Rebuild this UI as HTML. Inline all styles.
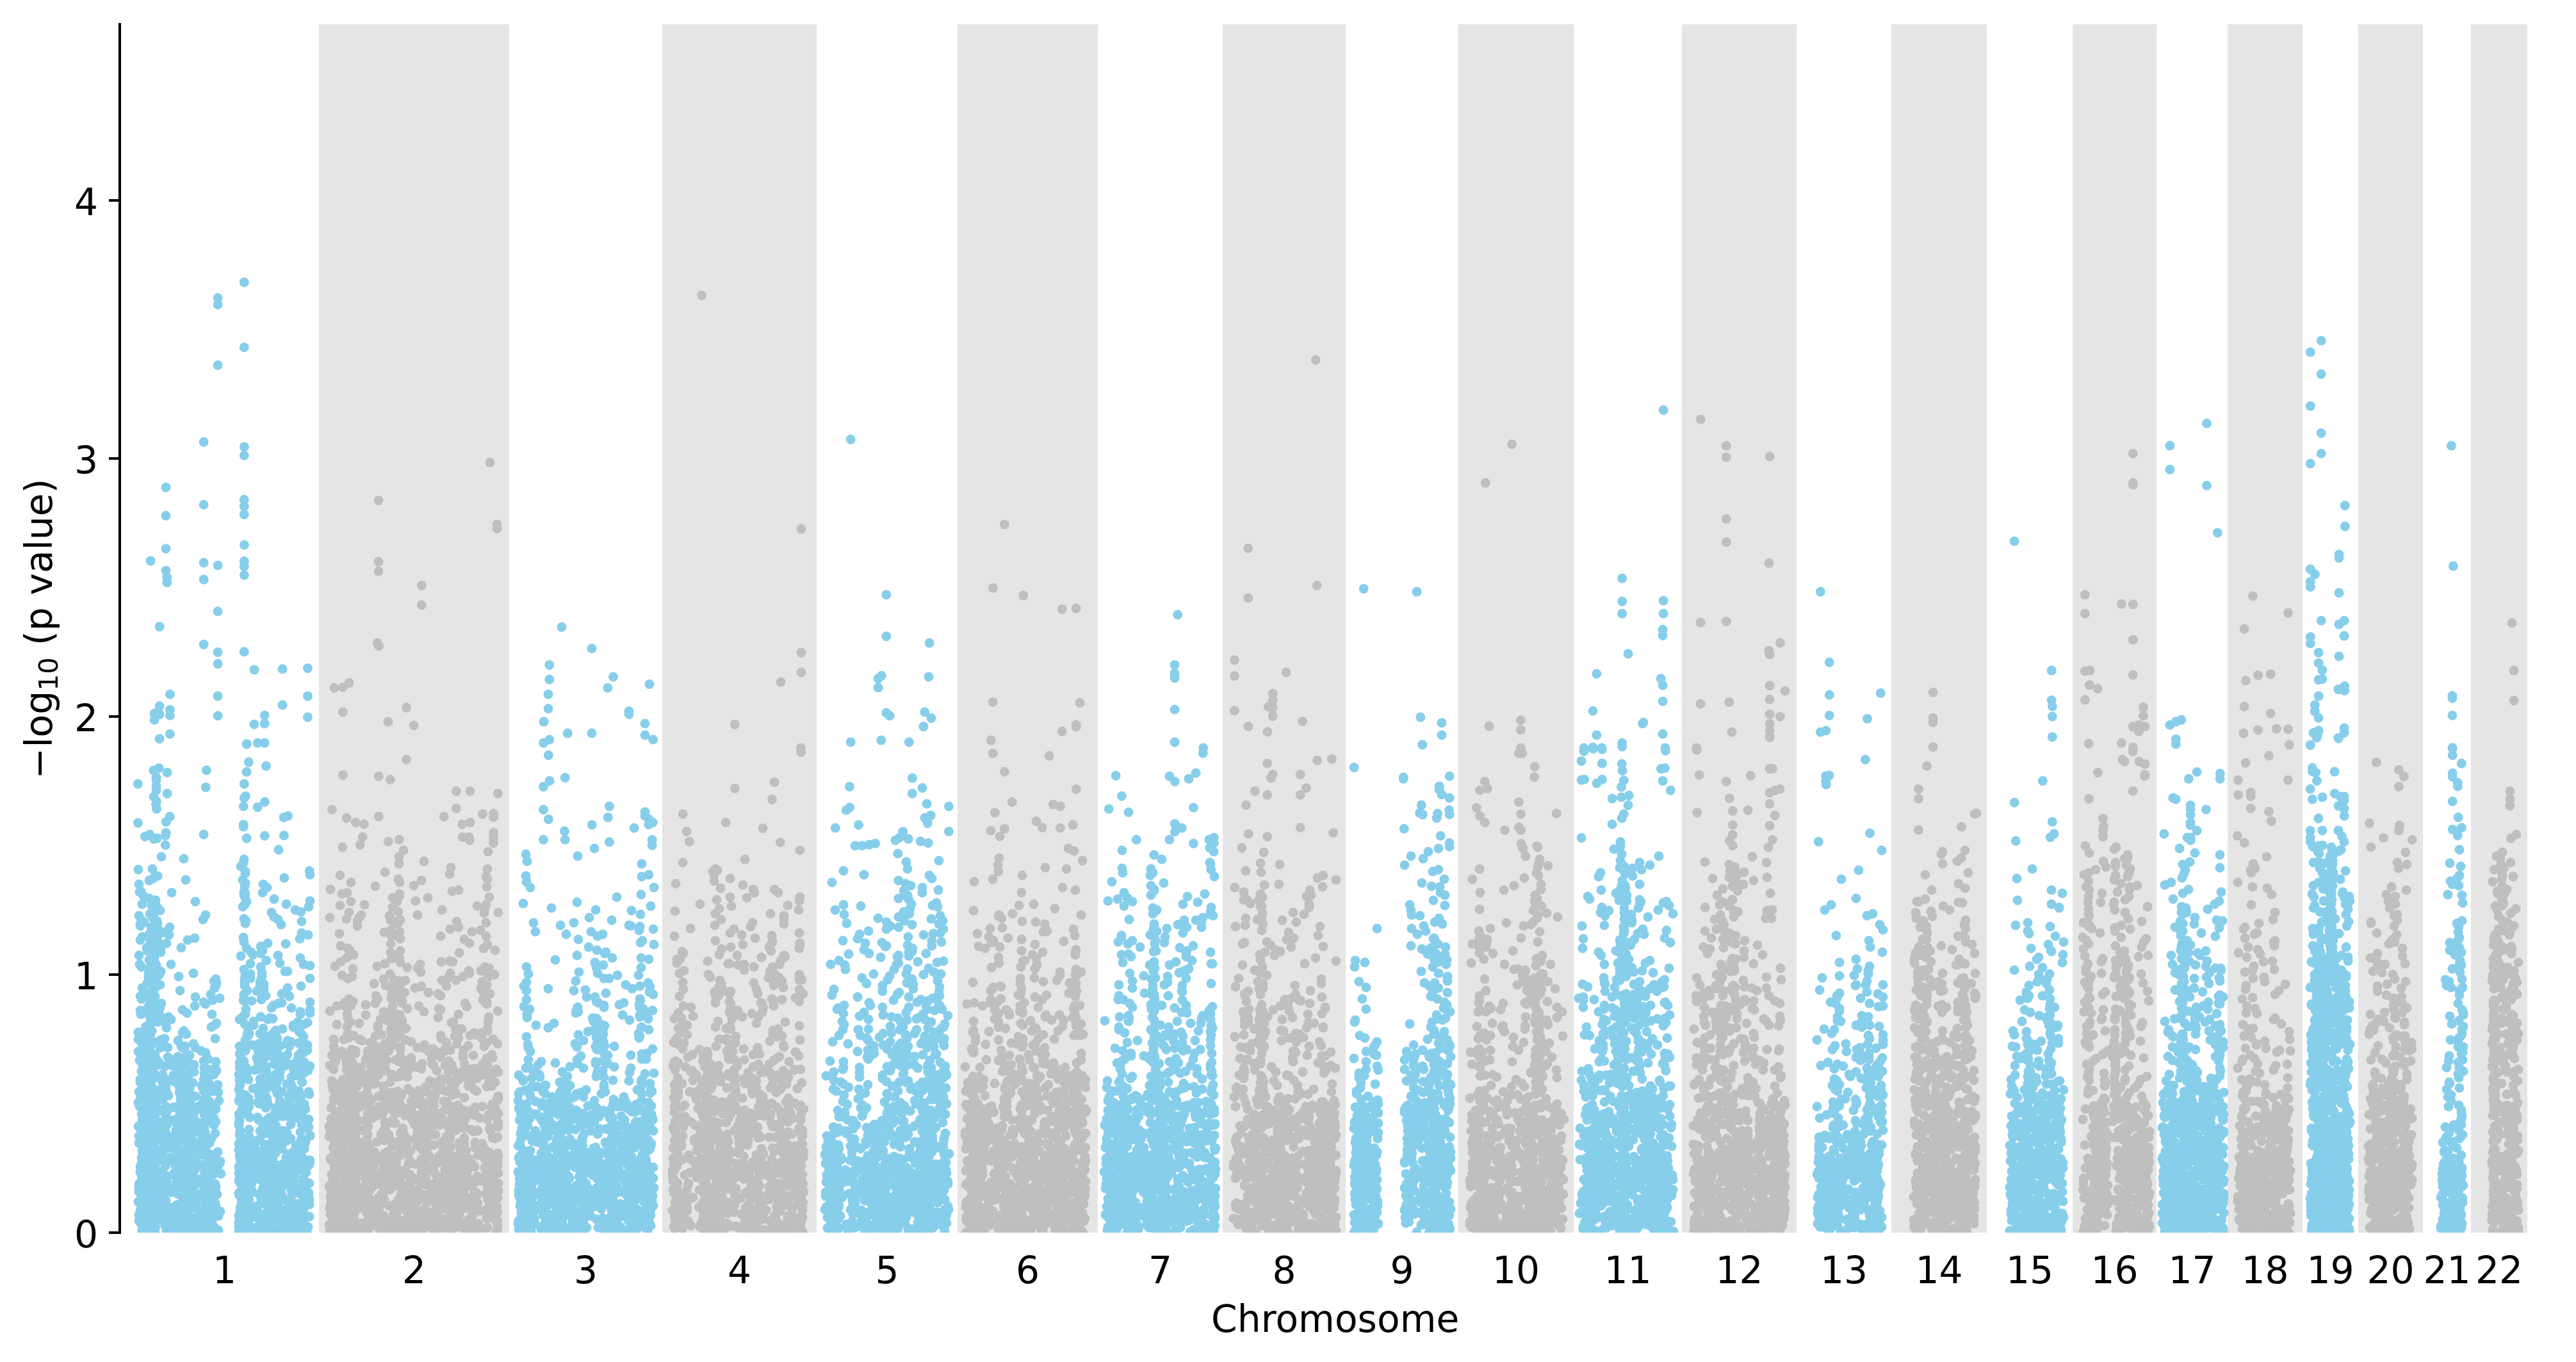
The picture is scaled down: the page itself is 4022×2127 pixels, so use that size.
<!DOCTYPE html><html><head><meta charset="utf-8"><title>Manhattan plot</title><style>html,body{margin:0;padding:0;background:#fff;}svg{display:block;}text{font-family:"DejaVu Sans","Liberation Sans",sans-serif;}</style></head><body><svg width="4022" height="2127" viewBox="0 0 4022 2127"><rect width="4022" height="2127" fill="#fff"/><g fill="#e5e5e5"><rect x="498" y="38" width="297" height="1887"/><rect x="1034" y="38" width="241" height="1887"/><rect x="1495" y="38" width="219" height="1887"/><rect x="1909" y="38" width="192" height="1887"/><rect x="2277" y="38" width="180" height="1887"/><rect x="2626" y="38" width="179" height="1887"/><rect x="2953" y="38" width="149" height="1887"/><rect x="3236" y="38" width="131" height="1887"/><rect x="3478" y="38" width="117" height="1887"/><rect x="3682" y="38" width="101" height="1887"/><rect x="3858" y="38" width="88" height="1887"/></g><clipPath id="c"><rect x="187" y="38" width="3795" height="1887"/></clipPath><g clip-path="url(#c)" fill="none" stroke-linecap="round" stroke-width="15"><path stroke="#87ceeb" d="M225 1923h0m14 0h0m21-2h0m-26 3h0m8 0h0m-20-1h0m3 1h0m4-5h0m4 0h0m-10 0h0m10-1h0m2 1h0m-13 0h0m36-5h0m-15 2h0m-11-3h0m28 4h0m-36 0h0m12 0h0m0-5h0m-15 0h0m2 0h0m17-1h0m0-1h0m-4 1h0m-19-5h0m37 0h0m-36 2h0m24 1h0m13-4h0m-35 2h0m30-3h0m12-3h0m-27 2h0m1-2h0m16 1h0m-24 2h0m5-2h0m10-5h0m-26 0h0m17 1h0m-7 2h0m23-3h0m-28 1h0m37-5h0m-14 4h0m-3-1h0m10 0h0m-10-2h0m-20 0h0m12-4h0m-13 0h0m12 1h0m8 1h0m-22-2h0m11 1h0m16-5h0m-4 3h0m-10-4h0m13 2h0m-1 0h0m-22-1h0m12-2h0m17 0h0m-12-1h0m-5-2h0m-9 4h0m35-1h0m-28-6h0m7-1h0m-9 4h0m16-1h0m7 0h0m2-3h0m-39 0h0m26-1h0m-19 1h0m11-1h0m-14 1h0m39-2h0m-28 1h0m4-3h0m-2-1h0m6 0h0m-8-1h0m-10-2h0m32 3h0m-14-6h0m-11 2h0m15-2h0m-14-1h0m10 1h0m-9 1h0m29-4h0m-21-1h0m-12 2h0m9-3h0m-13 1h0m-5-1h0m6-1h0m22 0h0m-9 0h0m-5-1h0m13-1h0m-21 0h0m-6-3h0m37 0h0m-29 1h0m17-2h0m-25 2h0m7 0h0m10-5h0m15-2h0m-32 0h0m20 1h0m23 2h0m-1-2h0m-5-3h0m-23 1h0m19-2h0m-19-1h0m-7 0h0m8 3h0m28-3h0m-39-2h0m33-2h0m-22 1h0m-9 0h0m6 0h0m18-2h0m-23-3h0m38 0h0m-19 2h0m-8-1h0m-13 0h0m10 1h0m17-4h0m-28 0h0m15 1h0m7 0h0m-8-3h0m2 0h0m1 0h0m-3-2h0m-16-1h0m1-1h0m27 0h0m-10 1h0m17 0h0m-29-2h0m-1-1h0m0-2h0m9 2h0m8-2h0m-9 0h0m-13-3h0m13 1h0m-4 1h0m-3-1h0m9 1h0m24-3h0m-25-5h0m9 3h0m0-1h0m-7 1h0m1-2h0m23 2h0m-19-2h0m-9-3h0m2-1h0m-8 0h0m-4 3h0m13-1h0m2-1h0m12-2h0m8-1h0m-15-2h0m-6 0h0m2-1h0m24 1h0m-34-2h0m7-1h0m-13 2h0m29 0h0m-2-1h0m-7-2h0m-7-1h0m20-1h0m-25 0h0m-5-2h0m1-1h0m9-1h0m-12-2h0m10 3h0m-9 0h0m6-1h0m26-6h0m-12-1h0m2 3h0m17-2h0m-37-4h0m5 3h0m-8-3h0m37-1h0m-27-2h0m-9 0h0m-6-1h0m13 1h0m24-5h0m-13 3h0m-8-4h0m3 2h0m9-3h0m-23 0h0m3-2h0m29-1h0m-19 1h0m15-5h0m-33 2h0m9-1h0m35 0h0m-19-4h0m-6 1h0m5 2h0m0-1h0m-13 0h0m9-4h0m21-2h0m-22 0h0m7 0h0m-17 1h0m-6-5h0m3 2h0m8-3h0m25 1h0m-38 0h0m18-4h0m-20 2h0m45-3h0m-12 4h0m-24-5h0m11-1h0m-3 1h0m12-1h0m-18-4h0m29 0h0m-24 1h0m-10-1h0m20-4h0m-13-2h0m6 3h0m25-2h0m-27-5h0m-8 1h0m12 0h0m-16-1h0m2-1h0m20 0h0m-2-3h0m13 0h0m-28-4h0m7 0h0m-5 3h0m33 0h0m-7-3h0m-36-4h0m11 3h0m10 0h0m20-3h0m-16-4h0m-9 3h0m2 0h0m1-2h0m-21-3h0m20 0h0m-18 0h0m16-1h0m-15-4h0m18 2h0m17-2h0m-30 0h0m14-3h0m3-2h0m10 1h0m-11-2h0m-20-1h0m39-2h0m-42-3h0m43 0h0m-29 1h0m-10-6h0m26 3h0m-2 0h0m14-7h0m-24 1h0m2 0h0m-14-1h0m4-4h0m-6 1h0m34-2h0m-36-1h0m17-1h0m18 2h0m-35-5h0m28-3h0m-23 4h0m25-4h0m-9-1h0m-7 1h0m7-1h0m-5-5h0m19 1h0m-19 0h0m-6-2h0m2-2h0m-10-1h0m19 1h0m-9-7h0m3 3h0m-11-2h0m27-5h0m8 2h0m-18 0h0m-17-5h0m-1 1h0m19 0h0m-23-5h0m19 2h0m11 1h0m-14-2h0m-14-5h0m3 0h0m21 2h0m-22-4h0m40 1h0m-32-2h0m-10-5h0m11-1h0m11 4h0m-25-5h0m-1 0h0m4 0h0m4-2h0m10-3h0m16-1h0m12 0h0m-11-1h0m4-1h0m-32-2h0m13-1h0m-14-1h0m7-2h0m11-1h0m-10-4h0m21 1h0m-35-1h0m9-1h0m32 0h0m-36-3h0m3-2h0m-6 1h0m17-3h0m-11-3h0m-1-1h0m-7 1h0m19-4h0m2 2h0m23-5h0m-32-2h0m7-3h0m24-1h0m-13-3h0m-9 0h0m0-4h0m-2 2h0m-1-7h0m17 1h0m-12-4h0m-19 0h0m17-3h0m11-2h0m-15 2h0m-14-3h0m19-2h0m12-3h0m-19 0h0m3-6h0m18 0h0m-13-3h0m1 0h0m-19-4h0m12-1h0m-14-3h0m23 0h0m-13-2h0m8-1h0m2-4h0m-3-1h0m6-5h0m-20 0h0m18-3h0m10-2h0m-7 2h0m-13-5h0m9 3h0m5-5h0m-9-2h0m3-1h0m0-3h0m-6 0h0m17-5h0m-15 1h0m6-4h0m-1 3h0m-7-2h0m19-3h0m-13-2h0m-5-3h0m5 1h0m6-6h0m-23 3h0m17-6h0m-20 2h0m22-3h0m-2-4h0m-5 0h0m8 1h0m0-5h0m-1 0h0m-2 0h0m-21-3h0m22 1h0m-1-5h0m13-1h0m0-5h0m-21 3h0m-1-5h0m4 2h0m7-7h0m9 2h0m-3-1h0m-11-6h0m25 3h0m-41-5h0m27 1h0m-5-5h0m-5 0h0m-14-1h0m11-4h0m11 2h0m15-6h0m-7 2h0m-15-3h0m10-3h0m-1 1h0m-9-1h0m-18-5h0m17 2h0m-17-5h0m27-1h0m-1-4h0m-20 2h0m14-6h0m-18 3h0m-4-7h0m22 0h0m-3-1h0m-2-2h0m4-2h0m12-3h0m-10-4h0m7 1h0m-10-5h0m7 1h0m-22-3h0m16-6h0m5 0h0m-10-3h0m-9-4h0m-6-6h0m2-1h0m-3-11h0m16-6h0m6-3h0m7-4h0m-30-10h0m22-1h0m14-19h0m68 585h0m-29 0h0m-26 0h0m66-1h0m-6 1h0m16-2h0m-18 4h0m-38-4h0m12-1h0m-20 0h0m23 0h0m3-2h0m8 2h0m24-3h0m-13-4h0m-7 0h0m10 3h0m-57-3h0m45 4h0m11-2h0m5 0h0m-37 2h0m-14-7h0m38 2h0m2-1h0m-26 1h0m19-1h0m14-1h0m-13 1h0m16 0h0m-38-4h0m33-1h0m-9 0h0m13-1h0m-44 2h0m48 1h0m-12-2h0m-17 0h0m3-4h0m-17 1h0m25 0h0m-39-1h0m10-1h0m-4 2h0m-1 0h0m-3-6h0m19 1h0m46 1h0m-50 1h0m1-2h0m-7 0h0m-4 2h0m60-4h0m-15-2h0m-7 1h0m10 0h0m-53 1h0m43-3h0m18 1h0m-20 0h0m-9-5h0m1 1h0m4 1h0m-44-2h0m75 3h0m-52-1h0m20 0h0m-40 0h0m48-3h0m-37 0h0m42-1h0m-57-1h0m38-1h0m-18 3h0m15-2h0m-10 1h0m33-5h0m-25 1h0m36 1h0m-9-3h0m-43 2h0m38-1h0m-47 0h0m4-1h0m47-1h0m4-2h0m-33 0h0m38 1h0m-41 1h0m-10-2h0m19 0h0m16 1h0m4-3h0m10 0h0m-37-2h0m21 2h0m-24 0h0m12-1h0m-2 1h0m23-3h0m-41-1h0m40-1h0m-30 0h0m32-2h0m-28 0h0m0 0h0m6 3h0m-10-2h0m32-3h0m-19-2h0m-25 3h0m4 0h0m-10-3h0m4 0h0m21 2h0m36-2h0m-72-3h0m64 0h0m-26 2h0m-26-1h0m-1-1h0m41 0h0m17-1h0m-59 0h0m22-4h0m29 2h0m-29 0h0m-18-2h0m16 0h0m29 3h0m-38-3h0m-18 0h0m58-2h0m-41-2h0m-11 1h0m61 0h0m-19 0h0m-18 2h0m-13-3h0m38-1h0m2-2h0m-53 1h0m62-2h0m-19 0h0m-13 2h0m26 0h0m-32-5h0m-22 1h0m-1 0h0m14 0h0m-11-2h0m15 3h0m-17 0h0m46-2h0m-41-6h0m35 4h0m-40 0h0m31-3h0m-18 0h0m0 1h0m9-1h0m24 2h0m-4-4h0m-36 1h0m5 0h0m39 0h0m1-2h0m-9 0h0m9 0h0m-28-1h0m-21-4h0m20 0h0m47 0h0m-73 2h0m61-1h0m-13 0h0m-31 1h0m11-3h0m40-4h0m-56 2h0m16-1h0m-10 0h0m35 1h0m-53 2h0m48-1h0m-32-2h0m12-4h0m4 2h0m-20-2h0m42 3h0m-9-4h0m11 2h0m-34 0h0m33 0h0m-23-4h0m13 2h0m2-3h0m-35 2h0m-10-2h0m50 0h0m-36 3h0m-5-3h0m57-3h0m-62 2h0m11-4h0m24 3h0m-17 0h0m33 0h0m14-2h0m-48 2h0m-19-4h0m-2 1h0m7-3h0m27 3h0m-10-4h0m38 0h0m-46 2h0m54 0h0m-67-5h0m12 1h0m11 1h0m23-3h0m-55 3h0m22-2h0m-15 3h0m12-1h0m-5-6h0m18 0h0m36 2h0m-68 1h0m9-3h0m3 3h0m8-2h0m-22 2h0m45-7h0m18 2h0m-41-1h0m7 1h0m19 0h0m-39-5h0m7 1h0m-7-3h0m45 2h0m-5 0h0m25 1h0m-62-5h0m36 0h0m-51-1h0m29 2h0m29-1h0m-19 1h0m-27-7h0m34 4h0m2-4h0m-48 3h0m11-1h0m47-5h0m-18 3h0m24-3h0m-3-1h0m-34 1h0m-16-3h0m42 0h0m-21 1h0m7-1h0m-20-2h0m-16-3h0m11 1h0m13 0h0m26-2h0m-38 1h0m52 1h0m-48-4h0m8 1h0m-20 0h0m20-2h0m0 1h0m46-4h0m-47 2h0m31-4h0m-20 2h0m-26 1h0m1-6h0m0 0h0m30 3h0m9-4h0m-39 3h0m13-6h0m29 0h0m-29-1h0m31 2h0m-22-1h0m5-4h0m-25 1h0m-1-2h0m18 1h0m40 0h0m-13-5h0m-3 1h0m19-1h0m-30 0h0m25 2h0m3-4h0m-41 0h0m32 0h0m-51-2h0m-6 2h0m25-5h0m-12 2h0m18-2h0m-5 1h0m-16-1h0m55 1h0m-32-4h0m-14-2h0m32 0h0m9 2h0m-10-1h0m-29-4h0m5 1h0m-12 0h0m7 1h0m-9-2h0m43 2h0m-35-6h0m14 1h0m-1 0h0m4 0h0m31-2h0m-14-3h0m-5 1h0m-43-1h0m13 0h0m-15 0h0m-2 0h0m59-2h0m-21 1h0m27-2h0m-43-2h0m-4 0h0m7 0h0m21-3h0m10-1h0m-36 1h0m31 1h0m-3-6h0m-37 1h0m16 0h0m44 2h0m-60-6h0m23-1h0m-14 0h0m11 0h0m-12-4h0m33 0h0m-26 0h0m-34 3h0m78-5h0m-9-2h0m-14 0h0m-38 2h0m16-6h0m21 0h0m-28 0h0m30 3h0m-39-6h0m35-2h0m1 2h0m14 1h0m-52-5h0m49 1h0m13 0h0m-14-3h0m-54-2h0m29 2h0m-17-2h0m4 1h0m30-4h0m-25 1h0m32 0h0m-63 0h0m62-6h0m-37 1h0m4-2h0m-13 3h0m-7-4h0m63-1h0m-15-2h0m-23 1h0m7-3h0m24 0h0m11-2h0m-12-2h0m-44 1h0m54-3h0m-17-1h0m-43-2h0m19 1h0m-26-2h0m34-1h0m-25-1h0m20 0h0m-11-1h0m50-3h0m-19-1h0m-49-2h0m56-1h0m-45 0h0m7-1h0m9-5h0m-18 2h0m14-4h0m29-2h0m-7-3h0m-29-5h0m20 0h0m-22-2h0m6 0h0m13-4h0m-24-5h0m58-3h0m-45-7h0m-6-2h0m2-3h0m43-6h0m6-4h0m2-2h0m-71-6h0m-4-4h0m68-4h0m-39-2h0m-7-5h0m19-6h0m17-3h0m-3-3h0m14-3h0m11-3h0m-38-2h0m24-4h0m-48-6h0m54-4h0m2-4h0m1-4h0m-4-3h0m3-3h0m-58-4h0m23-5h0m-35-14h0m16-26h0m10-12h0m11-3h0m-40-5h0m1-12h0m52-12h0m4-7h0m-16-21h0m-37-14h0m22-20h0m-3-33h0m86 582h0m9-2h0m-8 0h0m6-8h0m-7 3h0m0-7h0m4 1h0m-2-4h0m-1-3h0m-1-5h0m12-3h0m-10-2h0m0-7h0m7-3h0m-2-4h0m-3-2h0m3-5h0m-5-5h0m-1 0h0m0-5h0m-1 2h0m6-4h0m2-3h0m-1-4h0m2 2h0m-5-7h0m4 3h0m-6-3h0m-2-4h0m1-4h0m1-7h0m-2-1h0m1-7h0m3-3h0m-4 0h0m7-3h0m-4-6h0m-1-2h0m4-2h0m-5-4h0m5-3h0m-6-6h0m7-1h0m5-6h0m-12-3h0m3-6h0m3-1h0m-5-7h0m1-2h0m0-4h0m-2-9h0m0-4h0m1-3h0m0-5h0m-1-5h0m2-1h0m2-5h0m6-5h0m-4-2h0m0-5h0m-6-3h0m2-7h0m8-2h0m-8-4h0m-2-4h0m1-6h0m1-2h0m0-4h0m-1-3h0m11-6h0m-12-3h0m12-3h0m-1-8h0m-10 0h0m0-7h0m7-3h0m-5-7h0m-2-4h0m9-5h0m2-6h0m-11-1h0m11-5h0m-2-5h0m3-10h0m-4-15h0m-8-7h0m6-5h0m3-3h0m1-8h0m-2-13h0m-2-1h0m1-8h0m0-1h0m5-6h0m-4-8h0m0-4h0m0-4h0m0-2h0m1-7h0m-2-8h0m-5-21h0m9-12h0m-4-10h0m-1-7h0m3-22h0m1-4h0m-3-3h0m-2-19h0m3-3h0m3-5h0m-2-6h0m-2-4h0m2-3h0m-2-2h0m1-9h0m1-5h0m-4-5h0m4-10h0m0-3h0m-7-8h0m4-5h0m1-6h0m5 581h0m1-6h0m-1-1h0m1-6h0m1-3h0m-1-3h0m-1-5h0m1-5h0m-1-4h0m3-4h0m-2-5h0m2-7h0m-3-4h0m7-8h0m0-3h0m-4-5h0m2-3h0m2-3h0m-6-5h0m1-3h0m2-9h0m-4-4h0m6-4h0m-2-5h0m4-9h0m-1-2h0m-6-5h0m0-2h0m5-5h0m-5-4h0m7-10h0m-7-3h0m2-3h0m0-11h0m1-19h0m-4-5h0m2-10h0m1-4h0m0-6h0m-1-5h0m7-15h0m-7-14h0m6-54h0m-6-15h0m1-3h0m-3-11h0m1 0h0m6-40h0m-2-35h0m0-7h0m0-16h0m4-14h0m-3-4h0m69 437h0m-24-1h0m-4 1h0m11 0h0m35-2h0m-65 1h0m60 0h0m-73-1h0m20-1h0m27-4h0m-30 4h0m48-1h0m5 0h0m-14-1h0m-5 0h0m-27-1h0m-21 0h0m67-2h0m-23-1h0m-6 0h0m39 1h0m-26-1h0m11 2h0m-56-4h0m-12 4h0m8-4h0m16-1h0m45-1h0m-29 2h0m20-3h0m14 3h0m-50-3h0m1 3h0m43-4h0m-53-1h0m60 0h0m-16-1h0m-18 0h0m-32-1h0m6 3h0m40-1h0m-42-2h0m56-4h0m-57 1h0m47-2h0m13 2h0m-36 1h0m34-3h0m-36 3h0m-12-1h0m12-1h0m-17-4h0m51 0h0m12 1h0m-35 1h0m40 0h0m-11-1h0m-40-2h0m-18 1h0m-14 3h0m36-6h0m3-2h0m18 3h0m15-2h0m-75 1h0m51-2h0m-34 2h0m17 1h0m31-5h0m-6 2h0m3-4h0m-20 1h0m8 2h0m-25-1h0m24-2h0m-51 2h0m7 2h0m50-8h0m-29 1h0m27-1h0m0 1h0m-20 0h0m39 2h0m5 0h0m-78-3h0m33-2h0m33 1h0m-32-1h0m0 1h0m4-1h0m49-2h0m-85 4h0m25-1h0m-20-1h0m62-3h0m-52 0h0m54 0h0m-50 0h0m-1-1h0m-1-1h0m56 1h0m-12 0h0m13-1h0m-36-5h0m-9 1h0m-18 1h0m6 1h0m34-2h0m-11 1h0m45 0h0m-36 0h0m-17-5h0m-2 1h0m25 1h0m-27-1h0m49 1h0m-67 0h0m75 0h0m-42 0h0m-33-5h0m19-1h0m-14 0h0m27 0h0m16 0h0m-29 1h0m-23-2h0m26 0h0m-20-2h0m72 0h0m-60-2h0m2 2h0m44 1h0m-55 0h0m57 0h0m-43-1h0m-14-1h0m55-5h0m-30 3h0m17 0h0m-38-2h0m61 0h0m-57 0h0m33-1h0m13 0h0m-11-4h0m20 0h0m-45 1h0m2 1h0m-23 1h0m65-3h0m-18 2h0m-44 0h0m52-1h0m-5-5h0m-34 2h0m40 1h0m-17-1h0m7-2h0m18 1h0m-17 1h0m-27 0h0m-14-3h0m56-1h0m-20-2h0m6 0h0m13 2h0m12 1h0m-43-1h0m19 0h0m-53-5h0m9 2h0m-2-1h0m61-3h0m-61 2h0m17 2h0m1-2h0m-16 0h0m2-1h0m-14-3h0m31 1h0m-22 1h0m-17-2h0m59 2h0m-25-3h0m13 1h0m-26 1h0m42-2h0m-55-4h0m18 0h0m23-1h0m-28 1h0m-4 3h0m25-3h0m18 1h0m5 2h0m-44-3h0m5-4h0m-17 1h0m8 2h0m65-3h0m1 2h0m-53 0h0m-21 0h0m29 0h0m38-4h0m-16 1h0m-21-2h0m-17 2h0m-16-2h0m48 0h0m19 0h0m-56-1h0m-9-4h0m17 2h0m45 1h0m-58-3h0m55 3h0m11-1h0m-58 0h0m1 0h0m37-2h0m29-2h0m-69-2h0m48 1h0m-31 1h0m7 1h0m23-4h0m-5 1h0m27 3h0m2-5h0m0-1h0m-63 1h0m-8 0h0m43-3h0m-41 2h0m30 1h0m23-2h0m-53-4h0m41 1h0m28 2h0m-58-3h0m-6 1h0m61 2h0m-10-4h0m-66 3h0m8 1h0m5-4h0m5 0h0m48-2h0m-19 0h0m-51 1h0m1-2h0m13 2h0m32 0h0m12-4h0m-55-3h0m47 2h0m-28 2h0m-14 0h0m21-3h0m-21-4h0m50 1h0m-59-1h0m20 1h0m-4 1h0m49-2h0m10-3h0m-36 0h0m-1-2h0m28 3h0m-26-1h0m-24 2h0m59-8h0m-78 1h0m30 2h0m35-2h0m9 2h0m4-1h0m-53-3h0m55-3h0m-79 1h0m15 2h0m-18-1h0m46 0h0m-11-3h0m40-1h0m-71 1h0m50-2h0m-20 0h0m3 1h0m42-2h0m-48 0h0m28-2h0m-49 1h0m44-3h0m21 4h0m14-6h0m-37 1h0m-23-3h0m17 2h0m-16-2h0m59 1h0m-68-4h0m-2 1h0m19 1h0m15-2h0m-17 3h0m-23-4h0m61 0h0m-33-1h0m-1-2h0m8 1h0m-37 0h0m33 0h0m-14-6h0m57 0h0m-67 1h0m14 0h0m45 1h0m-43-4h0m40-2h0m-45 2h0m28-2h0m24 3h0m2-1h0m-5-3h0m-21 0h0m21-2h0m-21 2h0m-44-1h0m12 1h0m33-7h0m-51 1h0m20 1h0m58-2h0m-68 3h0m3-2h0m55-3h0m-42 0h0m-7 1h0m-2-2h0m42 1h0m-61-1h0m42-2h0m-5 0h0m0 0h0m33 0h0m-41-3h0m6 2h0m-5-3h0m38-2h0m-28 0h0m16 2h0m-12-2h0m31-5h0m-23 2h0m-7-2h0m-16 3h0m-1 0h0m34-3h0m-34-2h0m25 0h0m-1-2h0m-39 2h0m49-1h0m4 2h0m-25-6h0m27 1h0m-20-2h0m-45 0h0m48 2h0m22-2h0m-60-2h0m3 1h0m-15-2h0m6 1h0m0-3h0m8-3h0m48 0h0m-28 3h0m-22-6h0m40 1h0m15-2h0m-19 1h0m6-3h0m26-1h0m-79 1h0m29-2h0m34-4h0m15 1h0m-42 0h0m15-1h0m-48 0h0m24-1h0m29 0h0m-27-2h0m-18 1h0m-10-6h0m20 0h0m32 3h0m-44-2h0m35-4h0m-34 0h0m41 1h0m-36-1h0m9-5h0m-7-1h0m12 2h0m39 1h0m-66-5h0m21-1h0m5 0h0m-2 2h0m25-4h0m-18 1h0m28-3h0m-7 0h0m-43-3h0m16 1h0m43-2h0m-44 2h0m38-6h0m-31 2h0m44-2h0m-65 0h0m53 0h0m-5-2h0m-6-1h0m-54 1h0m-7 1h0m18-6h0m29 0h0m-7-1h0m-4 0h0m51 1h0m-81-6h0m67 0h0m-14 3h0m-51-1h0m23 1h0m17-6h0m-36 0h0m66 3h0m-64-4h0m-7-3h0m61 2h0m-32-3h0m-32 1h0m65-4h0m1-1h0m-32 0h0m-13 2h0m49-5h0m-22 3h0m-33-1h0m58-2h0m-60-4h0m-11 1h0m77-1h0m-9 2h0m-43-4h0m-17-3h0m6 0h0m13 0h0m8-2h0m14 1h0m28-2h0m-5 1h0m-9-4h0m-39-1h0m-23 2h0m16-3h0m29-2h0m5 2h0m-22-4h0m-19 0h0m20-2h0m41-2h0m-62 3h0m12-6h0m-13 0h0m61 0h0m-45 1h0m40-6h0m-38 0h0m-23 3h0m35-7h0m-10 2h0m27-5h0m-47 2h0m47-5h0m-62 0h0m78-1h0m-9-4h0m-69-1h0m84 2h0m-62-5h0m8-1h0m-19-3h0m14 2h0m48-6h0m15-2h0m-15-2h0m15-3h0m-60-3h0m31 0h0m-28-4h0m8-3h0m5-1h0m44-1h0m-76-4h0m7-6h0m37 1h0m-12-4h0m-30-2h0m2-1h0m-11-1h0m48-5h0m-37 0h0m-6-4h0m64 1h0m-58-3h0m-6-3h0m78-6h0m-76 0h0m1-3h0m0-6h0m36-2h0m4 0h0m-42-7h0m77-2h0m-10-2h0m-37-2h0m-21-4h0m53-4h0m-35-4h0m-27-3h0m3-5h0m-3-6h0m39-4h0m-28-1h0m50-7h0m13-6h0m-10-3h0m-32-13h0m32-5h0m-37-3h0m-6-4h0m-4-7h0m46-1h0m-9-3h0m21-5h0m-35-4h0m37-5h0m-56-3h0m-18-10h0m7-8h0m-6-5h0m33-10h0m40-5h0m-1-6h0m-48-33h0m448 596h0m-54 0h0m54 0h0m-4-1h0m-66 2h0m45-2h0m19-1h0m-3 0h0m3-1h0m-15 1h0m-52-1h0m35 0h0m15-3h0m-45 2h0m72 0h0m-10-1h0m-56-5h0m51 4h0m-11-1h0m20 0h0m8 1h0m-14-2h0m-63-1h0m51 2h0m-11-5h0m-16 1h0m21 0h0m-48-1h0m42-1h0m-25 0h0m41 1h0m5-1h0m-60-4h0m59 0h0m7 0h0m-22 1h0m13-2h0m-59 1h0m49 2h0m-45-1h0m17 1h0m31-4h0m15 0h0m-43-1h0m27 0h0m16-1h0m-46-1h0m1 2h0m-6 0h0m54-6h0m-32 1h0m-16 0h0m27-1h0m-44 0h0m58 1h0m-5 1h0m-17-1h0m24-3h0m2-2h0m5 3h0m-56-2h0m7-1h0m-19 2h0m63-1h0m-1 1h0m-7-6h0m-29 0h0m-26 1h0m68 1h0m-36-2h0m-29 3h0m53-2h0m19 3h0m-37-6h0m-30 1h0m25 1h0m0-3h0m34 2h0m-30 1h0m-4-3h0m-14 2h0m14-4h0m3-3h0m3 4h0m-41-2h0m2 0h0m19-2h0m-19 1h0m3 0h0m47-1h0m-18-4h0m-33 0h0m60 0h0m4 1h0m-46 2h0m-12-1h0m67-1h0m-3 2h0m-11-6h0m-17 0h0m31-1h0m-30 3h0m2 0h0m-8-3h0m29 1h0m-1 1h0m-67-6h0m61 1h0m-42 1h0m-9 0h0m66-1h0m-39 0h0m29 1h0m-29 0h0m30 0h0m-6-6h0m4 1h0m-8 1h0m-58-2h0m38 0h0m33 1h0m-44 0h0m30-1h0m1 3h0m-28-4h0m-8-2h0m53 2h0m-42-3h0m4 1h0m38-1h0m-27 3h0m24-3h0m-12-1h0m-23-3h0m-24 1h0m8 1h0m27-1h0m-48 1h0m3-2h0m14 0h0m-11-2h0m35 0h0m24-1h0m-28 0h0m31 2h0m-60-3h0m63 2h0m-68 0h0m-1-5h0m67 1h0m6 0h0m-33 1h0m11-2h0m-52 0h0m61-1h0m-54 2h0m6 1h0m31-7h0m22 2h0m-26 0h0m-31 0h0m-4 1h0m16-1h0m-1 1h0m-17 0h0m50-3h0m11-3h0m-28 1h0m19 1h0m0-1h0m-55-2h0m63 1h0m-25 2h0m2 0h0m-8-1h0m45-6h0m-8 3h0m9 0h0m-62-1h0m11-1h0m48-1h0m-29 0h0m-41 2h0m64-5h0m-53 0h0m40 2h0m8-4h0m6 2h0m-70 0h0m32 0h0m-16 0h0m41-3h0m-53-1h0m21 0h0m-27 0h0m15 0h0m-2-1h0m3 0h0m3 1h0m17-4h0m-22 2h0m23 0h0m-29-3h0m41 2h0m11-1h0m-53 0h0m25 2h0m41-4h0m-11 0h0m5-4h0m-8 2h0m-31-2h0m47 4h0m-11-3h0m-41 2h0m45-6h0m-31 2h0m-13 1h0m-16-2h0m10-1h0m21 2h0m31-1h0m-20 0h0m-33-2h0m19-1h0m25-1h0m-54 1h0m42 0h0m-46 0h0m74-3h0m-69 3h0m67-3h0m-5-3h0m-61 3h0m17 0h0m17-1h0m-42-3h0m19 2h0m39 2h0m20-7h0m-73 0h0m55-1h0m2 1h0m-60 0h0m45 2h0m-43-1h0m56 2h0m-24-4h0m-1-3h0m33 1h0m-1-1h0m-29 2h0m27 1h0m-23-7h0m24 3h0m-6-3h0m-48 1h0m-5 1h0m11-2h0m-12-1h0m34-4h0m4 4h0m22-2h0m-1-2h0m-8 1h0m10-2h0m-68-2h0m3 0h0m51 2h0m15-2h0m5 2h0m6-3h0m-78-1h0m34-1h0m34-2h0m-5 3h0m8 0h0m-51-5h0m53 1h0m-35 0h0m-12 0h0m32 0h0m7 0h0m-28-7h0m-35 4h0m29-3h0m28 1h0m6-1h0m-7 3h0m-14-5h0m20-1h0m-24-2h0m-13 1h0m13 1h0m-25 0h0m-13-3h0m61-1h0m1-2h0m-62 1h0m8 2h0m55-6h0m-40 1h0m-21-1h0m51 1h0m21-1h0m-36 3h0m-31-8h0m35 1h0m31-1h0m-34 0h0m-37 1h0m42 3h0m19-8h0m-10 2h0m-16 0h0m36-1h0m-62 1h0m27 0h0m-36-5h0m44-1h0m-9 1h0m35 1h0m-69-2h0m73 1h0m-32-5h0m-46 1h0m35 1h0m35 1h0m-67-2h0m12-5h0m-1 3h0m22-2h0m-4 0h0m-16 2h0m25 0h0m-38-4h0m24-3h0m-2 0h0m36 1h0m16 1h0m-53-2h0m43-4h0m-19 1h0m30 2h0m-21-1h0m-55 1h0m2-2h0m10-2h0m-11-1h0m50-1h0m-9 0h0m7-1h0m27-3h0m-34-1h0m-45 3h0m45-2h0m13 0h0m-46-5h0m24 3h0m30 0h0m1-1h0m6 1h0m-5-3h0m-4-1h0m-18 0h0m-20-3h0m10 2h0m30-2h0m-8-1h0m19-1h0m-21-2h0m-57 3h0m53-6h0m22-1h0m-9 3h0m5-1h0m-70-6h0m41 0h0m27 1h0m-50 2h0m20-6h0m-36 0h0m65 0h0m-3 2h0m3-5h0m-58 1h0m29 0h0m37 0h0m-56-5h0m10-1h0m-3 0h0m16-2h0m-1 0h0m-34-7h0m62 1h0m-5 1h0m-44-6h0m-14 1h0m27-3h0m43-1h0m-76-2h0m32-1h0m-10-6h0m46 2h0m-57-6h0m19-5h0m-15 2h0m42-5h0m-22-2h0m-20-3h0m3-13h0m-3-6h0m-1-5h0m-2-12h0m34-14h0m-19-4h0m28-3h0m-42-9h0m0-5h0m4-8h0m-9-4h0m4-11h0m0-14h0m34-3h0m-38-4h0m4-6h0m3-13h0m-3-11h0m45-11h0m17-40h0m-48-4h0m39-10h0m-42-4h0m28-23h0m-44-7h0m11-25h0m-6-9h0m-1-9h0m2-23h0m-2-11h0m162 589h0m-72 1h0m-6 1h0m81 0h0m-21-1h0m-71 0h0m85 0h0m-76 0h0m108-1h0m-23 1h0m-24-3h0m24 2h0m2-6h0m-35 1h0m-21-1h0m49 1h0m-14 2h0m25 0h0m-96-1h0m83 2h0m-38 0h0m13-1h0m-46-2h0m38 0h0m46 0h0m-25-2h0m-23-3h0m-6 1h0m-42 3h0m43-3h0m75 0h0m-55 0h0m-61 1h0m96 2h0m11 0h0m-91 0h0m-18-2h0m54-2h0m50-1h0m4 0h0m9 0h0m-16 0h0m-45-2h0m10 2h0m-18-3h0m-49 3h0m93-1h0m-36 1h0m32-2h0m13-2h0m-97-2h0m79 0h0m12 2h0m-37 0h0m-45-1h0m80-1h0m-92 0h0m12-1h0m-9 2h0m97 2h0m-105-2h0m68-6h0m-21 1h0m51 0h0m-96 0h0m56 0h0m61 1h0m-107 0h0m76-1h0m-51 2h0m19 0h0m-57-2h0m62 0h0m53-3h0m-39 0h0m2 0h0m-3 1h0m-72-2h0m-5 1h0m20 2h0m81-1h0m24-2h0m-94 1h0m-12 0h0m56-1h0m-6-5h0m25 3h0m-15-3h0m36 0h0m-50 3h0m-54-2h0m1 2h0m99-1h0m-30 0h0m-67 0h0m8 1h0m73-1h0m-30-4h0m8-1h0m-9 1h0m-41 1h0m-22 1h0m64-2h0m41 0h0m-40-1h0m35 0h0m-95-1h0m1 3h0m118-3h0m-90-4h0m89 3h0m-104-3h0m97 3h0m-69 0h0m51-3h0m-80 3h0m73-2h0m-11-1h0m22 3h0m-77-2h0m100 0h0m-30-3h0m-32-2h0m9 2h0m-2-1h0m-27 2h0m47-1h0m38 0h0m-89-1h0m38 1h0m-21-2h0m-56 1h0m64 0h0m51-3h0m-38 1h0m-62-3h0m107 0h0m-62 0h0m59 0h0m-101 2h0m71-1h0m-69-1h0m10 0h0m33 1h0m-59 1h0m122-3h0m-27 0h0m-34-3h0m53 0h0m-108 2h0m111 0h0m-59-1h0m2-1h0m49 3h0m-94 0h0m44-2h0m-46 2h0m47-1h0m-9-3h0m35 0h0m6-3h0m-88 0h0m92 2h0m26-1h0m-83 0h0m12-1h0m-9 3h0m-19-1h0m24-1h0m49 1h0m-35-5h0m25 1h0m35-1h0m0 2h0m-64-3h0m24 0h0m-45 2h0m1-2h0m1 3h0m17-1h0m31-2h0m37 2h0m-68-6h0m63 2h0m-90 1h0m-15-3h0m54 1h0m13 1h0m-43 0h0m31-1h0m-46 1h0m29-1h0m54 2h0m-66 0h0m-18-7h0m32 2h0m-58-1h0m122-1h0m-45 2h0m-69-1h0m116 1h0m-24-1h0m-46 2h0m-10-1h0m59-1h0m-95 0h0m122-3h0m-38 1h0m-79-4h0m15 4h0m68-2h0m24 1h0m-111-2h0m35 0h0m76 1h0m-79 1h0m24-2h0m27 2h0m-84-3h0m106-1h0m3-2h0m-4 3h0m-41-1h0m-6 1h0m56-2h0m-76-1h0m42 2h0m3 0h0m10 0h0m-12-1h0m-78 1h0m75-5h0m22-1h0m-84 3h0m78-1h0m-11 0h0m-27-1h0m-48-1h0m37 2h0m40-1h0m-75-1h0m103 3h0m-3-1h0m-8-5h0m17-2h0m-58 1h0m29 1h0m11 1h0m-9 0h0m-58-2h0m76 1h0m-66 2h0m18-3h0m-14 2h0m39-1h0m-32-4h0m0-1h0m-17-1h0m-33 2h0m53-1h0m63 3h0m-52-2h0m-59 0h0m32 1h0m40-2h0m-29 0h0m-19 2h0m48-4h0m9-2h0m-36 3h0m28-4h0m-7 2h0m-19-1h0m0 1h0m38 1h0m-88-1h0m20 2h0m89-2h0m-106 1h0m17-3h0m-10 0h0m37 0h0m32-3h0m-29 3h0m51-2h0m-98-1h0m-2 0h0m44 2h0m27 1h0m-37-1h0m73-2h0m-51-3h0m-52 1h0m32 0h0m62-2h0m-87 0h0m38 1h0m-43-1h0m70 0h0m-71 2h0m-3 0h0m99-2h0m-17 1h0m29-3h0m-63-3h0m9 3h0m-44 0h0m-17-1h0m31 0h0m54 2h0m21-4h0m-113 3h0m108 0h0m-87-1h0m39 1h0m6-4h0m25-3h0m11 3h0m-41-1h0m-66 0h0m61-2h0m26 2h0m15 0h0m-94 1h0m55 0h0m-54 1h0m40-2h0m67-2h0m-57-1h0m-23-2h0m55 1h0m-84 2h0m81 0h0m-46-2h0m-24-1h0m83 2h0m15-2h0m-38 2h0m-68 1h0m8-8h0m-1 3h0m47-3h0m48 1h0m-104 1h0m87 2h0m-34-2h0m-34 0h0m79 1h0m-45 1h0m-21-4h0m75 1h0m-112-2h0m73-1h0m-59 0h0m47-1h0m-2 1h0m-4 0h0m-53 0h0m105 2h0m2-1h0m-19-1h0m-83 1h0m72 0h0m-4-4h0m-64 1h0m98-1h0m-60-2h0m17 0h0m41 2h0m-53-2h0m-20 1h0m18-1h0m-37-3h0m29 2h0m-29-3h0m-13 0h0m84 2h0m-1-1h0m-65 2h0m40 0h0m-58-4h0m29-3h0m27-1h0m59 4h0m-21-4h0m23 2h0m-106 2h0m47 0h0m58-2h0m-42-3h0m-3-3h0m13 3h0m34-1h0m-10 1h0m-96-1h0m45 2h0m-25 0h0m16-6h0m-48 0h0m104-1h0m-10 0h0m-12 2h0m37-1h0m-19 2h0m-20-1h0m9 0h0m-78-5h0m83 1h0m-47 1h0m67-4h0m-55 1h0m23 0h0m11 0h0m-25 1h0m-6-2h0m42-1h0m-93-2h0m47 0h0m45-1h0m-1 1h0m-45 1h0m-65 1h0m92 0h0m13-6h0m-25 1h0m-3-1h0m37-1h0m-6 4h0m-5-2h0m-12 1h0m-20-2h0m21-1h0m26-2h0m-96 1h0m67 0h0m-46 0h0m43 1h0m21-1h0m-31 1h0m16-2h0m0-2h0m29-2h0m-1 0h0m-112-2h0m37 1h0m18 1h0m10 1h0m57-1h0m-98 0h0m61-3h0m3-2h0m-1 3h0m5 0h0m-2-3h0m4 2h0m-56 0h0m9 0h0m69-6h0m-44 1h0m31-1h0m-35 0h0m-58 2h0m86 1h0m-39-1h0m0-2h0m22 2h0m-49-6h0m-21 1h0m85-1h0m-69 0h0m86 2h0m-10-3h0m-85 2h0m79-2h0m5 0h0m-90-2h0m94 1h0m-47-2h0m20 0h0m-57 0h0m56 1h0m31 1h0m-103-2h0m117 0h0m-97-5h0m30 2h0m67 1h0m-63 0h0m-1-3h0m58 2h0m-78-2h0m82-4h0m-9 3h0m-55-2h0m-55 1h0m26-1h0m46 2h0m-69 0h0m30-2h0m60-4h0m-96 0h0m117-1h0m-26 0h0m-47 3h0m-28 0h0m24-2h0m-34-2h0m-2-1h0m85-2h0m6 1h0m19 2h0m-67-1h0m56 0h0m-43-4h0m10-2h0m22 2h0m-15-2h0m39 3h0m-31 0h0m-49-1h0m62-5h0m24 2h0m-60-2h0m-39 2h0m61-3h0m-3 0h0m-9-2h0m3 0h0m43 0h0m-15 1h0m4-5h0m-44-1h0m-30 2h0m48 0h0m-79-6h0m-5 2h0m82-2h0m-63 0h0m-11-3h0m102-2h0m-102 0h0m39 0h0m76-1h0m-108-1h0m38-1h0m73-1h0m-23-2h0m-80 0h0m101 0h0m-14-7h0m-59 2h0m0-3h0m-53 1h0m125-3h0m-14-4h0m-19 0h0m20-1h0m0-1h0m-45 1h0m-26-6h0m12 1h0m-11-5h0m75 0h0m14-1h0m-88-3h0m8-1h0m42 3h0m-72-7h0m74 0h0m-95-2h0m69 0h0m-10-5h0m-19 0h0m-28 0h0m-1-6h0m40 2h0m-11 1h0m79-4h0m-7 0h0m-53-6h0m36 0h0m-78 1h0m36-5h0m67 1h0m-8 1h0m-67-7h0m-3 0h0m0-1h0m-31-3h0m118 3h0m-60-4h0m-29 0h0m14-1h0m-46-3h0m44-3h0m-9-1h0m-22-1h0m30-1h0m57-3h0m-66 1h0m-1-3h0m11-4h0m57 3h0m-96-2h0m94-2h0m-56-2h0m-23-1h0m95-3h0m-72 1h0m-14 0h0m75-5h0m-1 1h0m-59 0h0m-1-4h0m3 1h0m-12-3h0m1-3h0m-6-1h0m6 0h0m79-4h0m-80 0h0m51 2h0m16-5h0m-74 2h0m4 0h0m70-5h0m-27 0h0m-69-5h0m-4 2h0m112-1h0m-111-3h0m104-3h0m15 3h0m-20-4h0m-56-1h0m-41 0h0m96-4h0m-31 0h0m-24 1h0m-12-6h0m3 2h0m40 0h0m26-4h0m-1-2h0m-70-3h0m-13 0h0m104-4h0m-74-2h0m68-2h0m-118-2h0m91-3h0m-73 2h0m85-6h0m16 1h0m-38-3h0m35-3h0m-113-3h0m52-4h0m-8 0h0m21-5h0m33 0h0m-64-3h0m-29-2h0m97-7h0m-70 0h0m11-4h0m-12-1h0m-1-3h0m84-5h0m-12-2h0m-45 0h0m-55-4h0m45-5h0m-2 2h0m-12-5h0m-13-5h0m102-4h0m-21-3h0m-97-5h0m100 2h0m-70-7h0m8-3h0m-18-4h0m75-2h0m22-2h0m-35-5h0m14 1h0m-17-2h0m-86-4h0m59-4h0m-35-4h0m80-5h0m-14-6h0m-56-1h0m86-6h0m-115-6h0m62-8h0m38-4h0m20-11h0m-19-17h0m11-3h0m-11-17h0m-100-12h0m26-12h0m453 598h0m-21-2h0m-61 1h0m52 1h0m-27-1h0m71 1h0m-34 1h0m-2-1h0m-33 0h0m-34-5h0m65 0h0m-28 1h0m35-1h0m-6-1h0m37 2h0m-85-1h0m-15 1h0m78-1h0m-7-2h0m33-1h0m-96-2h0m72 4h0m-68-2h0m28 2h0m46-2h0m-16-1h0m-22 1h0m11-5h0m-33 2h0m69-2h0m-87 1h0m-2-1h0m-4 0h0m5 2h0m1 0h0m97-3h0m-32 0h0m-66 0h0m89-4h0m-61 3h0m49-1h0m19 1h0m-54 0h0m-42 0h0m-3 1h0m98-6h0m-44 0h0m-58 1h0m86-1h0m-72 0h0m-6-1h0m88 1h0m-3 1h0m-96-3h0m88-1h0m-84 0h0m16-1h0m-6-1h0m86 1h0m-19 1h0m-41-3h0m35 2h0m-66 0h0m89-4h0m-27 1h0m-21-1h0m23-1h0m-68 0h0m59-1h0m-23 2h0m45 1h0m-21 0h0m-55 0h0m26-7h0m-27 0h0m6 0h0m32 3h0m58-2h0m-52 0h0m-44-1h0m81 4h0m-18-1h0m10-6h0m11 3h0m-20-1h0m14-3h0m-91 4h0m43-2h0m-22-1h0m-19-1h0m13 1h0m95-4h0m-88 1h0m22 1h0m39 0h0m-36-3h0m-32 1h0m31 2h0m-24-2h0m72-1h0m-11-3h0m2 3h0m-69-4h0m70 3h0m-79 0h0m79-3h0m-14 2h0m16-2h0m24 0h0m-9 0h0m-10-3h0m-50 0h0m19 1h0m-19 1h0m4-1h0m40-2h0m-9 2h0m0 1h0m-31-5h0m-1-1h0m55 0h0m-82 0h0m50 2h0m2-3h0m32 2h0m-76-1h0m35 2h0m-18-5h0m2-1h0m-27 1h0m-14 1h0m-4 0h0m80-1h0m-16-1h0m19 0h0m-23 0h0m-37-4h0m47 1h0m5 0h0m-19 0h0m-49 1h0m-7-2h0m15 0h0m22 2h0m8 1h0m65-1h0m-19-5h0m-46 1h0m31-2h0m-69 1h0m12 0h0m60 0h0m14 1h0m-16-1h0m-2 1h0m1-6h0m-4 1h0m-66 0h0m40 1h0m18 0h0m29-3h0m18 3h0m-63 0h0m-29 0h0m58-4h0m-14 0h0m17-3h0m-56 0h0m24 0h0m13 0h0m37 3h0m11-2h0m-48 1h0m-27-6h0m35 2h0m-25 0h0m-43-1h0m30-1h0m-17 2h0m-7-2h0m7 0h0m77 3h0m-62-4h0m35-4h0m21 2h0m-28 1h0m13-2h0m9 1h0m-49 1h0m-3-1h0m-21 1h0m13-6h0m-16 1h0m98 0h0m-34 2h0m28-2h0m-53 1h0m52-2h0m-19 1h0m3 2h0m-59-3h0m9-1h0m-2-3h0m64 2h0m-13-1h0m-59 0h0m93 2h0m-92-4h0m43 1h0m-60 2h0m108-1h0m-97-3h0m73 1h0m-49 0h0m37-3h0m3 1h0m-29 1h0m27 0h0m22-1h0m13-1h0m-68 1h0m48-5h0m-20 2h0m6-1h0m30-1h0m-101 3h0m26-1h0m39 1h0m40-3h0m-33 1h0m-65-5h0m52 0h0m28 1h0m-8 2h0m-66-3h0m57 2h0m-19 0h0m19-2h0m-27 0h0m21-5h0m41 4h0m-110-3h0m8 2h0m69 1h0m-76-3h0m95 1h0m-3-1h0m-47 0h0m-26-5h0m87 1h0m-31 0h0m-26 0h0m61 2h0m-50-2h0m6 0h0m-53 2h0m4-2h0m-12 0h0m-2-4h0m34 3h0m5-1h0m53-2h0m-27 3h0m-45-1h0m-11-1h0m29 0h0m-30 0h0m84 1h0m-16-3h0m-62-2h0m-16 2h0m87-3h0m-13 2h0m31-1h0m-102-1h0m19 2h0m42-2h0m14-2h0m-66-2h0m-12 0h0m1 0h0m77 1h0m-81 1h0m78 0h0m13-6h0m-49 3h0m-27-2h0m61 0h0m11-1h0m-72 2h0m-3-3h0m35-4h0m9 2h0m-34 0h0m-6 1h0m-11-2h0m1 3h0m-4-5h0m38-1h0m41 2h0m-71-1h0m68 1h0m-28-1h0m-29-3h0m22-3h0m65 2h0m-26-2h0m-1 3h0m-17-1h0m16-6h0m-75 1h0m59 0h0m-54 0h0m83 1h0m0-5h0m-14-1h0m-38 1h0m28 2h0m-23-1h0m36-4h0m20-1h0m-15-2h0m-20 0h0m-64 2h0m78-5h0m-48 1h0m39 2h0m-55-4h0m-3 2h0m70-2h0m17-1h0m-69-1h0m-12 2h0m66-3h0m-73-5h0m31 3h0m-23-1h0m44-1h0m7 1h0m-23-5h0m28-1h0m3 1h0m16 2h0m-53-4h0m63-1h0m-25 2h0m18-2h0m-10-4h0m-45 0h0m-8-1h0m74 1h0m-13-6h0m-75 0h0m9 0h0m0 1h0m27-2h0m-30-2h0m76 0h0m-73-4h0m29 0h0m37 1h0m2-6h0m-39 2h0m-40 0h0m36-4h0m51-2h0m-42 2h0m-31-6h0m25 2h0m-24-1h0m58-4h0m-65-1h0m25-5h0m-1 1h0m49-4h0m8 1h0m-12-5h0m-67 2h0m-12-6h0m45 3h0m-10-6h0m-40 0h0m92-5h0m-68 2h0m30-4h0m-38-1h0m-4-3h0m71-1h0m-6-5h0m-76 3h0m40-5h0m-52-2h0m88-1h0m-36-4h0m48-3h0m-88 2h0m40-7h0m-26 3h0m69-4h0m-68 1h0m78-5h0m-1 1h0m-77-5h0m-21-1h0m58-6h0m2 3h0m37-7h0m-33 1h0m5-3h0m-9 0h0m-1-5h0m-16 2h0m46-4h0m-21 0h0m0-5h0m15-1h0m11-5h0m-66 3h0m32-5h0m-56 2h0m53-6h0m20-1h0m-30-3h0m-33 0h0m69-3h0m13-1h0m-76-5h0m24 0h0m50-5h0m-34 4h0m-38-7h0m-3-5h0m41-3h0m36-4h0m-50-1h0m-25-4h0m62 2h0m-30-4h0m-42-5h0m71-3h0m-69 1h0m9-4h0m41 0h0m-2-4h0m38-4h0m-56-5h0m-40-3h0m79-6h0m-76-3h0m76-6h0m-25-3h0m33-6h0m-40-3h0m43-3h0m-25-3h0m32-7h0m-76 0h0m-1-7h0m-22-1h0m13-6h0m65-5h0m-50-5h0m32-1h0m-8-6h0m33-5h0m2-1h0m-7-5h0m-26 1h0m-35-4h0m23-3h0m1-1h0m2-6h0m14-5h0m28-3h0m6-5h0m-68-4h0m62-2h0m-13-6h0m-53-6h0m-14-7h0m40-6h0m-27-2h0m-18-35h0m50-12h0m-32-6h0m128 563h0m-3 2h0m-24-1h0m11 1h0m46-3h0m-39 2h0m16 0h0m-21-5h0m-30 1h0m1-1h0m33-1h0m13 1h0m-20 0h0m-10-1h0m-16-1h0m50-1h0m7-2h0m-8 3h0m-1-3h0m7 3h0m17 0h0m-9-5h0m-26 1h0m-26-3h0m34 1h0m31-1h0m-65 0h0m32 2h0m31-6h0m-43 3h0m40-2h0m-24-1h0m26-1h0m-73 3h0m38 0h0m26-5h0m-7 1h0m14-2h0m-1 0h0m-57-1h0m33 0h0m26 2h0m-9-2h0m-28-1h0m9-1h0m-42 1h0m59-1h0m-47-2h0m45 1h0m-44-2h0m14 0h0m47 1h0m-62-3h0m38 0h0m9-1h0m3 3h0m-22-5h0m-15 1h0m14-3h0m32 0h0m6 0h0m-6 4h0m-27-6h0m-13-2h0m-27 2h0m34 1h0m-3 1h0m7-3h0m-7 2h0m-15-5h0m-21 0h0m17-1h0m16-1h0m16 2h0m28 1h0m-72 0h0m57-7h0m-1 1h0m-56 0h0m44 1h0m-6 0h0m2-2h0m-3 2h0m-25-5h0m55-1h0m-31 0h0m0 3h0m-25-2h0m-14-1h0m37-1h0m-33-2h0m34 1h0m2 0h0m-18 0h0m43 2h0m-15-3h0m-5-3h0m-46 1h0m8-3h0m28 2h0m-11 1h0m-17-2h0m56-1h0m-10-1h0m-25-1h0m-12-1h0m42-1h0m-35 2h0m9 0h0m-7-4h0m32-1h0m-12-1h0m24 2h0m-27 0h0m-19 1h0m-18 0h0m9-7h0m24 2h0m7-1h0m18-1h0m-61 2h0m54-2h0m-11 0h0m30-4h0m-75 3h0m70-3h0m-57 2h0m12-1h0m-10-1h0m52-3h0m-65 1h0m55 1h0m14 0h0m4-3h0m-36 0h0m-13 1h0m35-2h0m-32 0h0m24-1h0m4 0h0m-12-1h0m-24 2h0m24 0h0m24-5h0m-31 0h0m7-2h0m25 2h0m-1 0h0m-55 1h0m4-1h0m7-3h0m10-1h0m0 0h0m-34 1h0m24-4h0m36 1h0m6 2h0m-54-4h0m30 1h0m-46-4h0m41 2h0m16 2h0m19 0h0m-48 0h0m-11-5h0m-14 0h0m66-1h0m-11 1h0m-52-2h0m69 2h0m-64 0h0m2-4h0m32 0h0m-44 1h0m7-2h0m2 1h0m34-2h0m6-1h0m-45-2h0m2-1h0m30 1h0m22 0h0m-26 1h0m-27-6h0m69 3h0m-74-1h0m70 0h0m-44 1h0m0-1h0m14-3h0m-38-3h0m31-1h0m40 3h0m-31-1h0m-3 2h0m-14-1h0m23-7h0m-33 3h0m24-1h0m-10 0h0m18 0h0m-29 1h0m29 1h0m-8-8h0m38 2h0m-6 0h0m-39-1h0m47 1h0m-27-3h0m-6-3h0m-29 2h0m32 0h0m-9 1h0m-6-7h0m22 2h0m14-2h0m-2 3h0m-51-1h0m43-3h0m-23-2h0m8 1h0m-42 1h0m64 0h0m-28-6h0m-2 2h0m33-3h0m-31 1h0m-14-1h0m28-3h0m-10 1h0m2 1h0m-19 0h0m-24-1h0m69-5h0m-33 3h0m33-2h0m-61-2h0m33 2h0m-45-5h0m53 3h0m-38-1h0m29-2h0m11 2h0m-13-7h0m12 1h0m-37 2h0m58-1h0m-33 0h0m-3-3h0m-34-2h0m41 1h0m10-2h0m-7 3h0m-4-5h0m-2 1h0m-26 0h0m43-2h0m-16 1h0m-3-3h0m7 0h0m-2 0h0m-3-3h0m-17 3h0m12-6h0m12-1h0m-41 0h0m24 2h0m38-1h0m-28-3h0m-33 1h0m26-3h0m7 0h0m-3 1h0m9-4h0m8 2h0m-2-3h0m-10 3h0m5-2h0m-8-4h0m15 2h0m7-3h0m-6 2h0m17-2h0m-33-1h0m-35 0h0m33-3h0m0 0h0m-20-1h0m-20-1h0m52 0h0m-43 0h0m35 1h0m22-5h0m-23 1h0m-5-1h0m1-2h0m-35 2h0m73-6h0m-4 2h0m-62 1h0m30-1h0m-12-2h0m10-2h0m-34 0h0m37 1h0m-15-4h0m39-1h0m-10-1h0m-4 0h0m20-5h0m0 2h0m0 0h0m-37-6h0m20 2h0m5-2h0m-29-4h0m-30 0h0m28 0h0m25-1h0m22-4h0m-36 4h0m-19-2h0m46-2h0m-8-3h0m-36 2h0m24-2h0m-13-1h0m-19-4h0m52 4h0m-50-7h0m22 2h0m-36 0h0m38 1h0m16-8h0m-8 3h0m22-2h0m-10 1h0m-7-6h0m23 0h0m-3 2h0m-13 2h0m5-5h0m10-2h0m-66-1h0m-1 3h0m39-4h0m0-1h0m6 1h0m-1-7h0m-21 1h0m41 1h0m-68-5h0m70 1h0m-63 1h0m35 0h0m-40-6h0m20 3h0m-9-1h0m30 1h0m-48-7h0m67 3h0m-16-3h0m-43-5h0m5 1h0m-13-1h0m27-1h0m-27 0h0m59-3h0m2-1h0m-46 0h0m25 1h0m-35-7h0m4 2h0m0-2h0m-10-2h0m9-3h0m49 0h0m-10 1h0m3-5h0m-33 3h0m29 0h0m27-1h0m-69-2h0m68-3h0m-66 1h0m31 1h0m9-4h0m12-1h0m-16-2h0m13-1h0m-40 0h0m58 0h0m-58-2h0m-2-4h0m53 2h0m-23 0h0m19-5h0m-5-1h0m-30 2h0m3-6h0m-26 0h0m64-1h0m4-3h0m-24 1h0m-39-2h0m65-4h0m-1 2h0m0 0h0m-68-5h0m48 0h0m-38-3h0m15-2h0m13 1h0m-7-4h0m-35 2h0m39-6h0m39 2h0m-21-8h0m-44 3h0m56-5h0m-23 0h0m-2-4h0m-27 1h0m48-3h0m-1-1h0m-17-6h0m-17 2h0m24-6h0m-18 2h0m29-6h0m-48 2h0m-18-4h0m65 0h0m0-4h0m-62 1h0m22-6h0m41-3h0m-51-6h0m10 2h0m38-5h0m-44-3h0m4 0h0m18-7h0m22 3h0m5-4h0m-54 0h0m43-3h0m-41-5h0m33-1h0m-50-6h0m63-3h0m-60 1h0m30-2h0m40-1h0m-72-7h0m18-1h0m-16-1h0m16-5h0m27 2h0m-22-3h0m1-5h0m30-4h0m-38-1h0m53-5h0m-15-2h0m-37-6h0m39-5h0m-15 2h0m26-3h0m5-6h0m-70-3h0m63-5h0m-42 1h0m48-6h0m-60 0h0m42-3h0m-51-3h0m65-2h0m-48-3h0m-9-3h0m10-5h0m43-3h0m-8-2h0m-33-2h0m39-2h0m-43-5h0m-2-4h0m-14 2h0m14-5h0m-3 0h0m26-4h0m25-4h0m-54 1h0m29-5h0m-18-3h0m-8-3h0m-11-5h0m52-3h0m-4-5h0m-34-10h0m-2-11h0m51-2h0m-64-11h0m331 588h0m9 3h0m1-1h0m138-1h0m-7-1h0m21 3h0m-159-1h0m2 2h0m125-3h0m-123 2h0m155-1h0m-120 0h0m83 1h0m-27 1h0m-102-4h0m31 3h0m-24-2h0m77 1h0m-13-5h0m20-1h0m-49 3h0m46-2h0m74-1h0m-124 2h0m72-1h0m-62 2h0m63-2h0m-32 1h0m-14-2h0m-32 4h0m102-1h0m-103-3h0m132 2h0m-57-2h0m-17 3h0m-6-5h0m-37-1h0m1 1h0m62 0h0m54-2h0m-148 3h0m152-1h0m-167 1h0m141-2h0m-137 2h0m1-3h0m64 3h0m-64-1h0m108 2h0m-77-4h0m48 0h0m0 2h0m83-1h0m-20-4h0m-115 3h0m132-2h0m-144 1h0m66-2h0m60 3h0m-86-1h0m49-1h0m2-2h0m41 3h0m-114-3h0m124 3h0m-126-3h0m24 4h0m-31-2h0m118 0h0m-56 0h0m-60-2h0m6-2h0m31 1h0m-51-2h0m84 3h0m40-1h0m-1 0h0m-43 0h0m-53 1h0m29-4h0m50 1h0m-20-1h0m36 2h0m-129-2h0m111 2h0m-105-2h0m102 2h0m8-1h0m-32-3h0m-10-1h0m-80-1h0m85 2h0m12-1h0m-100 0h0m128 1h0m-116-1h0m2 1h0m49-1h0m5 2h0m48-1h0m-77 1h0m46-2h0m-21 2h0m-60-2h0m162 1h0m-97-5h0m97 2h0m-155 0h0m17-2h0m-7-1h0m69 0h0m59 0h0m-82 1h0m-24 3h0m103-1h0m-8 0h0m-131-2h0m49 2h0m104-2h0m-76 0h0m-89-1h0m113 3h0m-88-4h0m73-2h0m-72-1h0m-13 2h0m128-2h0m-69 3h0m30-1h0m-13 1h0m-53 0h0m-3-3h0m80 3h0m-94 1h0m116-3h0m-85 0h0m119 1h0m-155-1h0m74 1h0m-45-3h0m45-1h0m39 1h0m-60-2h0m-56 1h0m86-2h0m-13 3h0m29-1h0m-60-1h0m31 0h0m4 3h0m-22-4h0m25 1h0m-19 0h0m-56 2h0m18 0h0m27-1h0m34-3h0m44-2h0m-39 2h0m-6-3h0m-67 3h0m126 1h0m-37-1h0m-45 0h0m-59-2h0m-5-1h0m51 1h0m-22 0h0m-11 0h0m-11 3h0m154 0h0m1-3h0m-145 1h0m73 1h0m39-6h0m35 2h0m-169 0h0m6-3h0m114 3h0m-43-1h0m8 1h0m-54-2h0m75-1h0m61 3h0m-134-1h0m79 1h0m-24 0h0m29-2h0m-78 1h0m57-1h0m-91-1h0m105-4h0m-24 1h0m-77 1h0m22-2h0m96 0h0m-82 1h0m67 2h0m44 0h0m-68-2h0m-6 1h0m86-1h0m-71 1h0m58 1h0m-143 0h0m7 0h0m15-1h0m62 1h0m-56-4h0m33-1h0m15-1h0m-78 0h0m157 3h0m-2-4h0m-102 3h0m39 0h0m13 0h0m20 0h0m-115-2h0m-4-1h0m1 1h0m124 0h0m-37 0h0m-18 1h0m77-1h0m-43-5h0m-95 0h0m96 1h0m-49-1h0m21 3h0m0-2h0m56 2h0m-62 0h0m-72 0h0m140-3h0m-86 1h0m19 2h0m-1-3h0m6 1h0m74 1h0m-128-2h0m-37 3h0m151-1h0m11-2h0m-54-1h0m18 0h0m-103 0h0m144 0h0m-6-3h0m-5 3h0m-141-3h0m150 3h0m-57-1h0m-104 0h0m15 1h0m127-2h0m-4 2h0m-119-2h0m62 1h0m-48-2h0m23 1h0m77-2h0m-25-1h0m-23 1h0m68-3h0m-102 0h0m81 2h0m-112 1h0m118-2h0m18 1h0m-3 1h0m-146-3h0m23 3h0m-12 0h0m126-1h0m6 0h0m-36-2h0m48 3h0m-136-7h0m72 1h0m-63 2h0m42-2h0m10 0h0m-9 1h0m-67 1h0m150-1h0m-104 0h0m-44 1h0m147-1h0m0-2h0m-89 0h0m-69 0h0m157 1h0m-33 1h0m-64 0h0m45-6h0m-65 1h0m10 1h0m-18-1h0m-42 2h0m172 0h0m-77-2h0m-12-1h0m70 0h0m9 1h0m-140 0h0m67 1h0m-25-1h0m-47 2h0m78-2h0m-78 1h0m47-1h0m-12-2h0m61-1h0m-50-1h0m-49-1h0m75 3h0m-59-2h0m-29-1h0m80 0h0m-70 0h0m61 0h0m74 3h0m-77-2h0m-44-1h0m32 3h0m-22-3h0m8 2h0m-8 1h0m5-1h0m-11-5h0m135-2h0m-91 4h0m-50-2h0m64 1h0m-60 1h0m60-3h0m-6 1h0m48 0h0m20 1h0m-59 1h0m-55-3h0m47 3h0m-73-2h0m22-1h0m-16 3h0m140-2h0m-42-2h0m-103-3h0m-4 0h0m111 0h0m-4 0h0m-90 1h0m119 1h0m-5-2h0m-120 1h0m19-1h0m42 3h0m16-1h0m52 0h0m-99 0h0m-20 0h0m62-2h0m3 0h0m56 0h0m-108-2h0m50-1h0m8-1h0m-23 2h0m48-1h0m-73-2h0m37 3h0m34-2h0m-119 3h0m166-1h0m-159-2h0m49 3h0m89-2h0m-113 0h0m31 2h0m79-2h0m-104 1h0m104-4h0m-55-2h0m-8 2h0m-18-1h0m33 2h0m68-2h0m-117 2h0m32-3h0m-7 1h0m-40 2h0m89 0h0m-47-1h0m3 0h0m-70 1h0m40-3h0m89 3h0m35-2h0m-3 0h0m-70-4h0m-100 0h0m31 2h0m6-1h0m45-1h0m3-1h0m-68 1h0m88 1h0m-95 1h0m85 0h0m-58-4h0m131 1h0m-108 2h0m-46-1h0m22-1h0m-2 1h0m54 1h0m-52 1h0m133-6h0m-133 1h0m24 1h0m-27 0h0m116-2h0m-136-1h0m161 1h0m-18 2h0m-13 0h0m16-3h0m-2 2h0m-68 1h0m-71-3h0m59 3h0m8 0h0m64-2h0m-12 1h0m-45-5h0m-15 0h0m-54 2h0m49 0h0m99-3h0m-144 0h0m64 1h0m26 1h0m-99 1h0m98-1h0m0-2h0m-110 0h0m38 3h0m11-2h0m-20-1h0m-28 3h0m161-3h0m-98 2h0m-67-6h0m18 2h0m34 1h0m18-3h0m19 0h0m-71 0h0m74 3h0m35-2h0m-76-1h0m79 0h0m-92 2h0m66-2h0m-15 2h0m77-1h0m-143 0h0m51 0h0m40 0h0m7-1h0m-35-2h0m-74-1h0m29 2h0m129-1h0m-80-2h0m-30 3h0m-1-3h0m-20 1h0m54 1h0m73 1h0m-151-2h0m26-2h0m45 0h0m32 3h0m-100 1h0m104-3h0m-69 2h0m-13-3h0m28-4h0m30 3h0m-18-1h0m-52-1h0m30-1h0m-40 0h0m-18 1h0m6 2h0m11-3h0m21 4h0m124-4h0m-41 4h0m-93-3h0m12 1h0m48-1h0m-45 3h0m34-5h0m15 0h0m2-1h0m-50 1h0m52-1h0m-70-1h0m95 1h0m-30 1h0m-74-2h0m97 1h0m-73 0h0m112 1h0m-115 0h0m52-2h0m72 3h0m-111-2h0m105 2h0m-14-1h0m-9-7h0m-10 1h0m14 2h0m-40 1h0m-36-2h0m-52 1h0m66-2h0m-60-1h0m45 3h0m-50-1h0m-4 0h0m0 0h0m89-1h0m16-4h0m-16 3h0m59 0h0m-62-3h0m-71 0h0m60 3h0m-74 0h0m9-3h0m-10 1h0m137 0h0m-32 0h0m-84 0h0m87-4h0m0-1h0m55 1h0m-21 0h0m-97 0h0m-3 2h0m-39 0h0m72-1h0m89 1h0m1-3h0m-70 2h0m-90-3h0m77-3h0m-58 0h0m47 1h0m-44 0h0m-8-1h0m-15 2h0m42-2h0m-53 3h0m4-2h0m89 0h0m-33 2h0m-39-4h0m-9-1h0m130-1h0m-28 0h0m1 0h0m-113-1h0m14 1h0m59 0h0m0 2h0m-70 0h0m132-4h0m-28 3h0m29-2h0m-21-1h0m-45-4h0m94 2h0m-39 1h0m-76-3h0m61 3h0m-95 1h0m135-2h0m-111-2h0m104 0h0m9 2h0m6-1h0m-70 1h0m-61-4h0m27 0h0m-54 0h0m33-1h0m53 0h0m-40 1h0m101-1h0m-105 1h0m38-1h0m43 1h0m-53-2h0m30 2h0m12 1h0m-23-6h0m79 0h0m-22 0h0m-112 1h0m124-2h0m-85 2h0m70 0h0m-16 0h0m-94-1h0m88 3h0m-107-4h0m70 2h0m5-5h0m27 2h0m-41-1h0m75 2h0m-12-2h0m-79 0h0m-51-1h0m-6 1h0m85-1h0m-37-1h0m46 4h0m-4-1h0m-11-5h0m3 2h0m-33-3h0m54 2h0m-74-3h0m-15 1h0m25 2h0m-19-1h0m27-1h0m43 1h0m7-1h0m-29 2h0m86-7h0m-20 3h0m1-2h0m-56 2h0m-61-1h0m89-2h0m20 2h0m-54-1h0m-69 3h0m107-1h0m-1-1h0m-106 1h0m81-6h0m-81 2h0m154 0h0m-147-3h0m13 0h0m-27 3h0m114-1h0m-69-1h0m44 0h0m-91 0h0m24 2h0m147-2h0m1-2h0m-84-1h0m-46 0h0m-1 2h0m-22-4h0m88 4h0m-36-3h0m48 2h0m-80-2h0m111 2h0m20 0h0m-134-2h0m126 1h0m-135-4h0m10 1h0m-20 0h0m68 0h0m-36-1h0m-28-2h0m99 2h0m30 1h0m-45-1h0m3 1h0m-15-1h0m-55-2h0m107-3h0m1-1h0m-120 2h0m-21 0h0m116 1h0m-101-1h0m122-1h0m-124-1h0m-15 3h0m15 1h0m7-2h0m62-2h0m-38-4h0m47 3h0m19 0h0m-8-1h0m34-2h0m-69 1h0m-19 2h0m43-3h0m28 0h0m-32 0h0m73 0h0m-75 3h0m-71-5h0m2 1h0m150-1h0m-18 2h0m-87-4h0m84 2h0m-129-2h0m79 2h0m-19-2h0m-74 2h0m25-2h0m93-4h0m43 3h0m-94 0h0m-69-1h0m85-2h0m-55 2h0m136-2h0m-121 1h0m93-1h0m-113 1h0m-24 0h0m62-5h0m-32 3h0m-24-3h0m77 3h0m40 0h0m-10-3h0m41 1h0m-99 1h0m29-2h0m-29 0h0m108 4h0m-3-8h0m-68 0h0m-8 2h0m19-1h0m-84 0h0m104 1h0m10 1h0m-53-1h0m40 1h0m-17 0h0m-13-5h0m43 0h0m-125 0h0m150-1h0m-18 1h0m-91-2h0m103 0h0m-116-3h0m70 1h0m-107 1h0m69 0h0m-33-2h0m-8 0h0m48-1h0m-29-2h0m41 0h0m-86-1h0m35 2h0m-13-3h0m46 1h0m-9-1h0m43-1h0m-25-3h0m-17 1h0m103 1h0m-122 1h0m25-1h0m93-4h0m-65-1h0m-85-1h0m96 1h0m31 2h0m-133-3h0m65-2h0m92-2h0m-15 1h0m-32-1h0m-85 0h0m-14 3h0m-18-5h0m121 1h0m-96-3h0m111 1h0m-53 0h0m41 0h0m42-3h0m-92 1h0m-7 0h0m3-1h0m50-2h0m-119-4h0m18 2h0m1-2h0m53 2h0m23 0h0m-14-6h0m0 3h0m67-2h0m-112-1h0m32-3h0m-29 0h0m33-1h0m11 0h0m81 0h0m-24-3h0m22 2h0m-48-3h0m-20 0h0m-71 1h0m74-3h0m-21-2h0m87 1h0m-41 0h0m-15-2h0m33-2h0m-65 2h0m86-3h0m-141 1h0m84-2h0m-84-3h0m110 0h0m31-1h0m2-4h0m-148 1h0m57 0h0m39 0h0m-30 1h0m16-3h0m-28-2h0m4-1h0m-49 1h0m3-2h0m107 0h0m-69-1h0m42 0h0m-70-4h0m31 0h0m6 1h0m-17-1h0m15-5h0m91 1h0m-126 0h0m99 0h0m-65 0h0m47-4h0m-94 0h0m100-2h0m-32 0h0m-80-2h0m133 2h0m-40-2h0m-33 1h0m0-7h0m16 2h0m-14-2h0m87 2h0m-130-5h0m86 1h0m-45-2h0m-2 2h0m91-6h0m-24 2h0m-33 2h0m-57-2h0m26-3h0m0-2h0m0 0h0m11 1h0m6-5h0m28 2h0m-23 0h0m67-2h0m-85 2h0m28-3h0m-33-2h0m43-1h0m-42 1h0m-46 0h0m41-5h0m93 3h0m-19-1h0m-124-2h0m146-2h0m-68-2h0m-23 2h0m-55-2h0m146 1h0m-1-4h0m-89 1h0m9-1h0m79 1h0m-32-4h0m-21-3h0m37 3h0m-113-3h0m127-4h0m-87 2h0m88-1h0m-165 2h0m151-4h0m-128-2h0m51 1h0m-36 1h0m115-4h0m-116 0h0m128-3h0m-37-1h0m-1-3h0m-7 2h0m-43-2h0m86-1h0m-85-3h0m31-1h0m-36 2h0m95-4h0m-125 1h0m46-3h0m-10 3h0m48-3h0m-88-3h0m33 2h0m5-5h0m44-2h0m-92-1h0m49-1h0m-57 1h0m78-6h0m-77 0h0m53 0h0m-4-4h0m-9 0h0m15 2h0m44-4h0m-1-2h0m-77-4h0m32 2h0m0-6h0m46 0h0m-28-1h0m-71 0h0m144-2h0m-123-4h0m55 2h0m29-6h0m-54 1h0m6-2h0m19-2h0m-37-1h0m-22-4h0m77-1h0m11-4h0m-5 2h0m-46 0h0m55-4h0m-53-1h0m23-5h0m-31 0h0m-42-4h0m140 2h0m-2 0h0m-55-3h0m25-2h0m-59 2h0m-36-8h0m86 0h0m-101-3h0m11-1h0m128-3h0m-38 1h0m1-3h0m-48 0h0m-4 1h0m-21-7h0m62 1h0m21-3h0m-60-3h0m15-2h0m-72-1h0m15 3h0m7-5h0m36-1h0m-53-5h0m68 0h0m-23-3h0m6-2h0m-51 3h0m55-7h0m41 3h0m-46-6h0m21-1h0m25-4h0m29 2h0m-23 0h0m-14-4h0m-37-1h0m43-1h0m31-2h0m-27-3h0m-86-1h0m104 1h0m27-7h0m-16 3h0m12-5h0m-90-1h0m90-3h0m-86-1h0m2-2h0m-6-3h0m-45-3h0m136 2h0m-44-5h0m23-3h0m-140-2h0m38 1h0m-8-6h0m-15 2h0m109-4h0m-57-2h0m-42-4h0m126 2h0m-79-5h0m0-2h0m-5-6h0m20-4h0m-81-2h0m160-8h0m-100-2h0m-43-4h0m47 0h0m91-5h0m-94-1h0m-45-1h0m138-7h0m-1-2h0m-75-5h0m-12-7h0m93-5h0m-143-2h0m137-4h0m225 601h0m29 0h0m-15-4h0m-12 0h0m7 0h0m7-3h0m-7 0h0m19 3h0m3-2h0m-1 0h0m-9-5h0m-2 0h0m6 1h0m-21-1h0m7-1h0m18-1h0m-19-2h0m28 1h0m-30 1h0m9 0h0m-12-5h0m3 0h0m5 0h0m-12 2h0m12-2h0m14-4h0m-22 0h0m-1-2h0m-1 2h0m2-1h0m-1-3h0m5 2h0m-1-3h0m25 1h0m-33-2h0m26-1h0m10-3h0m-24 2h0m8 1h0m-6-2h0m-2-2h0m13-1h0m-10-2h0m0 3h0m11-1h0m-8-2h0m1-1h0m-11-1h0m13 1h0m-9-1h0m25-4h0m-3 0h0m-31-2h0m8 1h0m22 2h0m-2-3h0m-26-1h0m-2 1h0m11-2h0m-2 0h0m-9-3h0m34 0h0m-29 0h0m2-1h0m-8-2h0m24-4h0m-24 3h0m24 0h0m-8 0h0m-12-2h0m5-3h0m15-1h0m8 2h0m-24-2h0m-3 1h0m3-5h0m18 1h0m-27 1h0m13 0h0m13 0h0m6-6h0m-16 1h0m19-2h0m-19 3h0m-7-1h0m24-6h0m-25 2h0m13 1h0m-8-3h0m10 1h0m-22-3h0m11-1h0m-10 2h0m7-1h0m6-2h0m-3-3h0m-10-2h0m-2 4h0m1 0h0m14-4h0m-7-2h0m27 0h0m-25 2h0m-6-3h0m26 3h0m-28-6h0m-2 0h0m18 2h0m-17-1h0m26-1h0m-11-5h0m14 0h0m-19 2h0m-10 1h0m7 0h0m18-4h0m-23 0h0m6-1h0m-7-1h0m32 0h0m0-4h0m-24-2h0m7 4h0m6-2h0m-10-1h0m14-4h0m-18 3h0m8 0h0m5 0h0m8-1h0m-31-3h0m30-3h0m3 1h0m-16-1h0m-8-1h0m-8-2h0m7-1h0m9 1h0m3 0h0m-10 2h0m20-5h0m-11 0h0m3-3h0m-20 3h0m1-2h0m15-4h0m8 3h0m9-4h0m-7 2h0m2-1h0m4-2h0m-31-3h0m10 2h0m15 0h0m-22-4h0m30 1h0m-6-1h0m-4-4h0m-3-1h0m9 0h0m-20-2h0m-1-1h0m10 2h0m-17-1h0m16-3h0m-18-4h0m7 1h0m5-2h0m6-2h0m-18 3h0m1-6h0m1-2h0m2 3h0m31-1h0m-16-6h0m0 1h0m-13 3h0m0-4h0m2-3h0m28 0h0m-3 0h0m-26-5h0m17 3h0m5-1h0m-31-4h0m6 0h0m3 2h0m2-3h0m-2-4h0m2 0h0m8 2h0m11-2h0m8-3h0m-37-2h0m1 3h0m-1-1h0m17-5h0m-2 2h0m-3 0h0m3-4h0m-5 0h0m18-2h0m-11-3h0m-13 0h0m33-4h0m-4 1h0m-24-2h0m-1-3h0m7 1h0m-14-6h0m20 0h0m5 1h0m-14-4h0m25-2h0m-8-3h0m-19-4h0m26 1h0m-15-6h0m-18-4h0m0-4h0m6-5h0m23-6h0m-22-2h0m-3-8h0m8-3h0m-8-4h0m30-5h0m-19-1h0m17-5h0m-17-7h0m-19-5h0m35-5h0m-4-2h0m-12-4h0m12-7h0m2-3h0m3-5h0m-19-6h0m-8-4h0m-8-21h0m1-3h0m17-17h0m-6-16h0m6-18h0m-11-9h0m-7-23h0m16-7h0m-15-3h0m34-50h0m94 473h0m-13 2h0m11 0h0m-1-3h0m-29 2h0m39-2h0m-15 0h0m28-3h0m-20-2h0m14 0h0m-5 2h0m5-1h0m-19 0h0m15 1h0m-17-2h0m22-2h0m-40-2h0m17 1h0m26 0h0m-31 0h0m24-4h0m7 2h0m-33 1h0m-4-3h0m14 1h0m12 1h0m-56-2h0m5-2h0m43 1h0m8-3h0m-11 2h0m9-3h0m5 0h0m-55-2h0m60 0h0m-18 1h0m-3-2h0m-44-1h0m46 3h0m5-1h0m18-5h0m-22 1h0m-8 1h0m23 1h0m-11 0h0m-22-1h0m24-1h0m1-4h0m-35-1h0m24 2h0m-6 1h0m28 0h0m-51-1h0m48-3h0m-1-4h0m-62 1h0m30 0h0m-28 1h0m44 1h0m1-3h0m-2 3h0m27-4h0m-16 0h0m-42 0h0m39-1h0m11 1h0m-63-1h0m64-5h0m-22 0h0m-40-1h0m43 2h0m-16-2h0m17 0h0m-1-3h0m14 3h0m-48-2h0m58-2h0m-29 1h0m4 2h0m-19-2h0m37-3h0m-12 1h0m-38 0h0m31-2h0m1 1h0m5 1h0m-7-4h0m-39-2h0m53 0h0m-9 2h0m-1-2h0m3 0h0m-19-1h0m-1-3h0m-25 3h0m40-2h0m-37 1h0m16-1h0m-22 0h0m63-3h0m-16-1h0m-21-2h0m18 1h0m2 2h0m-14-2h0m4 0h0m10-2h0m0-3h0m-42 0h0m9 2h0m31-1h0m-43-1h0m0 3h0m43-6h0m0 1h0m-46 0h0m5-2h0m45 0h0m11 0h0m-13 1h0m-44-5h0m62 3h0m-5-1h0m-58-2h0m7 0h0m20 2h0m24 0h0m9-3h0m-50 0h0m26-2h0m8-1h0m1 3h0m19-1h0m-12-4h0m8 1h0m-46-3h0m45 1h0m-7 2h0m-7-1h0m-9 0h0m18-3h0m-28 0h0m6-2h0m-30-2h0m48 2h0m4 0h0m-10 0h0m19-2h0m-54-1h0m46-2h0m8 0h0m-21 1h0m-43-1h0m25-2h0m6-2h0m24 1h0m2-1h0m6 3h0m0-3h0m-44 1h0m51-2h0m-57 0h0m34-2h0m23 2h0m-51 0h0m15-2h0m-17 0h0m23-3h0m4-1h0m9-1h0m14 0h0m-11 0h0m-11 0h0m19-2h0m-19 0h0m2-2h0m-6 1h0m-11 0h0m27 0h0m-5 2h0m-54-4h0m5-3h0m23 0h0m16 3h0m12-3h0m-56 1h0m13 2h0m29-6h0m18 0h0m4-1h0m8 0h0m-36 2h0m20-2h0m-13 0h0m24-4h0m4 2h0m-2-2h0m-14-1h0m-44 3h0m-7-3h0m45 3h0m20-4h0m-64-1h0m7-1h0m44 0h0m12 0h0m4-2h0m-33-1h0m33 1h0m-3-2h0m-42-4h0m27 3h0m4-1h0m-54 1h0m44-3h0m11-2h0m11 0h0m-54-3h0m20 3h0m1-3h0m1-2h0m11-1h0m-44 2h0m43 1h0m-8 0h0m-19-6h0m25 2h0m-7-2h0m17 1h0m-47 0h0m44-5h0m-37 0h0m13-2h0m-25 2h0m12 1h0m39-4h0m16 1h0m-13-3h0m-37 2h0m23-3h0m11-4h0m9 2h0m-15-2h0m0 1h0m-40-1h0m14-1h0m-18-1h0m58 0h0m-15 0h0m-10 1h0m-14-4h0m5-1h0m16-1h0m0-1h0m-23-4h0m-6 0h0m-11 2h0m11-2h0m32 3h0m22-6h0m-2 0h0m-22-1h0m14 3h0m-29 0h0m-28-5h0m55 0h0m-7 0h0m6-1h0m-47 0h0m54-2h0m-28 0h0m-6-1h0m2-1h0m-26 0h0m-1-1h0m44-2h0m-31 0h0m31 0h0m-39-1h0m26-2h0m-19-1h0m-17-1h0m39-1h0m-22 1h0m-17-4h0m29 2h0m-9-2h0m-9 1h0m57 0h0m-60-3h0m39 1h0m22-1h0m-67-2h0m8 2h0m23-4h0m29-1h0m9-2h0m-66 2h0m40-3h0m-13-1h0m-11 0h0m46-1h0m-12-3h0m-8 1h0m-29-1h0m-8-6h0m61 3h0m-28-2h0m3-1h0m6-4h0m17 0h0m-26 2h0m4-2h0m-30-4h0m12 2h0m10-1h0m-17-2h0m-6-2h0m52 2h0m-4-7h0m-50 2h0m24-2h0m33-3h0m1 1h0m-18 1h0m-13-7h0m-38 0h0m26 1h0m19-5h0m-33 3h0m50-3h0m-15 0h0m-9-2h0m7 0h0m-2-1h0m-30-2h0m-6 0h0m7-1h0m50 0h0m-6-4h0m-15-1h0m11 2h0m-57-5h0m28-2h0m-11 3h0m13-1h0m-2-5h0m26-2h0m-40 1h0m0-3h0m53 0h0m-21 2h0m0-5h0m9 0h0m-55-3h0m15-3h0m24-1h0m11 3h0m-43-5h0m31-2h0m34 3h0m-29-5h0m-26 1h0m32-2h0m-21-4h0m-25 2h0m64-2h0m2-2h0m-11-1h0m-2-2h0m-42-3h0m57 1h0m-2-3h0m-16-1h0m-17-6h0m31 1h0m-5-4h0m-7 0h0m0 3h0m-9-8h0m16-4h0m-15 2h0m-1-4h0m-5-5h0m-33-5h0m35-3h0m7-5h0m9 2h0m5-3h0m-14-5h0m21-5h0m-9-5h0m-1-1h0m5-5h0m-4-4h0m-11-5h0m-10-4h0m3-2h0m23-4h0m-23-2h0m9-5h0m-14-3h0m-8-5h0m16 0h0m20-3h0m0-6h0m0-1h0m-14-5h0m-27-3h0m18-7h0m21-4h0m-11-4h0m4-3h0m8 0h0m-19-5h0m-1 4h0m17-8h0m-14-1h0m-13 1h0m-5-6h0m-4-2h0m37-3h0m-22 1h0m10-6h0m-42 3h0m41-4h0m-6-7h0m1-1h0m-26-6h0m13-5h0m-22-4h0m19-4h0m29-3h0m-12-3h0m7-6h0m-30-4h0m-13-1h0m-1-7h0m53-8h0m-55-1h0m37-7h0m18-8h0m-7-4h0m-1-9h0m-13-1h0m-15-5h0m35-6h0m-18-12h0m9-3h0m-53-7h0m29-10h0m-19-4h0m27-7h0m16-5h0m245 598h0m52 1h0m-67 0h0m13-3h0m-11 1h0m127-1h0m-53 1h0m-19 2h0m-47 0h0m127-1h0m-30 2h0m-54 0h0m1-4h0m54 1h0m-51-4h0m-4 3h0m3-1h0m-48-2h0m0 1h0m71 2h0m-22-2h0m-31 1h0m-30 0h0m122-1h0m-54 1h0m-31-3h0m-28 3h0m101-5h0m-74 0h0m69 0h0m11-1h0m-106 2h0m71-2h0m-35 0h0m15 1h0m25 1h0m-82-1h0m61 0h0m3-1h0m-33 0h0m76-5h0m-7 2h0m10 0h0m-69-1h0m53 2h0m-22-3h0m18 1h0m38 0h0m-97-1h0m28 1h0m49 0h0m13 0h0m-114 0h0m84-4h0m-48-1h0m71 3h0m-37-1h0m23 0h0m-5-1h0m-82-1h0m-4 1h0m68-1h0m49 1h0m-128 3h0m135-1h0m-14-3h0m-17-2h0m-99-1h0m116 0h0m-88-1h0m21 3h0m11-1h0m19 2h0m-9-2h0m0 0h0m3-2h0m-75 3h0m13 0h0m102-3h0m-25-2h0m-62 1h0m21-1h0m-50-2h0m9 3h0m97-1h0m-72-2h0m-26 0h0m50 2h0m-45 0h0m8 2h0m78-2h0m-74 2h0m26-4h0m7-1h0m45-2h0m-101 3h0m-4-4h0m64 0h0m-14 1h0m75 0h0m-65 1h0m27-1h0m13 2h0m-39 0h0m39-1h0m-89 1h0m-8-6h0m118 0h0m-107 0h0m97 0h0m12 1h0m-124 1h0m2-3h0m39 3h0m-38-2h0m13 2h0m2-1h0m40-1h0m-48-1h0m69 1h0m-18-2h0m2-3h0m-1 0h0m-46 1h0m-11 2h0m6-1h0m48-2h0m64 1h0m-20 0h0m27-1h0m-1 3h0m-26-2h0m-100-1h0m50-4h0m33 1h0m-71 2h0m35 1h0m37-4h0m17 0h0m-44 1h0m2 1h0m29 1h0m27-1h0m-91 0h0m41-2h0m48 2h0m-84-5h0m29 2h0m-57 0h0m109-2h0m-94 2h0m-8 0h0m106-2h0m-70-1h0m-33 0h0m38 3h0m49-1h0m12 2h0m-47-1h0m-69-4h0m90-3h0m-74 4h0m117-3h0m-99 2h0m-33-2h0m61 2h0m-18 0h0m43 0h0m-62-3h0m68 0h0m-77 2h0m-2-1h0m7 0h0m33-2h0m-14 0h0m-27-3h0m22 1h0m1 1h0m-20-1h0m95 0h0m-67 0h0m60-1h0m-86 2h0m44 0h0m-38-2h0m109 3h0m-83-7h0m74 1h0m-107 0h0m62 0h0m-38 1h0m-21 0h0m-1 1h0m109-3h0m-19 1h0m-101 1h0m132 0h0m-35-2h0m21 3h0m-115-6h0m-9-1h0m105 1h0m3-1h0m-105 0h0m102 3h0m-94-2h0m6 1h0m109 0h0m-61 1h0m-28 0h0m60-2h0m-60-1h0m-7-2h0m35-2h0m-42 2h0m-11-2h0m4 3h0m90-1h0m-81-1h0m40 1h0m12-1h0m16-1h0m47 1h0m-122 1h0m104 0h0m-61-5h0m3 2h0m54 0h0m-69-3h0m40 2h0m19 1h0m-91 0h0m89-1h0m-66-1h0m11-1h0m-9 1h0m77 1h0m-86-2h0m74 3h0m-23-7h0m-64 3h0m-4-3h0m111 0h0m-115 1h0m17-1h0m91 1h0m3 1h0m-37-2h0m46 3h0m-126-3h0m120 1h0m-62 1h0m43-3h0m-2-1h0m-39-2h0m38 2h0m-36 1h0m12-2h0m-19 0h0m-17-1h0m75 1h0m-30 1h0m-78-1h0m18-1h0m78 2h0m-46-4h0m9-1h0m26-1h0m-83 2h0m-12-1h0m33 2h0m-8-2h0m114 0h0m-75 2h0m-35-3h0m13 2h0m20-2h0m60 0h0m-43-1h0m42-1h0m10 0h0m-121-2h0m30 1h0m19 1h0m13 1h0m-56-3h0m75 2h0m10 1h0m-60 0h0m60-1h0m-44-1h0m54-4h0m-13 2h0m-36-1h0m-32 0h0m60-2h0m6 0h0m3 1h0m15 1h0m-99-1h0m3-1h0m15 0h0m105 2h0m-128-2h0m78-2h0m28-1h0m-45 0h0m-13-1h0m21 3h0m-20 0h0m-9 0h0m-45-4h0m86 2h0m-33-2h0m-48 0h0m62 1h0m-61 1h0m110-6h0m-35 4h0m-54-1h0m-13-2h0m5 3h0m90-3h0m14 2h0m-84-2h0m17 1h0m-54 0h0m102 2h0m-77 0h0m4-1h0m70-5h0m4 2h0m-99-2h0m89 1h0m-83 1h0m-3-3h0m110 2h0m8 1h0m-31-3h0m-19 2h0m24 1h0m-42-1h0m-52-2h0m47-5h0m-22 3h0m29 1h0m63-3h0m-118 1h0m79 2h0m-86 0h0m4-1h0m52 0h0m46 1h0m-90 0h0m68 0h0m-38-1h0m66-3h0m-18-2h0m28 1h0m-35 0h0m44-2h0m-104 2h0m90-2h0m-92 0h0m38 0h0m4 3h0m30-3h0m-6 1h0m-83 1h0m16-5h0m53 2h0m27-2h0m0 1h0m-67 1h0m-7-4h0m-22 3h0m81 1h0m28-1h0m-103 0h0m111 1h0m-94-3h0m-20 2h0m110-4h0m-97-2h0m106 0h0m-114 1h0m7 2h0m105-3h0m-68 2h0m-16-1h0m-40 2h0m118-3h0m-91 0h0m47 1h0m-23 0h0m8-2h0m-52-1h0m-1 1h0m29-1h0m69-1h0m-13 1h0m-1-3h0m2 4h0m-82-1h0m1-4h0m93-1h0m11 0h0m-91 1h0m62-3h0m-69 2h0m22 2h0m-17-1h0m86 1h0m2-6h0m-24 0h0m-30 0h0m48 1h0m6-2h0m-20 0h0m0 1h0m-88-1h0m88 3h0m-82-1h0m49-3h0m-17-4h0m93 2h0m-104 0h0m28-1h0m9 1h0m-12 0h0m45 2h0m-43-2h0m-57-6h0m124 4h0m-103-2h0m99 1h0m-15-2h0m-48 1h0m-48 2h0m29-2h0m17 1h0m-51-7h0m34 0h0m15 3h0m46-3h0m-4 3h0m-53-2h0m16 0h0m-44 0h0m-16 2h0m93-7h0m39 1h0m-32 1h0m-6 2h0m-30-2h0m62 2h0m-92-3h0m42 3h0m-11-3h0m-66-4h0m11 0h0m8-1h0m40 3h0m1-3h0m-48 2h0m24-1h0m88-1h0m-61 3h0m57 0h0m-108-5h0m92 1h0m-78-3h0m4 1h0m50 0h0m0 0h0m10 2h0m2-3h0m-81 3h0m12 0h0m-8-6h0m-5 1h0m81 2h0m-77-3h0m53 1h0m-52 1h0m36 0h0m-18-1h0m-28 1h0m102-7h0m-43 3h0m-48-2h0m120-1h0m0 1h0m-108 2h0m51 0h0m-62 0h0m100-1h0m-9-5h0m29-1h0m-89 1h0m56 2h0m-7-2h0m-37 2h0m-27-3h0m25 0h0m66 0h0m-74-3h0m-13 2h0m69-2h0m-22 2h0m5-2h0m-29 1h0m46 0h0m-83 1h0m74 0h0m-47-1h0m-45-5h0m82-1h0m-54 2h0m83-2h0m-52 2h0m7-1h0m34 1h0m-61 1h0m17-2h0m-39 2h0m-10-4h0m75 1h0m-41-1h0m-16-1h0m78 0h0m-19-1h0m-4-1h0m-20 3h0m42-2h0m13 2h0m-101-5h0m-8-1h0m93-1h0m-90 3h0m120 0h0m-36-2h0m-37 2h0m-59-2h0m26 0h0m36-1h0m-25-4h0m-26 0h0m64 3h0m-18-2h0m-23 1h0m-31 1h0m91-3h0m-63 3h0m79-1h0m-32-1h0m19-3h0m-89 1h0m74-1h0m-21-2h0m-47 3h0m0-2h0m115-1h0m-127 0h0m7 2h0m114-6h0m-21 3h0m12-2h0m-110 1h0m72-1h0m-15 0h0m45 1h0m-23-2h0m36 2h0m13-5h0m-28-1h0m-6 2h0m16 1h0m-57 0h0m-46-2h0m49 2h0m26-2h0m-10 0h0m39-3h0m-14-2h0m-4 1h0m22 1h0m-89-1h0m14-1h0m30 1h0m2-4h0m-9 0h0m-9-1h0m59 1h0m-15 0h0m2 0h0m-45-1h0m16-1h0m31-1h0m13 0h0m-34 0h0m-84-1h0m38-1h0m32-4h0m-59 3h0m45 0h0m29-3h0m36 3h0m-28 0h0m-63-8h0m49 3h0m-82-2h0m99 1h0m-89 0h0m81-1h0m16-4h0m-7 3h0m-70-1h0m-4 1h0m81-2h0m18-1h0m10-4h0m-75 1h0m-43 0h0m87-1h0m29 0h0m-74 0h0m-59-1h0m15 0h0m44-3h0m11 3h0m-57-6h0m38 2h0m68-1h0m-79 1h0m22 0h0m-50-7h0m11 1h0m68 0h0m27 2h0m-59-4h0m-11-2h0m0 1h0m19 1h0m-43-4h0m-15-1h0m41 1h0m-8-1h0m-8 1h0m14-1h0m29-5h0m51-1h0m-40 3h0m-91-2h0m10-4h0m47 2h0m6-1h0m27-5h0m39-1h0m-79-1h0m53-3h0m-49 0h0m72 1h0m-40-4h0m-51 0h0m-8 1h0m61-2h0m-10-4h0m55 0h0m-63 2h0m-40 0h0m107-3h0m-7-1h0m-74 0h0m12-1h0m40-3h0m-15-3h0m36 2h0m5 1h0m-42-5h0m-39 1h0m-21 0h0m56 1h0m-55-5h0m69-1h0m-13 0h0m-69 1h0m98-6h0m-52 1h0m-39-1h0m67-4h0m9 2h0m-70 1h0m18-1h0m-24-5h0m40 2h0m-5-3h0m26 2h0m-39-6h0m39 2h0m22 0h0m23-1h0m-121-4h0m23 0h0m-31-1h0m81-2h0m-52 0h0m68-3h0m-65 0h0m1 0h0m43-2h0m-33-1h0m14-1h0m-54-3h0m46 0h0m24 1h0m51-5h0m-96 0h0m95 2h0m-38-1h0m42-4h0m-32-2h0m-35 1h0m36 1h0m-66-5h0m74 2h0m10-3h0m-80 3h0m55-7h0m-42 0h0m30 3h0m49 0h0m-51-7h0m58 2h0m-76-1h0m31 0h0m-66-4h0m52 2h0m-3-1h0m25 0h0m-48-4h0m36-2h0m-54 1h0m13-2h0m28 0h0m-5 0h0m25-2h0m-60-2h0m42-3h0m57 3h0m-27 0h0m-40-6h0m19-1h0m44 2h0m-1 1h0m-52-5h0m-9-1h0m-49 1h0m44-5h0m26-2h0m10 2h0m-52 1h0m34-4h0m7-1h0m-34 1h0m36-1h0m6-2h0m21-2h0m-18 1h0m-63-1h0m70-4h0m19-2h0m-36 2h0m-38-2h0m77-1h0m-16-3h0m-103 3h0m115-7h0m-43 3h0m-45 0h0m19-5h0m35 1h0m-55 1h0m19-4h0m75 0h0m-95-3h0m35-2h0m1-3h0m-10 0h0m11-4h0m40 1h0m-30-1h0m13-2h0m42-4h0m-58-1h0m-43-5h0m21-2h0m43 0h0m7-4h0m-33-2h0m-3-2h0m-1-6h0m-39 2h0m-4-5h0m27-2h0m-52-4h0m75-5h0m-9 1h0m8-5h0m63 0h0m-56-5h0m47-2h0m-32-6h0m-10-1h0m5-3h0m0 2h0m3-6h0m37 2h0m-66-5h0m-31-3h0m43-4h0m0-4h0m25-5h0m-67-2h0m106-3h0m-65 1h0m-48-3h0m13-3h0m77-1h0m-31-3h0m-57-1h0m105-3h0m-9-4h0m-37 2h0m2-4h0m40 0h0m-42-3h0m-78-1h0m58-6h0m-61 2h0m44-5h0m-23-5h0m38-3h0m-6-4h0m28-2h0m-27-6h0m-37-6h0m53-1h0m-50-5h0m64-5h0m-14-2h0m27-5h0m-16-4h0m-30-3h0m60-7h0m-70-11h0m8 523h0m6-253h0m3-85h0m1 85h0m-3-149h0m-1 471h0m-5-405h0m8 289h0m3-51h0m-7-135h0m4 22h0m-7 118h0m7-255h0m-1-83h0m-1 30h0m-6-93h0m6 324h0m0-125h0m0 294h0m-1-443h0m-6 384h0m8-213h0m-5 119h0m8 126h0m-3 11h0m0-385h0m0 364h0m-4 106h0m-3-224h0m11 63h0m-12-28h0m1-209h0m9 366h0m1-107h0m-1 134h0m-7-259h0m-2-258h0m8-12h0m-2 75h0m-6 10h0m0 221h0m-1-364h0m1 393h0m8-247h0m-1 96h0m-5 172h0m2 47h0m-2-395h0m1 101h0m-4-86h0m1 125h0m2 155h0m5-261h0m0 454h0m-8-487h0m8 521h0m-1-519h0m-5 200h0m4 268h0m1-230h0m2-112h0m-4 306h0m0 10h0m3-401h0m-7 205h0m4 51h0m6-139h0m-9 294h0m6-421h0m-4-75h0m8 57h0m-8 514h0m4-568h0m-4 162h0m1 206h0m2-211h0m-1-155h0m3 413h0m-6-154h0m5-160h0m-7-64h0m6 223h0m1 55h0m-4 207h0m4-4h0m-6-392h0m8-115h0m0 474h0m-4-126h0m-6 158h0m1 3h0m9-287h0m-10 81h0m12 192h0m-8-23h0m8-26h0m-8-18h0m0-458h0m-2-12h0m7 453h0m-2-296h0m-1 79h0m5 301h0m-2-499h0m-8 109h0m7-108h0m-7 548h0m1-437h0m10 46h0m-9 386h0m8-278h0m-3 149h0m-70 120h0m1-133h0m3 103h0m2-399h0m0 107h0m-4 306h0m4 37h0m0-354h0m-7-3h0m6-22h0m-2 252h0m-3-2h0m3 106h0m-2-82h0m2-124h0m1-241h0m2 111h0m458 364h0m3 2h0m-26-2h0m24 0h0m-11 1h0m-46 1h0m55 0h0m3-1h0m-55 1h0m47-2h0m9-2h0m-38-2h0m17 4h0m-60-2h0m33 0h0m-28 1h0m73-2h0m0 1h0m-2-5h0m-9 3h0m-26-1h0m6-3h0m39 3h0m-33-1h0m-63 1h0m54-2h0m-27 1h0m20-5h0m41 3h0m-92-2h0m78 0h0m0 0h0m-52 0h0m45 2h0m-5-1h0m-61-2h0m3 1h0m86-3h0m-66-2h0m-14 0h0m31-1h0m39 2h0m-65 0h0m77 1h0m-65-1h0m21 0h0m-22 1h0m28-5h0m-12 1h0m43 0h0m-33 0h0m30-2h0m-54-1h0m-27 2h0m90-1h0m-61 0h0m0 2h0m-32-4h0m10-3h0m21 3h0m23-2h0m44 3h0m-68-4h0m21 3h0m-29-1h0m57-1h0m-25-1h0m-36-1h0m-20-2h0m31 1h0m-30-1h0m19-1h0m35 0h0m-50 1h0m85 0h0m-79 1h0m47 1h0m39-5h0m-30-2h0m-36 3h0m50-3h0m7 2h0m-63-1h0m55 2h0m-24 0h0m27 0h0m-51-3h0m24-4h0m6 2h0m26-2h0m-21 0h0m26 1h0m-44 0h0m-33 0h0m-16 1h0m60 0h0m-5-1h0m-27-4h0m-2-1h0m-24 1h0m0 1h0m8 1h0m53-2h0m-32 0h0m28 0h0m-45-1h0m77 3h0m-69-7h0m41 2h0m-23 2h0m31-1h0m22-3h0m-37 2h0m-17 1h0m34-3h0m-68 0h0m12-4h0m72 1h0m-37 0h0m37 0h0m0-1h0m3 3h0m-62 0h0m62-2h0m-58 1h0m-26-1h0m-8-4h0m68 0h0m26 1h0m-73-1h0m52 2h0m-6 0h0m2-3h0m7 2h0m14 1h0m-28-1h0m33-4h0m-75-1h0m75 1h0m-93-2h0m6 3h0m75-1h0m-42 0h0m52 1h0m-68-3h0m66-1h0m-48-1h0m-27 1h0m13-2h0m-26 2h0m55 0h0m-48-1h0m15-2h0m34 1h0m30 0h0m5-2h0m-5-1h0m-9 0h0m-32-2h0m-15 1h0m51 2h0m-78-3h0m25 2h0m-3 1h0m1-7h0m-10 0h0m77 2h0m-13-1h0m-78 0h0m87 2h0m-15-3h0m-65 1h0m-3-1h0m62 2h0m-38-5h0m58 1h0m7-1h0m-88 0h0m15 1h0m70-1h0m-20 0h0m17 1h0m-14-1h0m-40 1h0m50-5h0m-55 2h0m55-3h0m-59 2h0m68 1h0m-69-3h0m-17 1h0m2 2h0m17-2h0m64-3h0m-18-2h0m-19 3h0m-19 0h0m-15-2h0m71 2h0m-32-3h0m-23 2h0m18-2h0m32 2h0m3-6h0m-80 2h0m4 0h0m-4 0h0m3-2h0m15 0h0m42 3h0m-70 0h0m55-2h0m-39 2h0m-19-6h0m22 0h0m-8-1h0m13 2h0m-3 1h0m24-2h0m38 2h0m-75-1h0m52-1h0m-54 0h0m21-4h0m46 1h0m16-1h0m-34 0h0m-56-1h0m66 1h0m-36-2h0m12 2h0m47 1h0m-34 1h0m-23-5h0m60 1h0m-18-1h0m-32-1h0m12 2h0m37-3h0m-73 1h0m8 1h0m-7-1h0m-15 2h0m34-5h0m54 0h0m-78-2h0m74 3h0m2-2h0m-53 1h0m24 0h0m-36 0h0m68-1h0m-73-4h0m56 2h0m-49-3h0m56 3h0m-18-2h0m9-2h0m-21 1h0m41 1h0m-2-1h0m-87-2h0m-3-3h0m38 4h0m33-1h0m-26-2h0m-47 2h0m8-2h0m4 2h0m27-3h0m-12 4h0m7-7h0m-33 1h0m13-2h0m51 2h0m-13 0h0m-12 0h0m-28-1h0m38 2h0m-31-2h0m73 1h0m-91-4h0m54 0h0m26-1h0m-27 1h0m32 1h0m-84-2h0m70 2h0m17 0h0m-71-2h0m54 3h0m-5-4h0m22-1h0m-8-2h0m8 0h0m-9 2h0m15-1h0m-3-1h0m-48-3h0m8 0h0m43-1h0m-4 1h0m-66 0h0m70-2h0m-71-1h0m-23 1h0m64 0h0m-13-3h0m-13 0h0m-38 2h0m82-7h0m-80 1h0m96-1h0m-32 1h0m-61 3h0m83-4h0m-88 0h0m57-4h0m-29 0h0m63 3h0m-39-2h0m-51-1h0m64-1h0m21 0h0m-2 0h0m-20 0h0m-26-3h0m-36-4h0m-2 0h0m12 1h0m4 1h0m34 2h0m-35-5h0m14 0h0m28-3h0m-48 1h0m15-1h0m20 0h0m-18-1h0m44 0h0m-45-1h0m66 1h0m-11-5h0m-24 1h0m19-1h0m25-1h0m-75-1h0m56-3h0m0-1h0m-6 3h0m-53-2h0m16-4h0m33 1h0m-48-1h0m9 2h0m64-7h0m3 0h0m-2 1h0m-38 1h0m13-6h0m1 3h0m-16-1h0m20 1h0m19-7h0m-95 2h0m29 0h0m63-2h0m1-1h0m-18-1h0m-64-1h0m65 2h0m12-7h0m-67 2h0m76-1h0m-18-1h0m-56-1h0m30-1h0m21-1h0m-53 0h0m1-5h0m-26 0h0m96 2h0m-67 0h0m32-5h0m40 1h0m-19-1h0m-47 2h0m-10-6h0m37 1h0m21 1h0m-23-6h0m-16-1h0m-6 1h0m44-5h0m19 0h0m-6 0h0m-12-2h0m16-1h0m4 1h0m-16-6h0m-39 2h0m-16-2h0m56-2h0m12 0h0m-72-1h0m-2-4h0m74-2h0m-23 4h0m-53-4h0m11-1h0m44-2h0m5-2h0m-55-2h0m2 0h0m-4-3h0m42-1h0m11 1h0m3-4h0m13 0h0m-44 0h0m30-4h0m-2-2h0m-30 3h0m11-4h0m41-1h0m-17 0h0m-7-5h0m-51 1h0m70-1h0m-56-3h0m51 2h0m-86-3h0m26-2h0m62 1h0m-77-4h0m82-2h0m-31-1h0m13-1h0m21-3h0m-41-1h0m19-4h0m-12 2h0m13 1h0m0-5h0m-15-1h0m-4-5h0m-16 3h0m21-6h0m-43 3h0m68-2h0m-64-4h0m51-2h0m24 0h0m-58-1h0m-45-6h0m103 2h0m-21-4h0m21 1h0m-23-6h0m23-1h0m-80-2h0m-12-7h0m16 1h0m43-4h0m27-1h0m-36-2h0m21 0h0m-45-6h0m32 2h0m-37-3h0m0-6h0m48 0h0m-10-2h0m-35-7h0m0-4h0m68-4h0m-7 1h0m-14-5h0m-53 0h0m-8-2h0m10-6h0m37 0h0m35-2h0m-72-2h0m4-4h0m60 1h0m-17-3h0m-74-3h0m72-8h0m-16 1h0m1-1h0m42 0h0m-25-6h0m-70-5h0m27-3h0m23-1h0m22-2h0m0-5h0m-17-3h0m19-4h0m-47-6h0m26-5h0m41-11h0m-19-8h0m-2-10h0m-51-8h0m73-9h0m-5-8h0m-20-14h0m9-3h0m-75-6h0m10-8h0m39-10h0m-23-30h0m27-14h0m36-31h0m253 596h0m27 1h0m-3-2h0m-29 2h0m-48-3h0m70 1h0m-54-2h0m13 1h0m-22-1h0m65 4h0m-33-7h0m-14-1h0m15 3h0m39 1h0m-23-1h0m10-1h0m-51 2h0m-5-3h0m70 2h0m-28-2h0m20-1h0m-57-3h0m19 2h0m3 1h0m12 0h0m-26-4h0m-3 3h0m4-1h0m53-1h0m-18 2h0m-29-5h0m-6 0h0m44 0h0m-43 1h0m45 0h0m-32 0h0m19-1h0m13-1h0m1 0h0m8 2h0m-33-4h0m35-1h0m0 0h0m-60-2h0m-18 1h0m29 2h0m20-2h0m-42 2h0m30-3h0m18 2h0m-42-4h0m30 1h0m14-2h0m-29-1h0m21 4h0m-27-2h0m-2 1h0m55-3h0m-10 1h0m-18-2h0m-37 0h0m55 0h0m-64 0h0m47-3h0m-20 1h0m12 0h0m-2 2h0m43 1h0m-38-4h0m36-2h0m-36 0h0m-44 1h0m29-3h0m23 1h0m25 2h0m-76-1h0m42-1h0m-5 0h0m11-4h0m-12 1h0m14-2h0m19 1h0m-48 2h0m23-1h0m-42 0h0m-3-1h0m31 0h0m-23-3h0m13 1h0m7-3h0m9 3h0m-3-2h0m-7 2h0m19-1h0m23 2h0m-34-2h0m29-5h0m-15 1h0m-42 1h0m45-1h0m-25 1h0m37 0h0m-49 0h0m49-3h0m-62 3h0m50-1h0m-49-4h0m66 2h0m-58-3h0m45 0h0m-39 2h0m13 0h0m2-2h0m20 2h0m-6-3h0m-44 2h0m32-5h0m-28 1h0m75 1h0m-77 0h0m16 0h0m22 0h0m-21-3h0m56 1h0m-18-1h0m-47 0h0m49-3h0m-39 1h0m49 1h0m-10-3h0m16 3h0m-50-2h0m-4-1h0m-8 3h0m58 1h0m-8-1h0m-65-4h0m14 0h0m29-1h0m24 2h0m-52 0h0m-4-3h0m-12-1h0m61 1h0m-44-1h0m45 0h0m-34-3h0m39 2h0m-43-3h0m0 2h0m32 0h0m25-2h0m-31 1h0m0 0h0m-34-1h0m-3 3h0m30-7h0m-38 2h0m18 1h0m-1 0h0m9-3h0m-25 0h0m47 2h0m-52-1h0m27 2h0m8-2h0m-14-5h0m28 0h0m-14 1h0m42-1h0m-51 2h0m18-2h0m-37 2h0m-9-1h0m46 2h0m7-2h0m-48-4h0m74 0h0m-46-1h0m7 1h0m-32-1h0m67 1h0m-41-1h0m16 2h0m-14-2h0m-8-1h0m-8 0h0m-8-2h0m11 1h0m30-1h0m-36 0h0m-14 2h0m79 0h0m-66 0h0m17-3h0m-17-4h0m-14 1h0m26 1h0m24 1h0m-39-2h0m10 2h0m-9-3h0m61-1h0m-18 3h0m13 1h0m-19-7h0m18 3h0m-19-3h0m-19 3h0m35-3h0m-61 0h0m58 2h0m-31 1h0m-8-4h0m-16 4h0m33-6h0m-25 1h0m34-3h0m-12 1h0m-29 0h0m65 3h0m5-1h0m-53-2h0m0 0h0m13-4h0m31 3h0m-36 0h0m-9-1h0m1-2h0m27 2h0m-8-3h0m-42 1h0m75 3h0m-49-1h0m8-3h0m46-4h0m-28 3h0m-48 1h0m24 0h0m-20-3h0m46 0h0m-31 1h0m-3 1h0m1-2h0m30-2h0m-24 1h0m38-1h0m-26-2h0m-4 3h0m-21-2h0m57-2h0m-19 1h0m-32 0h0m2 1h0m-18-2h0m75-1h0m-57 0h0m53-2h0m0-1h0m-73 2h0m25 1h0m8 0h0m28 1h0m-37-4h0m44-2h0m-72-1h0m66 1h0m-4-1h0m20 3h0m-31-3h0m28 0h0m-25 3h0m26-1h0m-27 0h0m-23-7h0m-13 1h0m6 1h0m56 0h0m-36-1h0m-20 0h0m51 2h0m-17-2h0m17 1h0m-46 1h0m-24-3h0m44 0h0m15-3h0m-17 3h0m-30-2h0m-5-1h0m28 1h0m29-1h0m-13 2h0m-16 0h0m25-4h0m-61-2h0m58 1h0m-60-1h0m44 1h0m7 2h0m-4-4h0m-43 0h0m46-1h0m-8-1h0m-28-1h0m56 1h0m-29 1h0m9 0h0m-49-6h0m20 2h0m7 0h0m20 0h0m26 0h0m-6-2h0m-19 3h0m-22-7h0m-14 2h0m3 1h0m-18-3h0m27 1h0m-22 2h0m58-3h0m-40-5h0m21 2h0m-14 1h0m-27 0h0m28-1h0m0 0h0m-7-3h0m26-1h0m30 1h0m0 1h0m-17-2h0m-20-1h0m2 0h0m35-2h0m-10-3h0m-24 0h0m-16 2h0m-25-2h0m20 0h0m19 2h0m32-2h0m-71-1h0m54 1h0m-7-1h0m-35 1h0m38-1h0m-28 0h0m14-4h0m11-1h0m-4-1h0m12 1h0m19-2h0m-75 4h0m15-4h0m-14-2h0m54 1h0m18 0h0m-13-1h0m6 1h0m8-3h0m-23 3h0m-25-5h0m21-2h0m-26 4h0m0-4h0m-1 1h0m21 0h0m29 1h0m-16-4h0m-48 1h0m-8-1h0m38-2h0m-3 0h0m41 1h0m-7 0h0m-62-4h0m44 1h0m-32 1h0m19-1h0m30 1h0m-55 0h0m-7-1h0m33-5h0m14 0h0m-4 1h0m23-2h0m-68 4h0m22-1h0m53-2h0m-3-3h0m0 1h0m-25-1h0m25-2h0m-21 3h0m0-1h0m16-2h0m-47-4h0m-23 3h0m49-1h0m-27 0h0m43-1h0m-12 1h0m-24 0h0m-9-4h0m2 1h0m-13 0h0m46-1h0m19 1h0m-4-1h0m-62 0h0m14-6h0m28 0h0m0 3h0m-13-1h0m-5 1h0m29-1h0m2 1h0m-20-6h0m30 0h0m-23-1h0m14 2h0m-17-1h0m29 2h0m-66-3h0m45-3h0m-10 2h0m-20-1h0m-5 1h0m49-3h0m-11 3h0m-17-4h0m3-2h0m-3 1h0m-36 1h0m70-4h0m2-3h0m-48 1h0m-3 0h0m10-5h0m26 3h0m4-3h0m-57 2h0m-11-6h0m26 2h0m35 1h0m-10 0h0m-21-7h0m1 2h0m19 1h0m-44-4h0m77-1h0m-61 0h0m47 1h0m-34-5h0m-5-2h0m-28 0h0m62-3h0m-37-1h0m29 1h0m-15-4h0m33 0h0m3-1h0m-46-4h0m-30 2h0m39-3h0m-13-2h0m28-1h0m-48-1h0m57-2h0m-8-4h0m-28 0h0m3 1h0m26-5h0m-1 0h0m6 0h0m-55-5h0m24 0h0m14 1h0m19-5h0m-2 3h0m-18-6h0m-17-1h0m33 0h0m-43-3h0m11 1h0m-18-4h0m7 0h0m8-5h0m34 1h0m-29-7h0m12 1h0m-13 3h0m34-5h0m-55-3h0m19-4h0m-24 3h0m35-3h0m37-2h0m-10 0h0m-17-3h0m-20 0h0m47-4h0m-50 0h0m-19-6h0m57 2h0m-1-4h0m-37-3h0m38-3h0m-59 2h0m69-6h0m-10 2h0m11-5h0m-14 0h0m-42-6h0m45 3h0m-5-4h0m-3-5h0m-10-3h0m17-1h0m-31-4h0m-9-4h0m39-2h0m8-2h0m-7-4h0m-47-7h0m12-3h0m35 1h0m-12-5h0m-21 0h0m-4-2h0m0-4h0m36-3h0m-32-7h0m27-3h0m-14-3h0m3-3h0m12-1h0m-13-7h0m17-1h0m-55-6h0m44-4h0m-20-2h0m51-6h0m-40-5h0m3-3h0m38-4h0m-18-5h0m-1-2h0m-31-3h0m27-6h0m24-4h0m-13-9h0m-41-4h0m-2-4h0m35-7h0m-54-2h0m19-4h0m49-23h0m0-1h0m-12-5h0m-53-6h0m70-11h0m-17-5h0m-54-18h0m24-15h0m246 565h0m-7-1h0m-30 3h0m16-1h0m-7-2h0m80 2h0m-64 1h0m-3-1h0m54-1h0m-78 1h0m62 1h0m-53 1h0m41-2h0m2-5h0m34 2h0m2 1h0m3-3h0m-14 1h0m9 1h0m-38-1h0m16-2h0m-46 1h0m21 0h0m8 0h0m14-1h0m-50 3h0m5-4h0m70 0h0m-19 1h0m-20-3h0m-39 1h0m44-2h0m-27 2h0m11 1h0m31 1h0m-4-2h0m-53-2h0m-11 1h0m63-1h0m-29-2h0m12 2h0m22-2h0m-21 0h0m-8 1h0m13 0h0m8-2h0m-5 3h0m-15-1h0m28-1h0m-28 0h0m-18 1h0m-25-2h0m56 0h0m32-4h0m-35 1h0m40-2h0m-88 3h0m71-2h0m-62-1h0m49 1h0m-19 1h0m-14 1h0m36 0h0m11-2h0m13 0h0m-74 2h0m9-6h0m29 1h0m-25-1h0m14 3h0m-29-2h0m50 2h0m10-3h0m-52 3h0m-18-1h0m67-1h0m-1 1h0m-52-1h0m19 2h0m9-7h0m31-1h0m-75 1h0m67 1h0m-16 1h0m-1-2h0m14 2h0m11-2h0m-55 1h0m8-2h0m14 1h0m20 2h0m14-1h0m-15-3h0m9-2h0m-2-1h0m5 0h0m21 1h0m-59 2h0m-13-2h0m14 0h0m-3 0h0m-8 2h0m-27-1h0m41 1h0m-37-2h0m10 0h0m19-2h0m-17-3h0m33 4h0m5-2h0m-30 1h0m35-2h0m-27 0h0m2 1h0m37 0h0m-39 1h0m-13-1h0m18 0h0m37-1h0m-70 0h0m46-3h0m-9-1h0m26 0h0m20 2h0m-45-3h0m35 0h0m-5 1h0m-4 2h0m4-1h0m-31 1h0m3-2h0m-32-1h0m75 0h0m-72 2h0m3-4h0m21 1h0m49-3h0m-9 2h0m-25-1h0m-39 1h0m50 1h0m10-1h0m-34-2h0m32 2h0m-22-1h0m43 0h0m-76 2h0m-1-3h0m13-2h0m43 1h0m-57-1h0m19-2h0m-23 0h0m-12 4h0m49-1h0m46-2h0m-60 0h0m43 2h0m-40-2h0m18-1h0m-40 3h0m-8-6h0m-2-1h0m34 2h0m55-1h0m-79 1h0m72 0h0m-39 0h0m35-1h0m2 0h0m-57 1h0m65 1h0m-5 0h0m-24-2h0m-49-4h0m57 2h0m-20 0h0m12-1h0m29-2h0m-51 1h0m24 1h0m-24-2h0m24 3h0m-53 0h0m77-3h0m-48 1h0m53-1h0m-27 1h0m-16-2h0m-7-3h0m33 3h0m-13 0h0m-61-1h0m59 1h0m25 0h0m-83-1h0m23-2h0m24 1h0m38 2h0m-49 0h0m-28-2h0m67 2h0m-79-5h0m32 0h0m-31-1h0m75 2h0m-42-2h0m37 0h0m-30 1h0m52 1h0m-12-1h0m-14 0h0m27 1h0m-80 0h0m56-1h0m-44-5h0m60-1h0m-13 3h0m-19 0h0m-7-2h0m-34 0h0m27-1h0m-11 1h0m49-1h0m-17 0h0m-26 3h0m37-1h0m-46 0h0m26-6h0m24 2h0m9 1h0m-9-2h0m-67 2h0m61-2h0m16 0h0m-15 1h0m-41 1h0m45-2h0m-66 2h0m64-3h0m-62 1h0m64-3h0m-55 1h0m67-2h0m-87 0h0m14-1h0m-1 2h0m1 0h0m25 1h0m-16-3h0m-20 3h0m87-3h0m-82 3h0m65-2h0m15-4h0m-75 0h0m73 0h0m2 0h0m-88-1h0m93 2h0m-5 1h0m-4-1h0m-83 0h0m37 1h0m53-3h0m-63 0h0m-16 2h0m58-3h0m-60-2h0m37 1h0m15-1h0m8 2h0m-30-3h0m34 1h0m0 0h0m-71 0h0m27 1h0m32-2h0m-19 3h0m51-1h0m-88 1h0m41-4h0m-6-1h0m4 1h0m25-1h0m-1-2h0m-70 2h0m75 0h0m-4 0h0m-3 0h0m-25-2h0m7 2h0m23-1h0m-37 2h0m-32 0h0m84-4h0m-18-3h0m4 1h0m-56-1h0m54 0h0m7 3h0m-9-1h0m-30 0h0m-16 0h0m-14 1h0m42 0h0m28-4h0m-6 1h0m-73-4h0m63 3h0m-60-1h0m48 1h0m12-3h0m12 1h0m7 2h0m-35-3h0m-29-1h0m64 1h0m-73 0h0m83 0h0m-34 3h0m-49-5h0m75-1h0m-12-2h0m-59 3h0m39-1h0m35 2h0m-60-1h0m-22 1h0m8-1h0m74-3h0m-67 4h0m61-1h0m-70 0h0m26-7h0m57 1h0m-63 1h0m44 2h0m6-3h0m12 3h0m-19-3h0m-15 2h0m-30 0h0m42-1h0m-9 2h0m-4-3h0m-32 0h0m-12-3h0m24-1h0m-10 1h0m59 0h0m-86 0h0m54 0h0m-34-1h0m42 0h0m13 0h0m-75 1h0m8-1h0m-8 0h0m88 1h0m-26 0h0m-4-6h0m5 2h0m20 0h0m-43-1h0m-38 0h0m44 0h0m4 0h0m-31 0h0m68 3h0m-88-3h0m76 3h0m-77-3h0m11 0h0m2-3h0m38-1h0m33 1h0m-63-1h0m-22 1h0m13-1h0m60 1h0m-58 1h0m31-2h0m-6 1h0m-32-1h0m68 1h0m-15-2h0m10 0h0m-66-3h0m71 2h0m-46-1h0m6 0h0m-9 0h0m-24 0h0m74-2h0m0 2h0m-47 1h0m-29 0h0m54 1h0m-2-4h0m25 3h0m16-4h0m-52-2h0m11 3h0m-42 0h0m39-1h0m-33 0h0m49 0h0m-14 1h0m24-3h0m12-1h0m-73-2h0m18 1h0m0-3h0m38 1h0m-56 2h0m53 0h0m-56 0h0m1 0h0m-8-1h0m11 1h0m79-7h0m-48 3h0m-26-2h0m36 2h0m-46-2h0m28 2h0m48-2h0m-34 0h0m39 1h0m-18-2h0m-35-2h0m-19 0h0m8 0h0m22-1h0m-22-1h0m53 2h0m-40 0h0m37 2h0m-48-4h0m-24-3h0m10 3h0m4-4h0m45 2h0m-55-1h0m72 1h0m-38 1h0m-14 0h0m51-2h0m-28-1h0m-12-3h0m28 0h0m7 1h0m-21-2h0m31 3h0m-34-3h0m-13 3h0m25-1h0m22 1h0m-81 0h0m68-5h0m14 0h0m-35-2h0m-47 0h0m10 0h0m71 3h0m-52-1h0m11 2h0m-10-3h0m-21 2h0m38-6h0m4 1h0m20 1h0m14 1h0m-51 0h0m1 0h0m1-3h0m-26 1h0m-12-2h0m24-2h0m14 2h0m42-3h0m13 0h0m-19 2h0m-62-2h0m1 2h0m0-2h0m34-1h0m-5 2h0m51-3h0m-81 1h0m63-1h0m-2 0h0m-67-3h0m62 0h0m-2 3h0m-35-3h0m50 4h0m5-6h0m-23-1h0m-66 0h0m73 2h0m-21-2h0m13 1h0m-64-2h0m73 1h0m-3 2h0m7 0h0m-60-3h0m11-4h0m13 1h0m-22 1h0m-1 0h0m-4 0h0m38-1h0m22 2h0m-39-2h0m-7-3h0m11-2h0m21 0h0m4 4h0m-13-4h0m-34 0h0m0 1h0m58 1h0m-22-2h0m41-3h0m-70-1h0m9 2h0m19-1h0m-13 2h0m-10-1h0m42 1h0m-29-3h0m0 0h0m7-1h0m25-1h0m-71-1h0m72 0h0m-4-1h0m-58 0h0m25 2h0m55 1h0m-67-2h0m-9 0h0m42-4h0m13 2h0m-59-1h0m12-2h0m70 0h0m-93 2h0m33-2h0m19 2h0m-41-2h0m55 0h0m-55-3h0m-4 0h0m9 0h0m45 1h0m-18 0h0m-9-1h0m9-1h0m-30 2h0m-3 1h0m54 0h0m-2-4h0m-5-3h0m-10 0h0m27 3h0m-58 0h0m56-1h0m-52-1h0m62 3h0m-31-3h0m-11 1h0m25-5h0m-47 0h0m74-1h0m-24 3h0m19-1h0m-35-1h0m-39 2h0m61-3h0m-73 2h0m38 0h0m25-6h0m-37 2h0m36 0h0m4 0h0m-57-2h0m17 1h0m61 1h0m-18-2h0m16 0h0m-25-4h0m-52 2h0m35-2h0m-27 2h0m-2 0h0m-3-2h0m-14 2h0m41-3h0m-10-1h0m32-2h0m25 3h0m-50-2h0m30-1h0m6-4h0m-60 3h0m61 0h0m-1 0h0m-61-3h0m23 1h0m-2-2h0m11-2h0m30 0h0m9-1h0m-83 1h0m14-1h0m54 1h0m-8-3h0m-28-1h0m3-1h0m59 2h0m-92 1h0m11-3h0m43-1h0m-49-2h0m40 2h0m-37 0h0m33-1h0m19-5h0m8 0h0m-6 2h0m14-3h0m-65 1h0m3-2h0m28 0h0m-3-2h0m0-1h0m11-5h0m-48 1h0m32 0h0m14 2h0m-25-7h0m58 3h0m-9-2h0m7 2h0m-32-5h0m39-1h0m-57 0h0m3 1h0m4-4h0m-29 1h0m44-3h0m-24-1h0m-2-1h0m24-1h0m38 0h0m-52-3h0m-6 1h0m57-2h0m-58-1h0m15-4h0m-8 3h0m-12-5h0m15-1h0m-12 3h0m58-6h0m-49-1h0m-23 0h0m73-5h0m-59 3h0m6-1h0m-27-3h0m74 0h0m7-2h0m-60-3h0m-5-2h0m13-4h0m-1 0h0m15 0h0m43-3h0m-79-1h0m72 3h0m-57-4h0m11 1h0m41-4h0m12-4h0m-64 4h0m-2-3h0m60-3h0m-14-1h0m-42-1h0m-16-4h0m14 2h0m52-1h0m-68-3h0m17-2h0m20 0h0m-21 0h0m-22-3h0m81 0h0m-17-2h0m19 0h0m-82-2h0m43-2h0m-13-3h0m3 0h0m40-1h0m-31 0h0m38-2h0m-23-4h0m-63-1h0m31 3h0m-16-7h0m55 1h0m-23 1h0m7-5h0m-7-1h0m-25 3h0m59-7h0m-55 3h0m21-1h0m-18-5h0m7-1h0m-8 0h0m23-4h0m-23 0h0m39 1h0m-41-2h0m34-3h0m-11 2h0m-23-6h0m60 1h0m-2-1h0m-61-3h0m45 1h0m-40 0h0m-1-4h0m0 1h0m1-3h0m63-2h0m-52 0h0m45-1h0m2-2h0m-53-3h0m-7 0h0m-1-3h0m11-1h0m23 2h0m-43-3h0m30-3h0m-20-1h0m2 0h0m0-1h0m41-5h0m-43 0h0m60-4h0m-56 1h0m16-5h0m39-1h0m-57 0h0m37-1h0m-38 0h0m2-1h0m-7-3h0m-6-3h0m54 0h0m-47-5h0m65 1h0m-63 0h0m62-3h0m-56 0h0m48 0h0m-31-5h0m16 2h0m-52-3h0m19-1h0m2-1h0m33-3h0m-28 0h0m-12-4h0m3 0h0m0 0h0m-19-5h0m45 0h0m-18-4h0m14 0h0m13-3h0m-39-1h0m3-4h0m-1-1h0m-1-2h0m14-1h0m-13-3h0m8-4h0m44-7h0m-54-1h0m32-4h0m-29-3h0m-4-2h0m2 0h0m-10-4h0m69 1h0m-39-6h0m-18-1h0m-4-3h0m66-1h0m-9-1h0m-34-4h0m-18-6h0m-3-2h0m8 0h0m33-5h0m-34-2h0m-7-2h0m52-4h0m7-5h0m-72-3h0m15-9h0m60-2h0m-51-4h0m-37-7h0m10-4h0m17-7h0m3-7h0m2-6h0m54-3h0m-58-5h0m11-4h0m47-11h0m-39-3h0m-24-7h0m246 599h0m-38 1h0m-2-4h0m38 3h0m-32-2h0m10 3h0m33-3h0m-46 1h0m15 2h0m41-2h0m-29-3h0m-29-2h0m30 2h0m-20 0h0m-3-1h0m48-2h0m-13 0h0m16 2h0m-52-1h0m26 1h0m5-5h0m-4 3h0m10-3h0m-43 0h0m48 0h0m-32 1h0m22-2h0m7 2h0m-10 1h0m1-4h0m-11-1h0m-12-1h0m-2 0h0m8 1h0m5 1h0m-24 0h0m14-2h0m41-1h0m-44 4h0m0-5h0m10 0h0m4-2h0m-14 1h0m11 1h0m17 1h0m14-2h0m1 1h0m-22-1h0m-25-2h0m8-2h0m41 1h0m-53-1h0m16 1h0m24 0h0m10-3h0m-44 2h0m3-1h0m46 1h0m-60-5h0m20-1h0m27 2h0m-20 1h0m-1 0h0m6 0h0m7-1h0m-23-1h0m40-1h0m-8 0h0m-29-4h0m-8 3h0m20 0h0m-30 0h0m1-2h0m16 1h0m1-1h0m-3-1h0m-12 3h0m9-3h0m4-3h0m-9 1h0m37 0h0m-22 0h0m-20 0h0m7-2h0m-10 1h0m13-1h0m36 3h0m-27-5h0m34-2h0m-23 0h0m9 2h0m-12-2h0m28 2h0m-47-1h0m47 2h0m-57-3h0m32-1h0m-14 1h0m38-2h0m-30 0h0m33-2h0m-42 3h0m-18 0h0m10-3h0m2 2h0m26-5h0m8-1h0m-22 1h0m10 0h0m-20 0h0m32-1h0m9 4h0m-41-1h0m5-1h0m-19 1h0m22-4h0m12 0h0m23-2h0m-14 2h0m-37-1h0m52-2h0m-14 1h0m-24 1h0m-9 1h0m45-3h0m-57-1h0m40-3h0m0 2h0m-16 1h0m22-1h0m-28-1h0m-7 2h0m7 0h0m5-2h0m0-3h0m21-2h0m2 1h0m-44 0h0m54 1h0m4 0h0m-7 1h0m-30-2h0m5 1h0m31-4h0m-50 0h0m50 0h0m-57 1h0m34-1h0m-5 0h0m-6-2h0m-17 2h0m15 0h0m-16-2h0m26-1h0m8 0h0m11-1h0m-30-2h0m-13 3h0m0-1h0m48-2h0m-33 2h0m34 0h0m3-1h0m-44-2h0m-11 0h0m12-2h0m12 0h0m3-1h0m-25 2h0m50-1h0m-31 1h0m-15-1h0m46-1h0m-25-4h0m-23 0h0m8 0h0m28 2h0m5 1h0m-50-3h0m12 2h0m33 0h0m9-1h0m-34-1h0m37-2h0m-45-1h0m-6-1h0m9 2h0m-4 0h0m7-2h0m13 1h0m12-1h0m16 1h0m-45-2h0m-2-2h0m48 2h0m-42-3h0m41 2h0m-49 0h0m28 1h0m11 0h0m-39-3h0m36 3h0m-27-5h0m17-2h0m20 1h0m-49 0h0m9 2h0m-15 0h0m56-2h0m-7 1h0m-42-2h0m46 2h0m-38-4h0m-6-1h0m-1-2h0m46 2h0m-13 2h0m-18-2h0m32-1h0m-27 1h0m-12 2h0m28-2h0m-21-3h0m5-1h0m7 2h0m14-1h0m-33-2h0m-7 0h0m12-1h0m5 4h0m-25-2h0m54-3h0m1-2h0m-27 2h0m19-2h0m6 3h0m-53-3h0m24 2h0m30-1h0m-48-2h0m12-1h0m3 0h0m-16-2h0m35 2h0m14 0h0m-32 1h0m-8-3h0m33 1h0m-32 1h0m11-2h0m-20-2h0m2-1h0m12 0h0m-12 2h0m37-2h0m-34 1h0m36 0h0m-42 1h0m-7-3h0m50-2h0m-37-2h0m3 2h0m34-1h0m-31 1h0m35 0h0m-10-1h0m-20 1h0m9 0h0m12-5h0m14 0h0m-4 1h0m-39 0h0m-3 1h0m25-3h0m-30 3h0m1-4h0m25 3h0m10-5h0m-35 2h0m48 0h0m-14 0h0m2-2h0m-31 2h0m29-3h0m2 3h0m-25-2h0m39-4h0m-40 0h0m21-2h0m15 0h0m-26 0h0m-8 4h0m0-2h0m-2-4h0m-8 0h0m0 1h0m44-1h0m-37 2h0m2-2h0m1 2h0m5-6h0m19 0h0m-14 0h0m7-1h0m19 3h0m-39 0h0m0-3h0m-1-1h0m39 0h0m3-3h0m-40 3h0m12-1h0m-28-2h0m13 2h0m-14-3h0m11-1h0m4-2h0m15 1h0m-21-2h0m4 4h0m30-5h0m-16-2h0m-1 0h0m-11 2h0m-4-2h0m-10 1h0m54-2h0m-23 0h0m-18-2h0m42 1h0m-43-2h0m10 3h0m-15-3h0m-1-1h0m36-1h0m-21-1h0m1-2h0m29 4h0m2-1h0m-42-1h0m0-2h0m0-4h0m39 2h0m-32-2h0m-17 3h0m52-3h0m-47 3h0m14 0h0m27-7h0m-16 2h0m20-2h0m-21 2h0m-6 0h0m-26 0h0m23-2h0m-6-2h0m0-2h0m37 2h0m-54 0h0m41-2h0m-3 2h0m3 0h0m5-4h0m9-1h0m-4 2h0m-40 0h0m37 0h0m-3-1h0m-19 0h0m-14-6h0m47 3h0m-10-3h0m-37 2h0m5-1h0m13 1h0m-13 2h0m9-5h0m-13-1h0m-2 1h0m13 0h0m36 1h0m-35-1h0m20 0h0m-38-5h0m37-2h0m-26 3h0m-14-3h0m34 3h0m-1-1h0m19 1h0m-53-6h0m1 0h0m6 0h0m45 1h0m-44-1h0m-8 0h0m13 1h0m-10-6h0m14 2h0m39 1h0m-28-3h0m-15 3h0m39-3h0m-20-1h0m-12-3h0m1 1h0m5 2h0m-10-1h0m6 0h0m31-1h0m-54-2h0m9-3h0m2 3h0m41-3h0m-43 1h0m9 0h0m-8 1h0m-1-3h0m6-3h0m14 3h0m-21 0h0m-7 0h0m10 0h0m-2-4h0m19-3h0m17 3h0m-46-2h0m50 1h0m0-5h0m-35 2h0m27 0h0m-17-1h0m4 0h0m-1-3h0m-24 0h0m14-3h0m20-1h0m-16 3h0m22-6h0m5 2h0m-19-1h0m12 1h0m-18 0h0m1-6h0m11 2h0m7-1h0m-39 1h0m18-2h0m-22-2h0m4-2h0m41 2h0m-11 1h0m1-2h0m-28-3h0m-6 0h0m54-1h0m-46 2h0m-10-3h0m33-4h0m-35 2h0m22 1h0m-1-1h0m35 0h0m-55-5h0m24 0h0m-4-1h0m-3 3h0m30-2h0m-29-4h0m16 2h0m-4-4h0m-24 3h0m46 1h0m2-6h0m-36 0h0m-1 0h0m9 0h0m-9-1h0m31-5h0m1 0h0m-31 3h0m26 1h0m10-1h0m-22-3h0m16-2h0m-47 1h0m17 0h0m-8-1h0m49-4h0m-32 2h0m28-1h0m-14 1h0m-36-2h0m13-6h0m3 3h0m-12-3h0m-6 3h0m9 0h0m41-5h0m-49 0h0m10-2h0m-3 1h0m-11 0h0m9-5h0m46 4h0m-15-2h0m-5 1h0m23 0h0m-25-7h0m-22 3h0m8-1h0m1 2h0m36-1h0m-32-5h0m-21 0h0m3 2h0m12-2h0m-5 1h0m7-4h0m-1 0h0m12 1h0m-9-3h0m10 1h0m-25-6h0m21 3h0m-27-3h0m57 1h0m-45 1h0m27-3h0m-18-1h0m19-2h0m-40 3h0m7-2h0m37-5h0m-34 3h0m27-2h0m1 3h0m-19-4h0m22-1h0m-19-1h0m31 2h0m-53-3h0m60 3h0m-48-6h0m18-1h0m-30 2h0m2 0h0m41-2h0m3-1h0m9-1h0m-29 0h0m17-3h0m-13 3h0m-6-2h0m23-1h0m-27-1h0m7-1h0m-11 0h0m-17-1h0m32-4h0m-6 2h0m-4-2h0m-12 1h0m32-1h0m4-5h0m-26 3h0m-17-2h0m53 2h0m-38-3h0m-9-4h0m-4 3h0m51-1h0m-44-2h0m33 2h0m6-4h0m-30 2h0m-14-1h0m48 0h0m-23-3h0m-9-4h0m-13 0h0m32 3h0m-30 0h0m-2-2h0m-4-3h0m7-2h0m44 2h0m-33-2h0m-12 0h0m26-2h0m-17-1h0m-9 0h0m17 0h0m17-1h0m-20-3h0m-16 1h0m14-1h0m-9 0h0m30-1h0m-36-4h0m1 3h0m9-2h0m29 1h0m-33 0h0m26-3h0m2-3h0m-36 3h0m44 0h0m-16-3h0m-23-2h0m11 1h0m1-3h0m36 3h0m-2-3h0m-4-4h0m-53 1h0m46 2h0m-46 0h0m49-2h0m-37-3h0m21-2h0m-12 1h0m38 0h0m-32 0h0m12-2h0m-26-1h0m23-1h0m-15 2h0m-13-3h0m0-3h0m12-1h0m-11 2h0m45 0h0m-13-1h0m-18-4h0m-6 0h0m30 1h0m-22-3h0m20 3h0m-21-6h0m29 1h0m-45 1h0m4-1h0m-2-1h0m9-1h0m-3-3h0m23-1h0m6 0h0m-7 0h0m15-3h0m-32 2h0m25-2h0m-24-1h0m-24 4h0m10-5h0m31 0h0m11-1h0m-5-1h0m-27-1h0m10-4h0m5 3h0m-7-1h0m-21-1h0m21 1h0m22-3h0m-42 0h0m20 1h0m-9-1h0m21-1h0m16-2h0m0-3h0m-9 1h0m-13 0h0m3-1h0m12-2h0m-5-3h0m-25 3h0m-12 1h0m19-5h0m23-2h0m-36-1h0m1 1h0m24-2h0m-23 0h0m25-2h0m-16 2h0m-7-5h0m-2 2h0m-1-3h0m12 0h0m-16-1h0m22-2h0m-29-1h0m8 0h0m48-2h0m-57 1h0m22 0h0m-1-4h0m18-1h0m-30-3h0m48 1h0m-27-3h0m17 0h0m-18 0h0m-20 1h0m22-5h0m2-1h0m-19 0h0m16-5h0m-25 3h0m26-1h0m0-3h0m2-2h0m21 0h0m-42-1h0m17-2h0m2 1h0m-29 0h0m30-5h0m-2 1h0m2-3h0m2-2h0m-19 1h0m18-2h0m-12-1h0m10-1h0m-1 0h0m-27-6h0m25 2h0m15-3h0m-10-4h0m-22 3h0m19-1h0m-28-6h0m29 3h0m-3 0h0m27-7h0m-43 3h0m20-2h0m-3-2h0m1-2h0m-4-1h0m32-3h0m-26 0h0m-16 1h0m14-6h0m7 1h0m-6 2h0m1-6h0m-2-2h0m2 4h0m22-5h0m-30-2h0m-1 2h0m-4-3h0m-6-1h0m19-1h0m-5-1h0m-24-4h0m24 3h0m30-1h0m-53-4h0m1-2h0m25-1h0m-25 3h0m48-4h0m-22 0h0m26-1h0m-38-4h0m41 0h0m-30 2h0m-1-6h0m-25-2h0m28 4h0m19-4h0m-21-2h0m29 1h0m-58-4h0m48-3h0m-1 2h0m-17 1h0m0-5h0m0 1h0m0-1h0m-8-2h0m-5-1h0m14-2h0m1-3h0m-1-1h0m-2-1h0m-27 2h0m8-5h0m20-1h0m-14 1h0m9 1h0m-4-6h0m8 3h0m1-1h0m0-5h0m-11 3h0m25 0h0m-26-5h0m11-1h0m-8-1h0m0 2h0m-5-5h0m14 0h0m3 0h0m-3-3h0m1-1h0m21 1h0m-40-4h0m18 0h0m1-2h0m1-5h0m-19 2h0m18 1h0m-12-4h0m-17-1h0m8-1h0m22-2h0m-2-3h0m-2 1h0m2-3h0m-2-2h0m2 1h0m3-3h0m-22-2h0m19 2h0m7-5h0m5-1h0m-33 1h0m36-3h0m-14 0h0m-1-4h0m-29-1h0m207 603h0m-7-7h0m4-3h0m-4 0h0m11-3h0m-6-6h0m-2-2h0m5-4h0m3-5h0m-6-1h0m6-5h0m0 0h0m-8-7h0m4-2h0m-3-4h0m0 0h0m-4-6h0m2-1h0m0-3h0m2-2h0m0 0h0m2-6h0m-3-5h0m7 3h0m-7-7h0m8 3h0m-3-5h0m-5-5h0m-1 0h0m8-5h0m-6-1h0m-2-3h0m4-3h0m-2-6h0m-1 1h0m7-3h0m-4 1h0m4-5h0m-6 0h0m3-5h0m3-4h0m-5-10h0m1-3h0m-3-12h0m5-8h0m-1-16h0m2-59h0m0-34h0m0-128h0m-2-9h0m15 393h0m-6 2h0m14-1h0m0-5h0m-11-1h0m-2 0h0m2-4h0m13 3h0m-15-2h0m-3-6h0m9 1h0m10 1h0m-18-2h0m16-1h0m-11-2h0m0-1h0m10-2h0m-18 0h0m5-3h0m15-3h0m-11 2h0m8-6h0m1 4h0m-10-2h0m8-4h0m-7 2h0m8-1h0m1-4h0m-9-2h0m-10 2h0m9-5h0m-7-2h0m2-3h0m19 0h0m-15-3h0m13 0h0m-2 0h0m0-5h0m-3 3h0m7-2h0m-15-6h0m-1 1h0m7-5h0m-2 2h0m1-1h0m-12-3h0m6 0h0m10 0h0m-3-6h0m-12 3h0m-2-4h0m11-3h0m12 3h0m1-1h0m-16-5h0m12 0h0m-20 2h0m20-5h0m-1 0h0m-6 0h0m3-7h0m6 0h0m-4 3h0m-7-3h0m-11-3h0m11 2h0m7-6h0m1 0h0m2 3h0m-10-7h0m5 1h0m5-1h0m0-1h0m-2 0h0m3 0h0m-18-4h0m11-3h0m3 2h0m-1-6h0m-12 2h0m8 1h0m-4-7h0m5 2h0m-14-3h0m0-1h0m21-3h0m-21-5h0m14-6h0m-6-4h0m-2-4h0m2-2h0m10-5h0m3-4h0m2-2h0m-21-3h0m15-4h0m-3-4h0m7-5h0m-12 1h0m8-3h0m3-5h0m1-2h0m1-4h0m-1-5h0m0-5h0m-20-5h0m16-2h0m-12-7h0m-5-6h0m5-3h0m13-11h0m-15-7h0m-1-2h0m15-7h0m-1-6h0m8-4h0m-6-5h0m-2-9h0m-15-2h0m22-2h0m-21-6h0m19-3h0m2-3h0m1-8h0m-8 0h0m0-8h0m-12-3h0m13-3h0m3-3h0m2-4h0m0-6h0m2-5h0m-18-4h0m11-5h0m-14-7h0m21-2h0m0-3h0m-2-5h0m-6-10h0m2-13h0m0-7h0m-13-5h0m18 0h0m-21-9h0m20-4h0m-3-11h0m-1-3h0m-11-2h0m14-6h0m-3-1h0m1-6h0m-8-9h0m10-4h0m-18-3h0m15-4h0m-4-3h0m-11-5h0m13-4h0m2-4h0m-2-8h0m1-9h0m-3-5h0m8-4h0m1-28h0m-1-12h0m-22-1h0m17-14h0m-10-2h0m-3-5h0m11-5h0m3-4h0m2-14h0m-17-5h0m15-21h0"/><path stroke="#bfbfbf" d="M626 1923h0m78 0h0m-132-1h0m203 0h0m-201 2h0m64-2h0m99 0h0m-199 0h0m202 2h0m-105-1h0m-74 0h0m-46-2h0m92 1h0m168 3h0m-115-3h0m-15 2h0m81-2h0m-204 0h0m160 0h0m-164-1h0m3 3h0m120-1h0m57-1h0m26-5h0m-106 1h0m-83 1h0m64-2h0m35 3h0m-103-1h0m11 0h0m185 1h0m-103-1h0m-15 1h0m-59 0h0m150-1h0m-126 2h0m131-1h0m-29-1h0m85-2h0m16 2h0m-185 0h0m-30-1h0m-43 0h0m106 0h0m11 1h0m117 1h0m-50-6h0m-21-1h0m-92 3h0m-36-3h0m170 2h0m-92 1h0m79 0h0m34 0h0m32-3h0m-82 0h0m22 2h0m-100 1h0m-95-2h0m153 0h0m-104 2h0m143-1h0m-49 0h0m-18-2h0m-67 2h0m54 0h0m54 0h0m24 1h0m-60 1h0m-97-7h0m-30 0h0m94 1h0m119 0h0m-189-1h0m198 1h0m-44-1h0m-43-1h0m-32 4h0m-54-4h0m-40 4h0m196-3h0m-130 3h0m-13-2h0m-73 2h0m146-2h0m-17 0h0m-29-1h0m-63 3h0m170-4h0m-157 2h0m86 2h0m-134-1h0m155-4h0m28 0h0m74-3h0m-147 2h0m-9 1h0m-46 1h0m25-3h0m131 3h0m11-1h0m-117 0h0m-32-2h0m-37 2h0m225-2h0m-145 0h0m47-1h0m58 1h0m-42 1h0m-176-2h0m91 0h0m22 2h0m-111-1h0m92 2h0m125 0h0m-52-6h0m45 3h0m-29-1h0m-148 1h0m27-3h0m179 1h0m-209-1h0m140 1h0m-139 1h0m99-3h0m-66 1h0m126-1h0m-68 4h0m-57-2h0m116-1h0m-5 2h0m-177-3h0m213 3h0m-186 0h0m-11-2h0m102 0h0m122 1h0m-221 1h0m-2-7h0m173 0h0m-161 3h0m30 1h0m-63-4h0m150 2h0m-114-2h0m-13 3h0m222-2h0m-210 0h0m-31 2h0m155-3h0m-93 0h0m14 3h0m-70-2h0m247 2h0m-253-1h0m15 2h0m65-2h0m-64 0h0m181-2h0m-184 2h0m205-1h0m-184-5h0m65 3h0m60-2h0m-34 0h0m129 2h0m-93-1h0m84 1h0m-84-3h0m56 0h0m-72 3h0m-120-3h0m224 2h0m-130-2h0m138 0h0m-128 2h0m26-1h0m-60 0h0m34-1h0m15 2h0m-142 1h0m115-1h0m-64 0h0m19 0h0m49-4h0m-117 1h0m180-1h0m-55-2h0m-108 0h0m208 2h0m-90 2h0m-107-2h0m34 0h0m3-1h0m3 2h0m-55-3h0m148 2h0m-66 0h0m66-1h0m17 1h0m-86 1h0m119-3h0m-75 1h0m6 2h0m102-1h0m-116 0h0m-32 0h0m-46-4h0m64 0h0m-114-2h0m200 2h0m-20 0h0m-11 0h0m-13 2h0m80-1h0m-122-2h0m-97 2h0m84 1h0m-69-4h0m5 2h0m127 0h0m-117 1h0m18-2h0m2 1h0m36-2h0m17 2h0m-53 1h0m152-1h0m-228 0h0m196 0h0m-172-1h0m184-2h0m-147-2h0m31 1h0m117 0h0m-199 0h0m161-1h0m-100-1h0m-25 4h0m151-3h0m13 0h0m-190 2h0m235-1h0m6 1h0m-153-1h0m3-2h0m-87 4h0m35-3h0m-48 1h0m-10 0h0m24 1h0m13-1h0m181-2h0m-93 1h0m39-3h0m17 1h0m-31-1h0m-70 1h0m93 0h0m-168-2h0m191 0h0m-2-1h0m55 2h0m-33 1h0m-2-3h0m-139 3h0m-51-2h0m93 1h0m-9 1h0m-72 0h0m21-1h0m-1-1h0m45 2h0m129-1h0m-204 1h0m18 0h0m17 0h0m-25-3h0m21-2h0m-32 0h0m43 1h0m61-2h0m-102 2h0m-9 1h0m23-1h0m-31-2h0m96-1h0m-105 1h0m210 1h0m-75 1h0m-88-3h0m-17 0h0m16 0h0m206 2h0m-205 0h0m160 1h0m-124-3h0m162 1h0m-74 3h0m6-1h0m7-3h0m-59-4h0m-52 2h0m83 1h0m66-1h0m-26 1h0m-46-2h0m35 2h0m-65 0h0m13 0h0m40 0h0m87-1h0m-39-2h0m28 1h0m-242 1h0m181-1h0m-174-1h0m-15 0h0m213 1h0m-26-1h0m-153 3h0m49-2h0m-3 0h0m-44 0h0m109 0h0m40-2h0m9-2h0m-191 2h0m117-3h0m49 2h0m84 2h0m-66-2h0m-77-2h0m-51 3h0m87-2h0m-15 2h0m10-1h0m53 1h0m-187 0h0m19-2h0m203 0h0m13-1h0m3 3h0m-220-3h0m131 3h0m-4-3h0m91 1h0m-109 1h0m28-3h0m-4-3h0m-21 0h0m25 1h0m6 0h0m-44-1h0m-81 2h0m13-2h0m-20 0h0m44 3h0m-63 0h0m41-2h0m64-1h0m59 1h0m78 1h0m-238-1h0m-20-1h0m227 2h0m-20 1h0m-176-2h0m-13 2h0m32 0h0m200-3h0m-212 3h0m169-5h0m-188-2h0m114 2h0m-94 1h0m83-1h0m62 1h0m77 0h0m-225-3h0m169 1h0m50 1h0m-129 0h0m-103 1h0m62-2h0m-48 1h0m159-1h0m-192 1h0m162-2h0m-110 1h0m60 0h0m-56 1h0m-25 0h0m57-1h0m97 1h0m35 1h0m-196-4h0m172-3h0m-181 0h0m-22 0h0m201 1h0m-144-1h0m63 2h0m6-1h0m-101 2h0m20-3h0m143 3h0m-120-3h0m-4 3h0m-31-2h0m4 1h0m210-2h0m-229 2h0m142-1h0m-101 2h0m134-2h0m68-1h0m-133 3h0m84-2h0m38 2h0m-99-6h0m113-2h0m-46 4h0m-134-3h0m173 3h0m-195-2h0m53 0h0m-93 1h0m169-1h0m-44-2h0m-63 4h0m2-1h0m-15-2h0m116 1h0m1 1h0m-113-2h0m31 3h0m53-2h0m17 0h0m-50-1h0m-12 3h0m-77-1h0m50-2h0m57 0h0m-122-4h0m143 3h0m-133-2h0m60-1h0m3 2h0m-7 1h0m-58 0h0m196-1h0m-157-1h0m-62 1h0m16 0h0m14 1h0m160-2h0m-19 2h0m-116-3h0m83 2h0m-124 0h0m85 0h0m-66 1h0m99-4h0m83 4h0m-46-3h0m-171 0h0m229-1h0m-176 0h0m157-2h0m-179 2h0m146-1h0m-95 0h0m-30 0h0m199 0h0m-18 1h0m5-3h0m-116 0h0m-65 2h0m156-2h0m-72 3h0m58-3h0m-163 0h0m155 3h0m48-1h0m-182 0h0m89-2h0m-63 3h0m-60 0h0m171 0h0m-160-6h0m109 1h0m-92-2h0m139 0h0m-155 3h0m36-3h0m11 0h0m149 2h0m-199-2h0m74 2h0m-52 1h0m-20-3h0m27-1h0m66 4h0m80-2h0m-176 2h0m219 0h0m0-3h0m-202 0h0m-45 2h0m92 0h0m131-2h0m-191 0h0m42 2h0m-37-6h0m210 1h0m-150 1h0m-39 0h0m-34 0h0m90-1h0m58 2h0m-118-1h0m49 0h0m-107-1h0m254-1h0m-158 1h0m-38 1h0m138-2h0m-175 0h0m141 1h0m86 0h0m-126 0h0m72-1h0m-176 1h0m60-1h0m99 0h0m-31 3h0m113-4h0m-204-1h0m24-2h0m-39 3h0m75-2h0m25 1h0m-45 0h0m160-3h0m-241 4h0m87-2h0m96 0h0m49 1h0m14 1h0m-220-3h0m-16 0h0m-2 3h0m-5-2h0m230-1h0m-232 0h0m241 2h0m-67-2h0m-125 1h0m177 2h0m-216-6h0m79 1h0m-12 1h0m58 0h0m-93-1h0m-24 0h0m64 0h0m115 1h0m-120-2h0m-28 0h0m-17-1h0m-28 0h0m22 0h0m73 2h0m-109-2h0m172 1h0m36-2h0m-7 0h0m-63 1h0m34 2h0m21-2h0m-142 0h0m189 2h0m-241-3h0m180 0h0m-158-3h0m36 3h0m-36 0h0m113-3h0m-106 2h0m-29 1h0m235-1h0m-149 1h0m69-1h0m-67 1h0m103-2h0m-177-1h0m64 2h0m-16-2h0m78 3h0m39-3h0m62 3h0m-22-2h0m-211-2h0m227 4h0m-83-2h0m-15-5h0m77 0h0m36 3h0m5 0h0m-139-2h0m-32 0h0m-40-1h0m-11 3h0m-20-1h0m6 1h0m-7-1h0m42 0h0m7-3h0m155 4h0m0-1h0m-135 0h0m-60-1h0m119-1h0m-119 1h0m57 2h0m-25 0h0m25-2h0m49 0h0m-63-4h0m-65 1h0m246 1h0m-246-1h0m87-2h0m-1 1h0m10-1h0m-53 0h0m100 3h0m17-1h0m41-2h0m-149 0h0m-53 2h0m-3-3h0m59 1h0m106 2h0m14-1h0m-33 2h0m-44-1h0m-59 1h0m122 0h0m11 0h0m38-1h0m2-5h0m-131 0h0m-30 1h0m-56-2h0m123 2h0m-86-2h0m35 0h0m92 3h0m85-1h0m-8-1h0m-49 0h0m-146 1h0m21 1h0m7 0h0m174-1h0m-31 1h0m-75-2h0m73 1h0m-139 0h0m9-2h0m-82 1h0m258 2h0m-221-1h0m106-1h0m-142-2h0m177-1h0m-162 0h0m165-2h0m-127 1h0m98 0h0m107-1h0m-166 1h0m-71-1h0m-18 1h0m3-1h0m74 2h0m16-1h0m70 0h0m23 0h0m-124-1h0m119 3h0m-85-3h0m98 0h0m-126 1h0m109-1h0m-14 0h0m-167 2h0m32-4h0m226-2h0m-177 1h0m164-2h0m-139 0h0m-103 2h0m224 2h0m-54-4h0m34 0h0m-169 3h0m15-1h0m53 2h0m98-3h0m52 3h0m-141-3h0m70 3h0m-99-2h0m-33-5h0m-20 1h0m111-1h0m-87 0h0m-28 3h0m180-3h0m-191 2h0m40-1h0m64-1h0m51 0h0m-87 2h0m-20 0h0m54 0h0m114 0h0m-201 0h0m2 0h0m1 0h0m112-5h0m27 1h0m-125-2h0m-10 2h0m143-3h0m-43 3h0m99 1h0m-235 0h0m28-1h0m1-1h0m73-1h0m130-1h0m-88 1h0m-95 2h0m2-1h0m145 1h0m-189-4h0m94-1h0m-12 1h0m-92 1h0m149-4h0m-120 1h0m85-1h0m108 4h0m-83 0h0m12-4h0m-13 0h0m66 1h0m-99 2h0m26-2h0m53 2h0m-140-3h0m-24-3h0m177 0h0m-188 0h0m23 2h0m172 1h0m-147 0h0m168-1h0m-20 0h0m-48 1h0m10-2h0m-120-1h0m68 1h0m118 0h0m-55-1h0m-71 0h0m8-1h0m59 3h0m30-5h0m-167-1h0m32 2h0m69-2h0m34 2h0m-138 1h0m47-4h0m64 4h0m-41-3h0m72 1h0m-163 2h0m94 0h0m-27-3h0m12 1h0m-76-2h0m-15 0h0m221 4h0m-201-7h0m12 2h0m224-3h0m-253 3h0m124 0h0m55-1h0m-130 0h0m-52-1h0m134-1h0m-25 3h0m143-1h0m-245 1h0m241-2h0m-103 1h0m59-1h0m-89 2h0m66-1h0m-159-6h0m-26 2h0m32-2h0m151 1h0m-146 0h0m143 2h0m-24-3h0m-42 0h0m21 3h0m3-3h0m13 0h0m-64 4h0m99-3h0m-23-1h0m-128 1h0m-38 2h0m138-3h0m6-4h0m-104 2h0m-2 2h0m-9-3h0m109 0h0m-127-1h0m-2 0h0m7 1h0m77 3h0m-73-4h0m69 0h0m-29 3h0m22 0h0m-1 0h0m30-2h0m-51 3h0m-39-7h0m230-1h0m-30 0h0m4 3h0m-223 0h0m48-2h0m138 0h0m-154-1h0m106 1h0m91 0h0m-33 0h0m54 1h0m-20 0h0m-195-2h0m48 2h0m-30-2h0m156-2h0m53-2h0m-72 1h0m-105 0h0m-70 0h0m0 1h0m22-1h0m211 1h0m-61-2h0m-169 0h0m95 2h0m-107 0h0m180 2h0m-180-2h0m243-1h0m-94 0h0m-150-2h0m30 0h0m168 0h0m-195-1h0m-10 1h0m172-2h0m-134 3h0m-36 0h0m131-4h0m77 3h0m-177-1h0m116 0h0m-12 2h0m24-1h0m-100 0h0m144-2h0m-23-1h0m81-3h0m-80 2h0m-154 0h0m130-3h0m51 0h0m54 1h0m-101 2h0m-76-3h0m-45 2h0m54-1h0m-92 2h0m23 0h0m72-2h0m100 0h0m-96 1h0m29 0h0m-93 1h0m172-5h0m-182-1h0m-11 2h0m28-1h0m103-2h0m-5 1h0m-3 2h0m-12-3h0m4 3h0m47-1h0m-81 0h0m94-1h0m-4 0h0m-132 1h0m190-2h0m-97 2h0m15 0h0m-24-3h0m-102 0h0m121-3h0m75 2h0m-229-1h0m206 1h0m-36 1h0m85-3h0m-192 0h0m-41 1h0m124 1h0m-6-1h0m-3 2h0m-114-3h0m39 2h0m-65 1h0m207-2h0m-18-4h0m-29 0h0m54 0h0m-198 2h0m-2-3h0m110 1h0m-67-1h0m-32 2h0m178-2h0m-88 2h0m131-1h0m-111 1h0m-98-1h0m103 0h0m-112 2h0m44-1h0m151-1h0m-186-3h0m37-1h0m125 1h0m62 1h0m-93 0h0m-70-3h0m98 0h0m-115 2h0m177-2h0m-155 2h0m-71-1h0m-25-1h0m137 2h0m-85-2h0m-40 2h0m205 0h0m30-5h0m-189 1h0m-32 1h0m-16-1h0m190 0h0m-177-2h0m-14 2h0m133 0h0m-24 1h0m91 0h0m-96-3h0m-58 2h0m-32 0h0m78-1h0m72-1h0m-3 2h0m-77-6h0m10 0h0m0 0h0m-11 0h0m-15 0h0m-9 0h0m-30 1h0m180 0h0m-139 2h0m164-2h0m-250 1h0m236-2h0m-177 1h0m32-1h0m67 3h0m-51-2h0m-48-4h0m192 0h0m-53 1h0m-12 1h0m-60-3h0m-88 2h0m89 1h0m-28 0h0m-3-2h0m84 1h0m-19 0h0m-20 1h0m-118-2h0m233 2h0m-221 0h0m52-3h0m-30-1h0m123-2h0m-94 0h0m90-1h0m-140 0h0m10 2h0m-30 1h0m110-3h0m-1 0h0m33 3h0m-51 0h0m-85-3h0m121 2h0m-58-5h0m3 0h0m-82-2h0m13 2h0m241 1h0m-256 1h0m155-1h0m-5 1h0m-91-1h0m76-1h0m122-1h0m-235 1h0m233 0h0m-131-2h0m-116-1h0m97-2h0m-14 2h0m-91 1h0m204-1h0m-161-2h0m214 0h0m-202 2h0m103 0h0m-88-2h0m60 3h0m-98-6h0m-15 2h0m-2 0h0m176-3h0m-40 1h0m-23-1h0m-105 3h0m83-2h0m-23 1h0m-5-1h0m-48-2h0m155 3h0m-107-4h0m-47-2h0m61 2h0m83-2h0m-145 1h0m193-1h0m-83 1h0m-38 1h0m-2-2h0m90 2h0m-110-2h0m-28 3h0m-38-7h0m17 2h0m-2-1h0m190 0h0m-56 2h0m-47-3h0m67 1h0m-184 1h0m2 0h0m118 1h0m-120-3h0m134 3h0m-120 0h0m226-6h0m-241-1h0m1 1h0m26-2h0m185 1h0m-133 0h0m-41 1h0m-18-1h0m-19 1h0m6 1h0m48-1h0m90 1h0m104-2h0m-89-1h0m-93-3h0m124 2h0m-173-1h0m15 2h0m131-1h0m-122-3h0m127 2h0m-17 0h0m6 1h0m-125-1h0m32 0h0m181-4h0m8 1h0m-70 0h0m-128-1h0m96-1h0m40 0h0m-102 2h0m160-3h0m-91 3h0m35-1h0m-195-1h0m185 1h0m-182 2h0m168-6h0m27 1h0m-19-2h0m-120 1h0m162 1h0m2-2h0m-194 3h0m21-3h0m10 0h0m-43 2h0m229 0h0m-19-2h0m-199-3h0m200-1h0m-23 1h0m19-1h0m-106 2h0m103-1h0m-115 0h0m9-1h0m104-1h0m-117 3h0m-67-2h0m59 2h0m116 1h0m-137-4h0m121-3h0m-158 0h0m11 3h0m135-4h0m-147 1h0m73-1h0m107 2h0m21 1h0m-181 0h0m194-2h0m-155 2h0m147-2h0m-165-5h0m-10 1h0m18 0h0m176 2h0m-96-2h0m-129 2h0m49-3h0m-52 4h0m177-1h0m-6 0h0m-11 0h0m-160 0h0m87-7h0m-85 4h0m-31-1h0m137-1h0m-20 2h0m102-2h0m-109 2h0m102-1h0m-170-3h0m-22 4h0m209-4h0m25 3h0m-70-7h0m-10 1h0m-180 0h0m86 0h0m55 1h0m-7 1h0m112-2h0m-173 0h0m-10 0h0m128 3h0m-29-3h0m-36 0h0m-51-3h0m164 0h0m5 0h0m-218 1h0m89-1h0m73-1h0m-28 2h0m-16-1h0m66 0h0m-136-1h0m-38 1h0m-27-3h0m118 0h0m59-1h0m-83-2h0m7 2h0m-2 1h0m-46 0h0m16-1h0m-52 0h0m97-2h0m-34 1h0m165-4h0m-9 1h0m-221-1h0m184-1h0m-152 4h0m103-1h0m-127-1h0m95-1h0m46-1h0m-166 3h0m52-5h0m11-2h0m-4 4h0m158-3h0m29-1h0m-246 2h0m153 0h0m-50 1h0m-25-2h0m-82 0h0m164-5h0m-127 2h0m168 1h0m-171-1h0m124-1h0m-85 3h0m-49 0h0m48-3h0m-60 3h0m4-5h0m91-3h0m70 2h0m29-1h0m-150 2h0m-19-1h0m52 0h0m62 1h0m34-2h0m-154-1h0m-28-4h0m140 2h0m15 1h0m-77-3h0m53 1h0m-27-1h0m70 3h0m-95-7h0m-15 2h0m16-2h0m155 3h0m-142-2h0m-31 2h0m80-2h0m68 1h0m29-5h0m17 2h0m-199-2h0m64-1h0m71 3h0m-107 0h0m91-2h0m-175-3h0m86 1h0m-43-1h0m68-1h0m-112-1h0m249 0h0m-233 0h0m215-2h0m-141 0h0m78 1h0m27-1h0m-172 0h0m77-1h0m-60 3h0m25-5h0m124 0h0m24-1h0m-182 0h0m191-1h0m-147 0h0m92 1h0m52-4h0m-197 1h0m69 1h0m140-2h0m-37-2h0m-90 3h0m96-7h0m-4 1h0m-5 2h0m-99-1h0m148 1h0m-151-1h0m24-3h0m127 0h0m-144 1h0m95-1h0m-100-3h0m-22 1h0m-48-1h0m78-3h0m-30 2h0m36-2h0m-6 0h0m-94 0h0m21-4h0m215 0h0m-201 2h0m147-2h0m-98 1h0m95 0h0m-94-4h0m-8 0h0m-9-1h0m18 0h0m16 2h0m56-5h0m-72-1h0m151 0h0m-145 1h0m-75 1h0m81-5h0m-82-1h0m67 2h0m12-1h0m-50 0h0m145-1h0m-105-5h0m-12 1h0m63 0h0m115-1h0m-262 0h0m121-4h0m-93 0h0m70 2h0m72-2h0m3 2h0m-162-6h0m18 0h0m185 1h0m-75-1h0m-112 3h0m71-2h0m147-4h0m-189 1h0m-36 1h0m51-3h0m140 0h0m-178 3h0m79-4h0m133-1h0m-132-2h0m-77 1h0m206 1h0m-219 1h0m73-7h0m143 2h0m-141 0h0m-23-1h0m-45 0h0m77-5h0m3 0h0m63 0h0m-74 2h0m-27-2h0m176-4h0m-79 1h0m-59 2h0m140-2h0m-153-1h0m20-1h0m37 0h0m91 0h0m-135-2h0m129 0h0m-144-6h0m141 2h0m-129 1h0m129-2h0m-127 1h0m24-1h0m-46-4h0m23-1h0m32 3h0m40-1h0m-39 0h0m-39-5h0m3 1h0m138 2h0m-176-2h0m42 0h0m7-5h0m79 0h0m-89 1h0m130 1h0m-63-2h0m-75-1h0m-16-1h0m-56-1h0m157-1h0m-166-4h0m16 2h0m173 0h0m39 1h0m10-4h0m-163-1h0m94-1h0m30 0h0m-76-2h0m75-2h0m19 0h0m10-1h0m-125-4h0m-85 2h0m213-1h0m-112 0h0m-63-3h0m67-3h0m-133 3h0m234 1h0m-156-5h0m24-2h0m-93-1h0m170-1h0m5 1h0m-18 0h0m-147-7h0m82 2h0m-12 0h0m9-5h0m-69-1h0m58-3h0m107 0h0m56-4h0m-227 0h0m79 1h0m-82-4h0m212 0h0m-223-4h0m229-2h0m-28-2h0m-123 1h0m15-8h0m100 1h0m-105-5h0m68 0h0m71 0h0m-148-1h0m-81-3h0m94-3h0m-24 1h0m137-1h0m-127-2h0m140 0h0m-47-2h0m13-3h0m-158-2h0m201-5h0m-138 1h0m-6 0h0m98-3h0m-98 0h0m-57-1h0m-17-3h0m69 2h0m15 0h0m-110-4h0m46 0h0m47-3h0m148-4h0m-104 3h0m-88 0h0m58-5h0m-77 1h0m233 0h0m-165-8h0m144 2h0m-67 2h0m69-8h0m-14 2h0m-214-1h0m228-1h0m-190 0h0m-21-5h0m101-1h0m-29 1h0m48-6h0m-55 0h0m1 0h0m150-1h0m-140-2h0m-90-3h0m8-2h0m82 2h0m82-4h0m10-2h0m-200-1h0m244-4h0m-114-2h0m-60 1h0m-38-6h0m76 0h0m-2-5h0m36 2h0m101-6h0m2 4h0m-59-8h0m-171 2h0m70-5h0m160-5h0m-57-2h0m-81-6h0m39-4h0m-39-7h0m139-8h0m-132-2h0m-95-5h0m691 598h0m-36 2h0m63 0h0m-153 2h0m110-1h0m-29 0h0m12-3h0m-80 1h0m116 3h0m-127-3h0m23 3h0m77-4h0m-86 1h0m114 1h0m-102 1h0m-28-6h0m15 0h0m104 1h0m-165 0h0m168 0h0m-66 0h0m-47-1h0m50 2h0m-37-2h0m66 2h0m-21-1h0m80-1h0m-181 0h0m147 0h0m24 1h0m-185-3h0m74-2h0m-33 2h0m119 0h0m16-2h0m-149 0h0m82 0h0m-14 1h0m-46 1h0m12-1h0m70 1h0m-47 0h0m13-1h0m-94 0h0m82-2h0m-14 1h0m-29-2h0m114-2h0m-29 0h0m-12 0h0m-33 1h0m107-2h0m-60 2h0m-45 0h0m-23-1h0m60 2h0m69-3h0m-26 2h0m-118 0h0m80 0h0m72 1h0m-126-1h0m117-5h0m-135 1h0m99-1h0m-42 1h0m67-2h0m-176 3h0m21-1h0m-12-1h0m108 0h0m-70-1h0m-30 0h0m92 2h0m-67 1h0m155-2h0m-49 1h0m-78-3h0m-23 0h0m21-2h0m125 0h0m-3 2h0m-142-2h0m63 2h0m74-1h0m-127 1h0m78 0h0m63-3h0m-78 4h0m-69-3h0m104 0h0m33-1h0m-188-2h0m-2 1h0m156-1h0m21 0h0m-176 0h0m48 1h0m89-2h0m-6 2h0m-69-1h0m95-1h0m-113 2h0m-43-1h0m58 2h0m55-3h0m-7 0h0m-105-3h0m129 0h0m-38-2h0m-88 1h0m8 1h0m69 0h0m-15 2h0m-66-2h0m1 0h0m67-2h0m-7 3h0m42 0h0m-36-2h0m11 0h0m-31-1h0m64-2h0m20 0h0m10-1h0m-146 0h0m203 0h0m-141 1h0m-39 0h0m28 2h0m-37-4h0m-5 2h0m134 1h0m25-1h0m-120 1h0m77-1h0m-38-2h0m-84-2h0m62 1h0m49-2h0m-105-1h0m178 3h0m16-1h0m-180-1h0m18-1h0m35 0h0m87 2h0m-76 1h0m41 0h0m-78-2h0m115 0h0m-29 1h0m-39-6h0m69 3h0m-95-2h0m21 0h0m-36-1h0m80 1h0m-50 0h0m96-1h0m-64 0h0m-52 0h0m130 0h0m-20 1h0m8 2h0m-21-1h0m-26 1h0m-72-6h0m-59 1h0m65-1h0m-11 1h0m-54 0h0m-2-2h0m80 0h0m-2 0h0m122 1h0m-62-1h0m-82 2h0m117 1h0m-113-3h0m-17 1h0m51-1h0m37-4h0m32 2h0m30 0h0m-173 0h0m77-2h0m-40 1h0m141 2h0m-186-1h0m106-1h0m-62 3h0m-51-4h0m193 3h0m-51-3h0m14 3h0m-105-2h0m137-2h0m-91-1h0m-76-1h0m-19 2h0m19-2h0m36 1h0m112-2h0m-126 2h0m23-2h0m-43 1h0m95-1h0m55 0h0m-50 3h0m-114 0h0m79 1h0m90-5h0m-21-3h0m-152 2h0m164 1h0m21 0h0m-129-1h0m27-2h0m67 2h0m38-1h0m-17 1h0m-49 1h0m-7 0h0m-79-2h0m85-1h0m-58 1h0m-74-2h0m187-1h0m3-2h0m-140 3h0m113-2h0m25 1h0m-188 1h0m168 0h0m34-3h0m-144 2h0m142-1h0m-89 1h0m36 1h0m-33-3h0m-101 3h0m49-7h0m62 0h0m-58 1h0m-68 0h0m21 1h0m30-2h0m0 2h0m0 0h0m102 1h0m-55-2h0m71-1h0m-165 2h0m37-1h0m-40-1h0m0 2h0m68-6h0m9 1h0m20 2h0m52-3h0m-98 2h0m14-2h0m-60 2h0m194-1h0m-115 1h0m3 1h0m5-3h0m100 2h0m-107 1h0m36-3h0m30 2h0m-149-5h0m74 0h0m58 2h0m68-3h0m-179-1h0m150 2h0m-107-1h0m-63 3h0m118-1h0m-70-1h0m30 2h0m97 0h0m4-3h0m-108 0h0m-52 2h0m142-1h0m-37-5h0m-81 1h0m4 1h0m76 1h0m65-2h0m-145 0h0m24 0h0m18-1h0m-3 0h0m96 2h0m-7 0h0m-43 0h0m32 1h0m-157 0h0m150-1h0m-85-3h0m-69 0h0m81 0h0m-35-1h0m147 1h0m-124-3h0m13 0h0m46 1h0m52 1h0m-65-2h0m82 1h0m-22 1h0m-178 1h0m110-3h0m-14-1h0m-13 3h0m70-6h0m25 1h0m-42-2h0m52 1h0m4 1h0m-72 1h0m-77 1h0m107-2h0m-98-1h0m-15 0h0m0 2h0m147 1h0m-111-3h0m-73 3h0m108-3h0m7-2h0m-64-2h0m67 0h0m-119 2h0m170-2h0m-106 3h0m130-3h0m-53 1h0m38 0h0m-69 2h0m-35-3h0m4 3h0m4-3h0m120 1h0m-184 1h0m20-6h0m72 1h0m-15 0h0m-49 2h0m-4 0h0m119 0h0m-28-3h0m-131-1h0m192 1h0m-54 3h0m-114-1h0m34-2h0m125 0h0m-136 3h0m31 0h0m28-6h0m40 1h0m18-3h0m-34 1h0m-61 3h0m61-2h0m59 0h0m-14-1h0m-34-1h0m-144 4h0m167 0h0m-10 0h0m-94-1h0m82-1h0m54 0h0m-51-5h0m-2 3h0m-23 0h0m-43-3h0m53 2h0m-48 1h0m-37-2h0m3 0h0m-7 0h0m-4 1h0m152-3h0m-77 4h0m-78-2h0m141 2h0m23-3h0m-194 0h0m73-2h0m-30 1h0m119-1h0m-122-1h0m61 0h0m-106 2h0m59 0h0m67-1h0m64-1h0m-29-1h0m-76 1h0m54 1h0m-41-2h0m-29 2h0m56-1h0m6-4h0m-53 1h0m-74-2h0m119 2h0m57 1h0m-91-2h0m-54 0h0m-34 2h0m67-1h0m-64-3h0m126 0h0m-80 1h0m22 1h0m-25-1h0m61 2h0m-34-6h0m103 1h0m-125 1h0m-9-2h0m24 0h0m-54 2h0m12-1h0m-26-1h0m196 0h0m-63 0h0m21 1h0m-124 2h0m142-1h0m-94 0h0m53-2h0m-107-5h0m86 2h0m93 2h0m-23-1h0m-95 0h0m53 0h0m63-2h0m-193 2h0m178-2h0m-113 0h0m-4 3h0m110-1h0m-44-1h0m44-1h0m-42 3h0m-76-6h0m24 0h0m-25 1h0m28-1h0m42 2h0m-69-3h0m80 1h0m-74 2h0m-9-3h0m-51 1h0m95-1h0m-65-4h0m134 3h0m-68 0h0m-50 0h0m105-2h0m22-1h0m-90 1h0m114 1h0m-127 1h0m-3-2h0m-23-2h0m104-3h0m-105 2h0m130-2h0m3 0h0m-2 0h0m16 2h0m-59-1h0m-65-1h0m-73 0h0m54-1h0m50 1h0m-60-2h0m145-1h0m-134 0h0m2 2h0m136-1h0m-112 0h0m86-1h0m-128-1h0m154 1h0m-115-1h0m-65 1h0m0-4h0m61 1h0m33 0h0m95 0h0m-99-2h0m77 3h0m-7-3h0m-88 0h0m31 3h0m-113-1h0m196 0h0m-128-4h0m46-1h0m-83 1h0m73-1h0m-21 1h0m-24-2h0m-8 0h0m62 1h0m1-1h0m-115 0h0m4 1h0m62-6h0m102 1h0m-55 1h0m60 1h0m-142 0h0m27-2h0m73 0h0m17-1h0m-103 1h0m26 2h0m94-1h0m-107-2h0m141-4h0m-186 2h0m186 1h0m-41 1h0m42-3h0m-65 3h0m-35-1h0m32-2h0m32 3h0m-126-1h0m69-3h0m-9-2h0m86 1h0m-183-3h0m104 0h0m14 2h0m-36 1h0m95-3h0m-108 3h0m33-2h0m95-1h0m-152-1h0m48-2h0m101-1h0m-145 3h0m8-2h0m40-1h0m-98 2h0m41 0h0m159-1h0m-134 0h0m-65 0h0m161-3h0m-118 2h0m151-2h0m-30 2h0m-118-3h0m70 2h0m4-2h0m7 0h0m-130 0h0m107-1h0m-91 0h0m52-2h0m-4-2h0m68 4h0m-14-4h0m-84 1h0m68 1h0m-48-1h0m101 2h0m-28 0h0m-26-1h0m-49 0h0m115-4h0m-106-1h0m-1 1h0m62 1h0m-75-2h0m-19-1h0m93 0h0m32 1h0m-81 1h0m11-1h0m-68 2h0m102-4h0m-66-3h0m-38 2h0m166 2h0m-68-2h0m88 0h0m-196 1h0m61 0h0m116-3h0m-171 1h0m95 0h0m-51-4h0m34 0h0m-39-1h0m-29 0h0m-10 1h0m118 0h0m-113-1h0m110 1h0m75 2h0m-25-3h0m12 3h0m-1-4h0m-136-1h0m-3 0h0m62 1h0m27-2h0m65-1h0m-48 0h0m-1 2h0m18 0h0m-80-1h0m53 2h0m41-5h0m-106 1h0m-13-3h0m-62 1h0m131 0h0m-28-1h0m-15 3h0m51-1h0m-20 1h0m16-3h0m35 2h0m6-3h0m-66-1h0m-28-1h0m27 1h0m-16 0h0m109-2h0m-38 2h0m-122 1h0m5 0h0m22-3h0m75 3h0m-84-4h0m-17 0h0m135 0h0m-106-3h0m123 1h0m-112 0h0m77 0h0m-123 2h0m94-2h0m-119 0h0m-12 0h0m197-3h0m-102 1h0m-47-2h0m-32 1h0m130 0h0m-100-1h0m-7 1h0m10-1h0m6 1h0m29-1h0m-7 0h0m3-2h0m2-1h0m58 0h0m34-1h0m-22 2h0m-78-2h0m114 2h0m-187-3h0m54-4h0m7 2h0m-11-1h0m85 0h0m-2 1h0m42 1h0m-142-3h0m59 3h0m45-7h0m-89 2h0m-50 0h0m90 1h0m-83-3h0m172 3h0m-127-2h0m55 2h0m-66-7h0m54 1h0m-46 1h0m89 1h0m-105-2h0m101 0h0m-11-1h0m-28 3h0m-70-6h0m-21-1h0m93 0h0m-61 1h0m124 1h0m-158-2h0m49 0h0m-44 0h0m186-4h0m-33 2h0m7-2h0m-109 0h0m135 0h0m-71 1h0m-39-2h0m82 3h0m-36-3h0m-33-4h0m55 4h0m-97-1h0m39-1h0m-10 2h0m-23-3h0m-18 3h0m134-6h0m-118 1h0m-57 0h0m47-1h0m4-1h0m102 2h0m-141-2h0m98 0h0m89-1h0m-105-2h0m74 0h0m-40-1h0m-17 1h0m-39 0h0m-30-1h0m18 1h0m-31-2h0m19-2h0m0-1h0m74 0h0m0 3h0m-14-2h0m-37 0h0m-12-1h0m104-3h0m-11 0h0m-147 2h0m173 0h0m-92-2h0m-13 2h0m90 0h0m-69-3h0m-42-4h0m16 0h0m106 1h0m-90 0h0m-50 1h0m127 1h0m-11-3h0m-15-1h0m5-2h0m-82-1h0m83 2h0m-113-2h0m-2 2h0m144-2h0m-55 3h0m-22-4h0m-41 0h0m90-1h0m-141 1h0m196-1h0m-10 1h0m-124-3h0m124 2h0m-118-6h0m-52 2h0m106 0h0m-25-1h0m-51 1h0m-49-1h0m54-3h0m79 0h0m-74 0h0m91 0h0m-142-2h0m47 2h0m-53-4h0m95-2h0m84 2h0m-24-2h0m-153 1h0m42 0h0m117-5h0m-52 3h0m-24-1h0m-35 0h0m-29-3h0m30 0h0m-23-4h0m56 1h0m110 1h0m-71-2h0m41 3h0m25-7h0m-144 4h0m1-1h0m87 0h0m-81 0h0m-13-7h0m12 3h0m31-1h0m9 1h0m-2-5h0m-76 1h0m158-3h0m-63 3h0m22-2h0m-65-2h0m-59-3h0m164 1h0m-83 0h0m-87-4h0m-1 0h0m96 1h0m-80 0h0m-13-5h0m147 2h0m-69-2h0m116 0h0m-114-2h0m-78-1h0m66 2h0m90-4h0m-64 0h0m-76-3h0m148 2h0m-13-7h0m-1 3h0m-142-2h0m76-5h0m66 2h0m8-2h0m-81-1h0m-17-2h0m-58 2h0m14-5h0m67 1h0m108 0h0m-184 0h0m57-7h0m105 1h0m-45 2h0m-38-7h0m-90 0h0m90 0h0m-61-4h0m102 1h0m-25 0h0m-95 2h0m110-7h0m-19 2h0m-11 0h0m-5-4h0m-80 1h0m131-1h0m-38-3h0m-12-2h0m1-1h0m-62-2h0m-12-2h0m125 3h0m16-3h0m-18-4h0m-2-1h0m-47 2h0m-2-4h0m109 0h0m-131 2h0m88-6h0m3 2h0m13-1h0m-160-5h0m56-1h0m125 3h0m-120-3h0m132-3h0m-115 0h0m44 0h0m-53-5h0m11 1h0m-25 1h0m65-4h0m-114 0h0m181 0h0m-125-4h0m100 1h0m-15-3h0m-82-2h0m51-2h0m34 0h0m-87-4h0m97 1h0m31-2h0m-186 4h0m134-7h0m48 3h0m0-2h0m-139-2h0m139-4h0m-32 4h0m-155-6h0m149 2h0m-104 0h0m96-5h0m-40-2h0m-94 1h0m138-2h0m0-4h0m-29 0h0m40-4h0m-65 1h0m10-1h0m-23-1h0m-82-1h0m80 1h0m-32-4h0m114-1h0m-162-2h0m169-4h0m-164 3h0m127-2h0m35-3h0m-73 0h0m-28-1h0m-58-5h0m2 3h0m137-4h0m-77-3h0m14-3h0m60 0h0m47 2h0m-88-6h0m89 0h0m0-2h0m-44 0h0m-88-4h0m89 1h0m-153-8h0m126 3h0m26-4h0m-47-1h0m-18-3h0m108 0h0m-102-6h0m-68-1h0m94-3h0m-56-2h0m108-2h0m-49-2h0m-49-5h0m98 0h0m0-6h0m0 0h0m-107-3h0m86 0h0m-149-4h0m69-4h0m124 2h0m-105-6h0m88-1h0m-137-2h0m26-7h0m129 2h0m-82-5h0m83-1h0m-109 0h0m38-7h0m37 0h0m-6-5h0m-33 0h0m-51-2h0m35-5h0m-105-2h0m60-4h0m25-4h0m-25-6h0m-2-5h0m7-2h0m-3-2h0m-51-10h0m97-5h0m86-14h0m288 594h0m153 1h0m-33-1h0m-73 1h0m-23-2h0m65 1h0m-118 3h0m120-4h0m57 0h0m-112 1h0m-49 0h0m84 2h0m-26 1h0m88-2h0m-140 0h0m45-2h0m-16-1h0m97-3h0m-140 1h0m139 3h0m-119-4h0m-4 3h0m116 1h0m-24-4h0m-93 2h0m146-1h0m-145 1h0m-13 1h0m91-2h0m-85 3h0m70-1h0m84-1h0m-162-1h0m49-4h0m79-1h0m-99 0h0m113 2h0m-91-2h0m10 2h0m52-1h0m28 2h0m24-3h0m-157 1h0m125 2h0m-54-1h0m-80-2h0m75 2h0m94 1h0m-5-2h0m-32 1h0m5-6h0m-21 2h0m-119 0h0m118-1h0m-104 3h0m117-3h0m38-1h0m-74 0h0m40 1h0m-28 1h0m-32-2h0m18 4h0m2-3h0m-37 1h0m85-2h0m1 0h0m-41-4h0m46 2h0m-103 0h0m99 2h0m-14-2h0m10 2h0m16-1h0m22-1h0m-149-1h0m35 1h0m-68 0h0m-1-2h0m8 1h0m39 0h0m89 1h0m-15-1h0m-51-3h0m-64-1h0m75 0h0m76 2h0m-5-2h0m-90 0h0m-35 0h0m158 1h0m-121 1h0m-46-2h0m16 2h0m56-1h0m-83 1h0m18-2h0m78 3h0m66-4h0m-89 3h0m52-6h0m-54 1h0m103 1h0m-15 0h0m-42-3h0m20 3h0m-87-2h0m58 0h0m-65 0h0m86 0h0m-102 2h0m-23-1h0m-11 1h0m61-2h0m69 0h0m-126 0h0m101-1h0m-87-1h0m5 0h0m158-2h0m-34 1h0m-23 1h0m-50 1h0m55-3h0m-11 2h0m-13 0h0m62 0h0m-146-3h0m11 3h0m141-2h0m-20 0h0m23 2h0m0-2h0m-23 3h0m-112-6h0m-22 0h0m128 0h0m27-2h0m-166 1h0m-1 1h0m153 0h0m7 1h0m-90 0h0m-16-2h0m-31 0h0m-23 2h0m24-1h0m-10-2h0m0 1h0m152 0h0m-87 2h0m21-4h0m-9-3h0m-96 3h0m118 0h0m-36 0h0m-15-1h0m-70-2h0m60 0h0m-33 2h0m150 0h0m-75-2h0m74 1h0m-32 2h0m-2-3h0m-123 4h0m131-1h0m-115-2h0m79-5h0m37 0h0m-69 3h0m-23 0h0m122-3h0m-9 3h0m-20 1h0m25 0h0m-142-1h0m28-1h0m99-2h0m-144 0h0m158 3h0m-173 0h0m124-2h0m-42 2h0m39 0h0m-36-5h0m8 0h0m-35 0h0m-60-2h0m167 1h0m-149 2h0m56-1h0m109 1h0m-58-1h0m23 0h0m-37-2h0m16 0h0m-92 1h0m34-1h0m9 3h0m16-3h0m-16-1h0m71-3h0m-92 2h0m97 0h0m-110-1h0m57 0h0m72 1h0m-58 1h0m-108-2h0m135 1h0m1-2h0m-8 3h0m-31-1h0m-46-1h0m60-1h0m63 2h0m-82 0h0m35-3h0m6 0h0m41-1h0m-166-2h0m103 0h0m-12 0h0m-44 3h0m-9 0h0m72-2h0m-77 0h0m-15 1h0m7 0h0m144-2h0m-137 0h0m30 1h0m5-1h0m-76 2h0m147-4h0m-129 1h0m46-1h0m60-1h0m-5-1h0m-26 1h0m-33-1h0m65 3h0m-113-1h0m115 2h0m-7-1h0m25-3h0m-60 0h0m94 1h0m-114 2h0m63 0h0m46 0h0m-19-4h0m-134-1h0m104-1h0m-44 0h0m67 1h0m-23 0h0m25 2h0m16-2h0m8 1h0m-140-2h0m2 1h0m134-1h0m-168-1h0m121 2h0m-59 1h0m27 0h0m-32-2h0m6-4h0m115-1h0m-70 0h0m-10 0h0m6 1h0m-89 0h0m116 1h0m28-2h0m-9 2h0m-150 0h0m53 1h0m90-2h0m-143 0h0m116-1h0m45 2h0m-98 1h0m94-4h0m-84-3h0m-14 0h0m-62 2h0m161-1h0m-63 2h0m-10-1h0m-62-2h0m17 3h0m-31-3h0m157 2h0m-147 1h0m35-1h0m-2-2h0m94 0h0m-90 2h0m-28-2h0m48-4h0m-25 2h0m-48-1h0m121-1h0m-131-1h0m88 1h0m-90 1h0m70-1h0m69 0h0m-32 3h0m-94-3h0m50 3h0m-11-2h0m-45 2h0m137-2h0m-32 0h0m-88-1h0m159-3h0m-161-2h0m113 4h0m47-1h0m5-2h0m-6 1h0m-46 0h0m-96 1h0m-18 1h0m130-1h0m-134 0h0m149 0h0m-35 1h0m-40-3h0m23 2h0m-61 1h0m61 0h0m-91-4h0m102-2h0m26 0h0m-89 2h0m75-1h0m-124-1h0m132 1h0m-7 1h0m-48-2h0m-29 0h0m121-1h0m-93 3h0m50-3h0m-131 2h0m45-2h0m-42 2h0m0-1h0m11-5h0m-1 1h0m161 0h0m-74 1h0m-57 1h0m-28 0h0m-15-2h0m130 2h0m-76-3h0m103 1h0m-154 0h0m171 1h0m-166 0h0m102-1h0m0 2h0m-37-2h0m92 1h0m-129-6h0m-25 2h0m63-2h0m37 0h0m-5 0h0m-9 2h0m-79 0h0m73 1h0m30-3h0m-4 3h0m-33-2h0m37 1h0m19-2h0m-69 1h0m86 0h0m-151 2h0m32-4h0m53-1h0m-79-2h0m146 3h0m-13 0h0m-18-3h0m-60 0h0m97 2h0m-120 0h0m-33 1h0m37-4h0m114 4h0m8-3h0m-155 2h0m124-1h0m-25 0h0m-96 0h0m160-3h0m-175-1h0m70 1h0m100 0h0m1 0h0m-98-1h0m97-2h0m-64 2h0m8 2h0m-4-3h0m-121 3h0m113-2h0m40-1h0m-64 3h0m-65-3h0m137 3h0m-157-3h0m64-3h0m-43 1h0m131 1h0m-6 0h0m5-1h0m-151 1h0m156-1h0m-99-2h0m11 3h0m113-3h0m-84 1h0m-77-2h0m130 1h0m-50 1h0m37 1h0m-39 0h0m-52-2h0m87-2h0m-52-2h0m60 3h0m1-3h0m-36 1h0m55 0h0m-11-1h0m-1 1h0m-35 1h0m-1-1h0m48 1h0m-78-2h0m6 2h0m-72-2h0m104 3h0m11-2h0m-4 1h0m-70-6h0m107 0h0m-163-1h0m180 1h0m-45-1h0m-102 1h0m143 3h0m-154-2h0m76 2h0m83-3h0m-185 0h0m9 1h0m42-1h0m-49 2h0m92-1h0m38-2h0m11 3h0m40-5h0m-43-1h0m-131-1h0m8 2h0m106-1h0m12 0h0m-108 0h0m-19 2h0m144-2h0m-61 1h0m-32-1h0m38 3h0m52-3h0m-87 1h0m59-1h0m-99 1h0m134-1h0m-73-4h0m-60 2h0m127 0h0m-46 0h0m-96 0h0m156-3h0m-94 3h0m-13-1h0m78 1h0m26-2h0m-126 1h0m36-1h0m-48 3h0m27 0h0m134-2h0m-81-1h0m-85 1h0m147-5h0m-144 1h0m105 1h0m-30-1h0m38-1h0m3 2h0m-70 1h0m-39 0h0m101-1h0m-30 1h0m-71-3h0m58 3h0m88-8h0m-82 2h0m-68 2h0m119-2h0m-101-1h0m71 1h0m-55 1h0m-33-2h0m50-1h0m-21 2h0m5 1h0m106-3h0m15-1h0m-162 0h0m82-2h0m33 1h0m-111 1h0m29-1h0m50 1h0m-97-2h0m181-1h0m-187 2h0m155 0h0m-137 2h0m11-5h0m41-1h0m58-2h0m-72 1h0m-53 3h0m177-3h0m-108 2h0m0 1h0m98-4h0m-108 0h0m26 3h0m-14-3h0m53 0h0m18-1h0m3-2h0m24 1h0m-60 0h0m60 1h0m-144-1h0m98 0h0m-99-1h0m49 1h0m53 1h0m-67-2h0m-29-2h0m66 1h0m49-4h0m-35 3h0m-7 1h0m-104-1h0m9 1h0m137-1h0m-89-1h0m-36 0h0m81 1h0m-56 1h0m61-5h0m-88-1h0m161-1h0m-137 0h0m53 0h0m-63 2h0m22 0h0m-54-3h0m179 1h0m-167 1h0m121-1h0m39 2h0m-141-7h0m40 0h0m35 1h0m-35-1h0m65 0h0m-111 2h0m128 0h0m-86-2h0m-23 0h0m-48 1h0m105 2h0m-75-3h0m85-1h0m-115-3h0m93 2h0m95 0h0m-63 1h0m52-1h0m-142-1h0m98 1h0m40 1h0m-149-1h0m68-2h0m-72 2h0m151-4h0m-29 1h0m-118-1h0m154 1h0m-164 1h0m162-4h0m-31 0h0m-71 0h0m99 0h0m-116 1h0m46 2h0m-73-1h0m22-5h0m1 1h0m31 0h0m-38 1h0m79 0h0m-80 0h0m131-1h0m1 0h0m-155-1h0m76 0h0m-65 2h0m121 0h0m-29-4h0m-93 0h0m142 0h0m-150-2h0m-16 2h0m84-3h0m-71 2h0m37 0h0m65 2h0m44-2h0m-149-2h0m8 2h0m-19-5h0m176 1h0m-9-1h0m-141 1h0m112 1h0m31 1h0m-16-4h0m-123 3h0m87-3h0m21 3h0m28 1h0m10-3h0m-49-2h0m31-3h0m-12 3h0m-80-2h0m27 0h0m34 2h0m-101-2h0m57 0h0m-7 0h0m-61-1h0m82 1h0m78-1h0m-121-4h0m31 4h0m-60-4h0m-8 0h0m65 1h0m-86 2h0m145-3h0m7 2h0m21 1h0m-164 0h0m164-1h0m-163 0h0m122-2h0m39-2h0m-13-2h0m-6 2h0m-133-1h0m3 2h0m123 0h0m-113-2h0m27 1h0m3-1h0m-1 2h0m82-7h0m42 1h0m-6 2h0m-137-2h0m64 2h0m74-3h0m-117 2h0m-4 0h0m107-2h0m-81 0h0m-79 2h0m5 1h0m115-5h0m29-1h0m-134 1h0m-13 0h0m106 0h0m-31-2h0m-56 3h0m129-1h0m-146 0h0m176 0h0m-165-1h0m163-1h0m-151-2h0m72 1h0m69-2h0m-174 0h0m3 1h0m146 0h0m-62-2h0m84 3h0m-115-2h0m60 2h0m-1-3h0m-95 2h0m-22-5h0m103 0h0m44 1h0m-60 0h0m65 1h0m-57 0h0m-55 0h0m136-1h0m-136 1h0m48-2h0m-69-1h0m45 3h0m0-7h0m80 2h0m-8-1h0m-75-1h0m115 1h0m-39 2h0m-126-2h0m153-1h0m9 1h0m-37-3h0m25 0h0m-64 1h0m84-2h0m-13 1h0m-73 1h0m1-2h0m79-1h0m-61 0h0m21-2h0m10-1h0m-131 2h0m88 0h0m7-1h0m18-2h0m19 2h0m-54-2h0m-32 3h0m-52-7h0m61 0h0m105 0h0m-5 1h0m-15 2h0m-10 0h0m-8 0h0m-106 0h0m77-3h0m-37-2h0m77-1h0m24 2h0m-83-2h0m-18 1h0m42-2h0m29 2h0m9-1h0m-150-1h0m167-3h0m-8-2h0m-135 1h0m149-1h0m-160 0h0m48 2h0m112-2h0m-75 2h0m-85 2h0m158-5h0m-161-1h0m51 0h0m126 1h0m-160-2h0m97 3h0m42 0h0m-67-1h0m76-4h0m-99 0h0m53 0h0m-84-2h0m50 1h0m13 2h0m-9-3h0m-78 1h0m57-5h0m-75 3h0m80-3h0m-74 3h0m12-3h0m133 3h0m-89-3h0m79-3h0m43 1h0m-159 0h0m84 0h0m-24 0h0m74 0h0m15 0h0m-1 0h0m6-6h0m-21 0h0m-50-1h0m-100 2h0m143 1h0m-38-1h0m-95 0h0m112-4h0m-61 0h0m97 1h0m-92 0h0m8-1h0m90 0h0m-25 0h0m-61-4h0m84 1h0m-116-1h0m7-1h0m70 3h0m11-1h0m-3-5h0m-35-2h0m48 0h0m-95 1h0m45-1h0m-34-4h0m16 2h0m-65 2h0m-23-1h0m63-2h0m75-4h0m-16 1h0m52-1h0m-45 2h0m-5-1h0m-72-5h0m6 1h0m63-1h0m-21-1h0m-15-1h0m96 1h0m-148 0h0m23-3h0m67 0h0m-54-4h0m55 1h0m1-2h0m-2 1h0m58-3h0m-168-1h0m86 3h0m21 0h0m-64-7h0m66 2h0m-110 1h0m99-2h0m-101-3h0m3 0h0m76-3h0m35 1h0m-92-5h0m58 1h0m-3 2h0m19-2h0m-34-3h0m18 0h0m19 1h0m-28 0h0m-65-4h0m123-3h0m-87 1h0m35 2h0m3-4h0m24 0h0m-31-3h0m-67 0h0m168-4h0m-14 2h0m9 0h0m-57-1h0m54-3h0m1-1h0m-165 0h0m25-1h0m-24-2h0m132 1h0m-34-3h0m-7 3h0m-52-6h0m11 2h0m46-1h0m43-2h0m29-4h0m-91 2h0m83 1h0m-84-2h0m-2-2h0m-74-3h0m39 2h0m0-1h0m120-3h0m-37 0h0m-33 1h0m52-1h0m-29-5h0m-79 3h0m127-2h0m-5 0h0m-42-4h0m-74-2h0m17 2h0m78 0h0m-79-4h0m103-1h0m-86-1h0m5 3h0m-26-5h0m105-2h0m-80 3h0m-43-1h0m68-4h0m-87-2h0m61-1h0m-2 1h0m85-1h0m-168-2h0m11-2h0m165 4h0m-129-5h0m42 1h0m-53 0h0m17-6h0m-1 0h0m65 1h0m-80 0h0m69-4h0m-23-3h0m86 2h0m-85-6h0m40 4h0m-44 0h0m79-3h0m-122-4h0m134 1h0m-130-5h0m44 1h0m-44-2h0m11-2h0m1 1h0m110-3h0m-3-3h0m-77 2h0m87-1h0m-30-5h0m-131 3h0m110-1h0m-36-5h0m22-1h0m40-4h0m25 1h0m-1-2h0m9-4h0m-8-4h0m-25 4h0m-107-7h0m68 2h0m3-6h0m-25 3h0m-34-6h0m-1 0h0m38-3h0m3-1h0m18-3h0m-59-2h0m53-4h0m67 0h0m-51-4h0m51 0h0m-84-2h0m85-2h0m-142-2h0m23-2h0m55-4h0m-88 3h0m133-8h0m-113 2h0m47-5h0m-44 2h0m23-4h0m-30-2h0m-18-5h0m152 3h0m-49-6h0m6-1h0m-89-4h0m130 1h0m-111-2h0m66-6h0m-35-4h0m21 1h0m-53-6h0m-5-3h0m1-2h0m21-2h0m107 2h0m-168-7h0m127-3h0m-56-5h0m23-2h0m-19-18h0m84-4h0m-20-4h0m-138-9h0m29-4h0m46-6h0m-37-6h0m106-4h0m-33-2h0m-74-4h0m132-7h0m-130-4h0m117-11h0m-9-4h0m313 599h0m52 0h0m41-2h0m-92 1h0m-21 0h0m65 1h0m-30-3h0m76 3h0m-62 0h0m36-3h0m6 3h0m17-2h0m-59 0h0m76 0h0m-50-1h0m8-1h0m-97 0h0m115-3h0m18 2h0m-36 2h0m-35-3h0m53 2h0m-65-2h0m2 1h0m64-1h0m-112 1h0m92 0h0m9-2h0m20 0h0m-35 1h0m-66-5h0m14 1h0m12 1h0m36-1h0m-32 2h0m-30-2h0m-21-1h0m106 2h0m-28 2h0m-30-2h0m35 1h0m-89 0h0m52 0h0m-48 0h0m99 0h0m-91-6h0m42-1h0m81 2h0m-35 0h0m-16 0h0m-32 0h0m88 0h0m-151 1h0m109-1h0m-47-1h0m54 1h0m24 0h0m-125 0h0m79-2h0m46 0h0m-40-2h0m-9 0h0m11 0h0m-13-2h0m5 1h0m42 2h0m-92-1h0m86 1h0m-61 0h0m16 0h0m-3 1h0m-58-3h0m2-1h0m102-4h0m16 4h0m-115-1h0m124-3h0m-2 2h0m-70 0h0m-88 0h0m88-1h0m-83 2h0m38-1h0m50 1h0m-80 1h0m71-3h0m-35-1h0m-12 2h0m72-6h0m-25 3h0m-6-1h0m10-1h0m-16 3h0m82-2h0m-16 0h0m-118 2h0m75-1h0m-52-2h0m-19 0h0m112 0h0m-81 1h0m-33 0h0m82-6h0m34 3h0m-59 0h0m-19 0h0m-37-1h0m31-1h0m74 2h0m-56-1h0m36 1h0m20-2h0m-93-1h0m-4 0h0m0 3h0m-4 0h0m38-4h0m8-2h0m72 0h0m-49 1h0m-11-2h0m1 2h0m-43 0h0m82 0h0m11-2h0m-57 3h0m3-3h0m56 3h0m-125-2h0m51 1h0m-1-6h0m27 3h0m-86-2h0m141 2h0m-68-1h0m68 0h0m-78 0h0m90-1h0m-109 1h0m92-2h0m4 3h0m2-1h0m-139 1h0m144-2h0m-12-3h0m-53 1h0m62 1h0m-48-2h0m-95-1h0m117 2h0m-43 1h0m40 0h0m-40-4h0m-1 3h0m66-1h0m-125 0h0m-5 1h0m-11-3h0m66-1h0m69 0h0m-93-1h0m-27 0h0m114 0h0m5 0h0m-102 0h0m110 0h0m-140 0h0m64 1h0m-2-3h0m91 0h0m-45 3h0m36-3h0m-15-1h0m-3-3h0m27 0h0m-45 1h0m-46 1h0m79 1h0m-98-2h0m24 0h0m49 0h0m-50 0h0m5 1h0m81-1h0m-103 2h0m52-2h0m28-3h0m-89-1h0m-18 3h0m118-2h0m-60-2h0m-14 0h0m0 0h0m49 2h0m-88 0h0m65-2h0m-16 1h0m73 1h0m-43 1h0m29 0h0m-107-1h0m15-2h0m-4-1h0m-10-2h0m85 0h0m-84 0h0m38-1h0m71 0h0m-31 3h0m-69-3h0m78 2h0m-80-1h0m30 1h0m-47-1h0m37 1h0m-40 0h0m92-4h0m-82-2h0m-1 1h0m1 1h0m60-1h0m36 1h0m-96 0h0m120-2h0m-112 1h0m14-1h0m-2 1h0m19-1h0m13 3h0m-14-2h0m-27-5h0m36 1h0m40-1h0m6 1h0m-53 0h0m83 2h0m-80-1h0m-4 0h0m-20 0h0m21-1h0m-44 0h0m37-1h0m52 3h0m-49-1h0m2-4h0m22-2h0m8 2h0m46-2h0m9 3h0m-74 0h0m-12-3h0m65 3h0m24 0h0m-5-3h0m-134 0h0m25 2h0m35 0h0m-27 1h0m-19-2h0m121-4h0m-57-1h0m22 0h0m-102 1h0m107 2h0m-91 0h0m113 0h0m-128-2h0m28 0h0m9 0h0m99 1h0m-137 0h0m53-2h0m-24 1h0m22-5h0m57 0h0m10 0h0m-49 1h0m71 0h0m-40 2h0m-5-3h0m32 2h0m-73 1h0m46-3h0m16-1h0m-45 2h0m48 0h0m-52 2h0m-17-1h0m15-3h0m61-3h0m-78 1h0m6 1h0m-51-3h0m81 4h0m-8 0h0m61-2h0m-117-1h0m49 1h0m-43 0h0m43-1h0m69 2h0m3 0h0m-45-3h0m13-3h0m-68 2h0m-33-1h0m90-1h0m-71 1h0m109 0h0m-29 0h0m35 0h0m-128 0h0m-28 2h0m110-2h0m39 0h0m-114 0h0m94-2h0m-3-3h0m-97 2h0m34-3h0m5 1h0m28 3h0m-89-1h0m73-1h0m-41 1h0m27 0h0m-2 0h0m-2-1h0m7 1h0m-67-1h0m140-1h0m-115-2h0m32 1h0m26-3h0m8 1h0m-62 2h0m86 0h0m14-2h0m14 1h0m-22-1h0m21 1h0m-62-3h0m64 0h0m11 3h0m-147-1h0m32-4h0m115 2h0m-135-3h0m-7 3h0m62-1h0m36-3h0m2 4h0m30-2h0m-102 1h0m40 0h0m-11-2h0m16 3h0m48-3h0m-21 1h0m5-6h0m-123 2h0m11-1h0m43 3h0m70 0h0m-44-2h0m-16 1h0m86 0h0m-59 0h0m47-2h0m-2-1h0m-18 2h0m27-1h0m-114 0h0m-4-4h0m74 2h0m28-2h0m-4 3h0m26-2h0m-33 2h0m-114-3h0m-4 0h0m7 1h0m25-1h0m11 1h0m97-2h0m-68 3h0m39-1h0m31-4h0m-117 0h0m46 1h0m63-2h0m-81 2h0m27 0h0m-32 0h0m-14-1h0m36 0h0m-26-1h0m27 0h0m-2 3h0m-62-1h0m83 0h0m-86-6h0m69 0h0m72 3h0m-17 0h0m-36-3h0m-48-1h0m25 3h0m-65 0h0m129-2h0m-62 2h0m-29 1h0m29-3h0m52 1h0m30-1h0m-73-4h0m-46 1h0m-9-2h0m107 2h0m-15-1h0m-47 2h0m31-2h0m-95 2h0m134 0h0m-76 0h0m-31-2h0m125 0h0m-26 1h0m-6 0h0m25-2h0m-81-1h0m90 1h0m-45-4h0m30 4h0m-72-4h0m58 2h0m-115 0h0m131 1h0m-112-3h0m102 2h0m-66-5h0m-2 2h0m-18 0h0m4 1h0m91-1h0m-29-2h0m-44 2h0m35-1h0m-88-1h0m-9 3h0m114-5h0m-51 0h0m-58-3h0m-9 2h0m54 2h0m-50-3h0m12 1h0m10 2h0m113-3h0m1-1h0m-102-2h0m5-1h0m94 0h0m9 2h0m-59 0h0m51-2h0m-115 2h0m-20-1h0m128 0h0m-105-2h0m19-2h0m-27-1h0m5 0h0m36 0h0m70 2h0m-43-3h0m-89 2h0m58 2h0m-28-1h0m2-2h0m26-5h0m-59 2h0m73 1h0m51 0h0m4 1h0m15-1h0m-9 0h0m-56-2h0m-24 2h0m-23 1h0m-29-8h0m80 2h0m-38-1h0m55 1h0m-69 2h0m40-3h0m9 2h0m76-1h0m-134-2h0m19 1h0m117-4h0m-8-1h0m-63 2h0m30 0h0m26-1h0m-30 0h0m-35 0h0m19 2h0m-27 0h0m61-2h0m-51-4h0m35 0h0m-46 1h0m-37 2h0m115-4h0m8 2h0m-75-1h0m-53 3h0m123-4h0m-140 1h0m57-1h0m14-1h0m25-2h0m38-1h0m-75 1h0m80 2h0m-77-1h0m-5-1h0m-35-1h0m89 2h0m-54-6h0m11 2h0m20 0h0m21-1h0m16 2h0m-94-1h0m27-2h0m-35 0h0m120 0h0m4 0h0m-142-1h0m128-1h0m-68-2h0m-33 2h0m-13 0h0m-13-1h0m-8 1h0m129 1h0m-50 1h0m-36-4h0m64-4h0m-20 2h0m44 0h0m5 1h0m-112-2h0m-13 1h0m33 1h0m80-1h0m-92-1h0m104 1h0m-90 0h0m102-2h0m-63-4h0m-73 0h0m134 2h0m-65-1h0m-26 2h0m83-2h0m-11 1h0m-33-2h0m-70 0h0m61 1h0m-9-2h0m-5-1h0m2-2h0m35 1h0m-2-1h0m-48 0h0m19 2h0m-46-2h0m107 2h0m-3-5h0m-85-1h0m24 3h0m-36-1h0m69-1h0m-71 0h0m56 2h0m55-2h0m-75 1h0m-50-2h0m42-3h0m34 0h0m-55-1h0m93 1h0m-2 0h0m-8 2h0m22-1h0m-47-1h0m5-3h0m-33 1h0m-17-2h0m-44-1h0m49 3h0m45-3h0m-29 1h0m-1-1h0m40-3h0m-12 2h0m-1-3h0m-59 1h0m70 2h0m11-2h0m20 2h0m-152-3h0m143-1h0m-23-1h0m36-1h0m-22-1h0m-89 2h0m31 1h0m74-2h0m-115 0h0m102-4h0m-59 0h0m56 0h0m-118 2h0m138 0h0m-121-6h0m49-1h0m72 3h0m-61-3h0m-27 3h0m-53-5h0m34-1h0m-49 0h0m71 0h0m-31-5h0m64 0h0m11 1h0m-15 1h0m-57 1h0m-33-7h0m35 3h0m1-3h0m106 1h0m-113-3h0m-25-1h0m110 0h0m-24 2h0m-55-4h0m-42 0h0m1-1h0m63-3h0m32 0h0m54-2h0m-112-3h0m5-1h0m16-1h0m-47-4h0m78 3h0m-51 0h0m2-3h0m-36-5h0m77 1h0m-70-1h0m27 1h0m98-4h0m-58 3h0m-69-1h0m52-4h0m78-2h0m-127 2h0m91 0h0m51-6h0m-143 0h0m0 1h0m17 2h0m107-7h0m-81 2h0m93-2h0m-111-5h0m-9 2h0m100-1h0m-90 1h0m-25-6h0m23 3h0m53 0h0m-51-3h0m50-3h0m-70 3h0m-12-2h0m105-5h0m28 1h0m-5 0h0m-94-4h0m53-1h0m55-1h0m-59-1h0m2-1h0m-69 0h0m21-5h0m-29 0h0m-7-1h0m34 4h0m92-6h0m-95-1h0m76 2h0m-70 0h0m-6-5h0m-14 1h0m70-3h0m-23-2h0m-36 0h0m95 2h0m-47-6h0m-40-2h0m62 1h0m-107-1h0m40-1h0m-26-2h0m86-1h0m-57-2h0m52 1h0m-53-2h0m6-1h0m24-2h0m-42-2h0m46 3h0m36-5h0m26-1h0m0 1h0m-100-4h0m1 1h0m-24-1h0m109-3h0m-78 0h0m69-1h0m-94-1h0m53-4h0m-59 0h0m23 0h0m13-4h0m39 1h0m-69 0h0m19-1h0m96-5h0m-22 1h0m-74 1h0m1-2h0m3-3h0m41-1h0m-72 1h0m9-4h0m17 1h0m21 0h0m81-2h0m-70-4h0m70 2h0m-58-1h0m-41-3h0m41-1h0m34-1h0m-14-4h0m-20 2h0m-65-1h0m60-3h0m12-3h0m10 4h0m-84-6h0m120 1h0m-121-5h0m25 1h0m55 0h0m23-6h0m-97 1h0m23-5h0m-6 1h0m56-5h0m-93 2h0m134-5h0m-91 0h0m-8-3h0m99-4h0m-129-1h0m44-5h0m-7-4h0m-3 1h0m-1-3h0m-8-2h0m12-4h0m-31-4h0m31 2h0m66-4h0m-69-6h0m118 2h0m-32-5h0m-64-4h0m-23-1h0m8-4h0m24-1h0m-7-2h0m24-5h0m50-1h0m-82-2h0m-44-2h0m3-2h0m35-1h0m31-4h0m11-2h0m38-4h0m-46-5h0m-42-3h0m91-6h0m-132 0h0m43-4h0m-28 2h0m80-5h0m-22-3h0m-39-1h0m-18-2h0m25-2h0m1-6h0m65 2h0m-17-3h0m25-8h0m-74-2h0m-2 1h0m-16-5h0m92 1h0m-102-7h0m23 1h0m6-5h0m-24 4h0m93-5h0m7-2h0m-79-2h0m-26-3h0m103-3h0m-117-4h0m137-1h0m-91-3h0m23-1h0m89-7h0m-29-3h0m9-4h0m-97-5h0m-24-2h0m53-10h0m-30-2h0m5-17h0m-34-7h0m453 600h0m16-1h0m-3-1h0m-52 0h0m-46 2h0m23-2h0m28 2h0m-36-1h0m-10 1h0m79 0h0m-6-2h0m5 2h0m31-1h0m-55-2h0m-27-1h0m-13-2h0m77 0h0m-42 1h0m-13-2h0m40 4h0m-8 0h0m-73-1h0m19 0h0m12 0h0m69 1h0m30-3h0m-22-5h0m-20 2h0m-32 1h0m-31-2h0m79 0h0m-19-1h0m-87 3h0m14 1h0m24-3h0m-24 2h0m77 0h0m39 0h0m-138 0h0m77-5h0m-67 2h0m90-2h0m-15-2h0m40 3h0m-127 1h0m19-3h0m-14-1h0m84 2h0m-47-2h0m97 2h0m-117 2h0m34-3h0m1-5h0m31 3h0m36 0h0m-109 0h0m52-2h0m41 2h0m-43-2h0m-44 2h0m-7-1h0m-14 1h0m107 0h0m-77-3h0m58 2h0m-74 0h0m15-5h0m-8 0h0m85 0h0m31 2h0m-2 0h0m-19-3h0m-33 1h0m-71 2h0m133 0h0m-126-1h0m19 0h0m34-2h0m26 2h0m-63-5h0m-30 3h0m108-1h0m-77-2h0m21-1h0m71 2h0m1 1h0m-1-2h0m-46 1h0m6 0h0m-74 0h0m89-2h0m-37 3h0m-30-7h0m-24 2h0m22-2h0m79 1h0m-2 1h0m-73-1h0m96 0h0m0 2h0m-54 0h0m-76 0h0m115-2h0m-56 2h0m52-3h0m-100-4h0m85 0h0m-28 2h0m-31 0h0m34 1h0m-47-3h0m78 0h0m-82 2h0m68-1h0m4 1h0m-38 1h0m42-2h0m25 1h0m-124-5h0m107-1h0m35 2h0m-76-1h0m-52 0h0m126-1h0m-140 0h0m75 3h0m-1-3h0m17 1h0m-44-1h0m9 0h0m63 3h0m-74 0h0m69-4h0m-3 0h0m2-1h0m-69 0h0m-41-2h0m122 1h0m-90 2h0m38 0h0m27 0h0m-80 1h0m18 0h0m-12-2h0m112-2h0m-90-1h0m-9 0h0m-9 0h0m102 1h0m3-2h0m2-1h0m-73 0h0m-63 2h0m18 0h0m49 0h0m47-1h0m23-1h0m-67-1h0m16-4h0m48 3h0m-36 0h0m10-3h0m6 1h0m-5-1h0m-106 2h0m2 0h0m81 0h0m-14 0h0m5 0h0m-57 0h0m118 0h0m-7 1h0m-59-7h0m-29 1h0m21 3h0m61-2h0m-84-2h0m48 2h0m-59-1h0m73 0h0m5 2h0m-73-1h0m59 0h0m-4 0h0m39-1h0m-12-3h0m-85-2h0m30 2h0m-53 1h0m73 0h0m-49-3h0m37 3h0m65-2h0m-74 0h0m-48-1h0m83 2h0m9 1h0m23-3h0m-81-4h0m-18 2h0m115 2h0m-12-4h0m-23 2h0m12-2h0m-79 2h0m88-2h0m-34 1h0m2 1h0m-71-1h0m-8 2h0m45-2h0m31-3h0m-10-1h0m22-1h0m-15 2h0m45-2h0m-119 3h0m106-3h0m7 0h0m-19 1h0m-94 1h0m108-2h0m-3 0h0m-95 0h0m5-2h0m22 1h0m-43-3h0m19 2h0m93 0h0m-39-1h0m4 2h0m-90-3h0m107 2h0m-66-1h0m50 0h0m-49-1h0m47 0h0m43-3h0m-114 0h0m81-1h0m-9 1h0m45 1h0m-115-2h0m69 2h0m47 0h0m-10 1h0m-117-3h0m76 3h0m21-1h0m20-1h0m-111-3h0m96-2h0m-96 0h0m47 2h0m77-1h0m-73-1h0m8 0h0m18 3h0m7-2h0m-36 0h0m63 2h0m-23-4h0m-92 3h0m-12-3h0m142-2h0m-77 2h0m-51-2h0m7 0h0m66 1h0m46 0h0m-111-1h0m25 2h0m-46 0h0m-1-1h0m146-1h0m-142-1h0m80-1h0m-62-2h0m118-2h0m-49 1h0m-77 3h0m25-3h0m61 3h0m-48-3h0m46 0h0m-35 0h0m-13 1h0m74-2h0m-33 2h0m-45-3h0m41-2h0m-26 2h0m53-1h0m-111 0h0m29-1h0m-4 1h0m55 0h0m-49-1h0m55 2h0m-62 0h0m72 1h0m-85-2h0m88-3h0m19 0h0m-41 0h0m2 0h0m-69 1h0m55-2h0m-14 1h0m42-1h0m-82 2h0m23-2h0m90-1h0m-5 1h0m-104 1h0m109-6h0m-107 1h0m39 0h0m-2 0h0m-9 2h0m-22-1h0m115-2h0m-50 0h0m-84-1h0m46 1h0m83-1h0m-103 4h0m54-4h0m-22-4h0m49 0h0m-65 3h0m63 0h0m30 0h0m-134 0h0m117 0h0m-117 1h0m38-1h0m-42 0h0m9 0h0m-4-2h0m91 3h0m-14-7h0m28 2h0m-21 0h0m37-2h0m-126-1h0m81 2h0m2 1h0m1 1h0m-77-4h0m117 0h0m-30 1h0m-91 0h0m49 3h0m-35-7h0m5 2h0m22 1h0m8-2h0m-43 1h0m7-2h0m71 1h0m-5 0h0m2 0h0m-41 2h0m47-2h0m-4-1h0m-48 0h0m49 2h0m-79-6h0m8-1h0m119 2h0m-40 0h0m15 1h0m30 0h0m1 1h0m-65-3h0m61 3h0m-126-3h0m108 1h0m-59 0h0m-17 0h0m68-4h0m-96-1h0m47 3h0m-59-2h0m114 0h0m-73 0h0m81-1h0m-35 1h0m35 2h0m-87-2h0m19 0h0m54-1h0m-50 2h0m-53-6h0m76 1h0m-18-1h0m-39 3h0m47-3h0m-71 2h0m36-2h0m-11 1h0m14-1h0m66-3h0m-19 1h0m18-2h0m-103 2h0m-4 1h0m108 0h0m-14-3h0m4 1h0m-93 0h0m120-2h0m-83-4h0m-15 2h0m84 2h0m-67-4h0m-25 0h0m10 4h0m106 0h0m-39-1h0m-96-4h0m112 0h0m-91-2h0m64 0h0m30-1h0m-47 4h0m-48-1h0m94-1h0m-52 0h0m-57-3h0m4 0h0m77-3h0m-77 1h0m74 0h0m10 2h0m-65-3h0m80 3h0m-85-2h0m47-4h0m-42 1h0m-25 1h0m-4 1h0m123-1h0m8 0h0m-12-2h0m-61 1h0m81-1h0m-50 2h0m-5-5h0m2 1h0m-24 1h0m47-4h0m-107 3h0m121 0h0m2-2h0m-116 2h0m124 0h0m-123-7h0m113 3h0m-118-2h0m135 1h0m-118 0h0m19 2h0m52-3h0m4 0h0m23 0h0m-72-2h0m38-2h0m11 2h0m-63 0h0m25 0h0m64-3h0m-37 0h0m4 4h0m-6 0h0m23-5h0m4-2h0m-53 1h0m-59 0h0m6 1h0m6-1h0m-9 1h0m73 0h0m-22-3h0m43 3h0m23-3h0m-37-1h0m-80 0h0m109-1h0m13 1h0m-63-1h0m16 1h0m-21-1h0m68-2h0m-92 2h0m80-5h0m-3 2h0m2-3h0m2 2h0m-19-1h0m27 2h0m16-2h0m-41 1h0m-18-2h0m32 2h0m-68-3h0m37-3h0m-69 1h0m127-1h0m-99 1h0m38 1h0m-34 1h0m-24-2h0m-8 0h0m69 0h0m27-4h0m-1 0h0m-83 3h0m50-4h0m52 3h0m-84-2h0m48 0h0m-88 2h0m110-2h0m-18-4h0m4 2h0m-93-3h0m3 2h0m138 2h0m-54-2h0m-1-1h0m8 2h0m2 0h0m-69-4h0m3 0h0m97-3h0m0 2h0m8 2h0m-130-3h0m-8 0h0m12-1h0m43 1h0m12-3h0m11-2h0m62 3h0m-85-1h0m41-1h0m-65 2h0m58-1h0m-56 1h0m49-5h0m9 1h0m-37-3h0m-48 2h0m21 1h0m104-2h0m-32-1h0m-82 1h0m91-3h0m-11 1h0m11-3h0m13 1h0m-80 0h0m-24 0h0m115 1h0m-85-3h0m52-1h0m-14 1h0m48-3h0m-115 2h0m90-2h0m-22 2h0m-70-3h0m2-3h0m37 0h0m-20 0h0m-22 0h0m63-4h0m-58 1h0m-6-1h0m104 0h0m-76 2h0m48-5h0m-31 0h0m-33 2h0m-27 0h0m12-5h0m90-1h0m-37 1h0m10 0h0m-60-6h0m96 2h0m-95 1h0m36-2h0m51-6h0m5 3h0m-85 1h0m90-2h0m-3-3h0m0 1h0m-45-2h0m20 0h0m-52-2h0m48-3h0m27 1h0m0-3h0m0-2h0m-5 1h0m33-6h0m-63 4h0m-1-1h0m42-5h0m-10-1h0m-88 0h0m26 2h0m-19-3h0m87-3h0m-75 2h0m68-3h0m-1-1h0m-7 1h0m40-4h0m-22-3h0m-3 3h0m-94-4h0m85-2h0m18-1h0m-12 2h0m-93-1h0m95-4h0m12 0h0m-19 0h0m-99 1h0m63-4h0m-42-1h0m84 2h0m-77-4h0m-11-2h0m84 1h0m-89-3h0m87-2h0m7 1h0m-94-1h0m113 2h0m-120-7h0m-7-1h0m18 0h0m13-3h0m44 0h0m43 2h0m-6 0h0m-98-4h0m-1 0h0m89 1h0m7 0h0m2-6h0m-45 1h0m43-1h0m14-4h0m-40-1h0m37 2h0m-15-7h0m2 3h0m-3-2h0m-79 0h0m84-5h0m-97 3h0m97-1h0m-42-1h0m77-2h0m-121-2h0m-9 2h0m17-1h0m22-6h0m-32 2h0m82-1h0m-51-2h0m-1-3h0m56 2h0m-22-2h0m-75-4h0m97 0h0m-58 1h0m57 1h0m-21-3h0m-34 0h0m70-2h0m-6-3h0m-81 1h0m74-2h0m-7 2h0m18-5h0m-16 1h0m-3 0h0m-14-6h0m16-1h0m5 0h0m28 2h0m-32-3h0m-1 0h0m3-3h0m-93-3h0m95 1h0m-83-1h0m119 0h0m-111-5h0m15 2h0m57 0h0m-89 1h0m86-6h0m34 1h0m-106-2h0m58-3h0m-74-2h0m38 1h0m34-1h0m2-1h0m14-1h0m19 0h0m-106-2h0m82-2h0m0 2h0m-82-7h0m81 2h0m8 1h0m-3-6h0m9 0h0m-7-1h0m-78-4h0m64 0h0m13 0h0m6 0h0m-14-4h0m39 1h0m-26 1h0m5 0h0m-4-6h0m-6 0h0m7 2h0m-20-4h0m-15 1h0m28 0h0m20-5h0m-39 0h0m11-2h0m20-2h0m-13-2h0m-78 2h0m62-6h0m-3 2h0m29-4h0m3 0h0m-27-5h0m-1-1h0m-17-1h0m6-1h0m28-5h0m-49-2h0m-52-2h0m124 2h0m-104-8h0m89 3h0m-7-4h0m7-1h0m2-4h0m-77-3h0m-21-1h0m52-3h0m-42-6h0m-11-1h0m0-1h0m-10-3h0m22-1h0m80-2h0m-79-4h0m-12-2h0m65 0h0m-64-5h0m-2-6h0m95 1h0m-77-5h0m52-4h0m11-2h0m4-4h0m-42 1h0m48-7h0m32-2h0m-31-3h0m14-3h0m-21-4h0m-84-2h0m97-5h0m-9-3h0m-2-5h0m4-4h0m-3-5h0m-86-4h0m37-4h0m58-1h0m-42-6h0m42-2h0m-107-8h0m81-2h0m22-4h0m-3-4h0m-89-6h0m91-3h0m16-2h0m-14-4h0m1-6h0m-22-5h0m-4-12h0m23-2h0m315 600h0m-71-1h0m94 1h0m-73-1h0m24 2h0m12-1h0m76 1h0m-6-3h0m-100 3h0m44-1h0m-11 0h0m-32-2h0m-5 4h0m63-5h0m-33 1h0m73-4h0m-37 2h0m-68 0h0m-12 1h0m-8-3h0m68 2h0m18 2h0m-44-1h0m91 1h0m-22-1h0m-6-1h0m-38-2h0m-57-1h0m14-1h0m6 1h0m11-1h0m96-1h0m-46 2h0m28-2h0m-48 1h0m-49-1h0m5-1h0m21 1h0m59 1h0m20 1h0m-68-5h0m51-1h0m-46-1h0m-42 2h0m61-2h0m6 4h0m-85-1h0m128 0h0m-40 0h0m-93-2h0m114 0h0m-54 2h0m-36-2h0m37-3h0m78-2h0m-97 0h0m-10 3h0m15 0h0m-32-3h0m41 2h0m-30 1h0m7-1h0m-6 0h0m-22 2h0m129-1h0m-9-2h0m-20-3h0m0 1h0m-6-3h0m-19 1h0m23 3h0m7-2h0m24 0h0m-47-2h0m53 2h0m-107 0h0m98-2h0m-130 3h0m39 0h0m1-4h0m52-2h0m41 2h0m-2 0h0m-24-3h0m20 1h0m-31 2h0m17-3h0m25 0h0m-32 2h0m-23 0h0m-56-1h0m41 0h0m5-5h0m56 0h0m-125 2h0m116-1h0m20 1h0m-103-2h0m57 0h0m-25 0h0m2 2h0m64-1h0m-23 0h0m-7 3h0m12-4h0m16 2h0m-110-5h0m37 0h0m-1 0h0m-39 3h0m111-3h0m-107-1h0m13 1h0m57 2h0m-89-2h0m98 1h0m25 1h0m-7-3h0m15 2h0m0-4h0m-29-1h0m19 0h0m-54 0h0m6 2h0m63-1h0m-41 0h0m-36 0h0m-46-1h0m-12 3h0m134-4h0m-81 1h0m19 0h0m-24-2h0m-9-2h0m12 0h0m4 0h0m-35 1h0m108-1h0m-68-1h0m-6 0h0m-61 3h0m123-2h0m-114 2h0m5-2h0m29 0h0m56 2h0m-73-4h0m99-3h0m-20 0h0m-16 3h0m-83 0h0m99-1h0m-3 1h0m6-1h0m5-2h0m-67 1h0m36 1h0m43-2h0m-88 1h0m29-2h0m-4-3h0m-35 2h0m-14 0h0m107 1h0m-16 0h0m-75-2h0m102 0h0m10 2h0m-62 0h0m25-3h0m22 0h0m-57 2h0m58 0h0m-47-6h0m-64 3h0m91-1h0m19 0h0m-62 1h0m-41-1h0m105 1h0m-83-2h0m-3 1h0m5 0h0m58-1h0m-42 1h0m-39-1h0m36-3h0m-46-2h0m86 3h0m-19-2h0m-12 1h0m-44 0h0m58-1h0m-22 1h0m64 1h0m-64-2h0m-56 2h0m80-1h0m16 2h0m7-5h0m-45-2h0m-47-1h0m55 2h0m62 1h0m-132-1h0m5-1h0m13 2h0m20-2h0m9 1h0m8-2h0m84 2h0m-93-1h0m10-4h0m-1 2h0m63-1h0m-55 0h0m-49-2h0m80 0h0m-79 3h0m83-3h0m-39 0h0m-51 3h0m121-2h0m-25 2h0m-35-1h0m72-5h0m-107 2h0m87-3h0m-97 3h0m0-1h0m62 0h0m14 0h0m19 0h0m-97-1h0m4 1h0m94-2h0m-85 3h0m27 0h0m-2-5h0m9 1h0m63-1h0m6 1h0m-56-2h0m23 2h0m-42-3h0m-3 0h0m-6 2h0m4 1h0m-51-1h0m7-1h0m49 2h0m71-3h0m-2-2h0m-89-2h0m52 0h0m-25 2h0m47-2h0m1 0h0m-117 0h0m39 1h0m39 0h0m-32-1h0m55 3h0m-77-4h0m-20 3h0m18-5h0m117 0h0m-7 2h0m-13-3h0m-119 3h0m129-1h0m-39-2h0m-36 0h0m48 0h0m14 0h0m-58 3h0m14-1h0m-31 0h0m-18-4h0m0-2h0m-18 2h0m123-2h0m-118 2h0m41-2h0m-44 2h0m95 1h0m2-3h0m-45 0h0m72 1h0m-28 0h0m-33-1h0m64 0h0m6-2h0m-138-2h0m-5 0h0m121 2h0m19-1h0m-77 0h0m-12 1h0m-22 1h0m54-3h0m-19 2h0m72-1h0m-74-1h0m73 2h0m-66-6h0m34 0h0m-32 2h0m-55-1h0m15-1h0m-6 0h0m36 2h0m-5-2h0m-12 2h0m5 1h0m71-3h0m-60 2h0m1-2h0m-50 3h0m124-7h0m-39 0h0m-5 1h0m8 0h0m32-1h0m-82 1h0m22-1h0m50 1h0m0 2h0m-77-2h0m13 1h0m6 0h0m-61-1h0m49 1h0m50-4h0m38 0h0m-81-2h0m51 3h0m1-1h0m-37-1h0m-53 0h0m63-1h0m-75 1h0m39-1h0m87 0h0m-91 1h0m66 0h0m-48-4h0m-9 0h0m-41-1h0m71 1h0m-74 1h0m34 0h0m84 0h0m-91 0h0m-28-2h0m96 0h0m-20 0h0m60 0h0m-43 1h0m-30-5h0m-10 3h0m30 0h0m-74-1h0m-10-3h0m11 2h0m-1 1h0m74-2h0m17 0h0m-34 3h0m10 0h0m-24-3h0m-46 0h0m31-3h0m59 0h0m-50-2h0m28 2h0m-53 2h0m20-2h0m-17-1h0m34 0h0m-24 1h0m-10 1h0m39-1h0m72-1h0m-78 1h0m21-5h0m34 1h0m-55-2h0m39 3h0m-96 0h0m136-3h0m-77 3h0m67 1h0m-102-2h0m1 1h0m-24 1h0m93 0h0m38 0h0m-77-2h0m59-2h0m-60-4h0m-60 2h0m71 0h0m-9-1h0m59 3h0m-70-1h0m66-1h0m-95-1h0m1-3h0m116 1h0m-60-1h0m61 1h0m-81 0h0m11 0h0m-31 0h0m93-3h0m-74 4h0m66-7h0m-22 2h0m-96 1h0m131-1h0m-93-2h0m26 2h0m20 1h0m-39-1h0m53-2h0m24 1h0m-65-3h0m6-2h0m70 0h0m-20 0h0m-113 0h0m59 0h0m-45 1h0m118 1h0m-135-3h0m57-3h0m22 0h0m13 0h0m32 0h0m-46-1h0m33 4h0m-9-4h0m-106 3h0m60-1h0m48-6h0m1 3h0m-8 0h0m39-1h0m1 1h0m-37 0h0m-21-2h0m-10 1h0m-31 1h0m92-1h0m-31-6h0m-32 2h0m34 2h0m21-2h0m-74 0h0m60 0h0m8-1h0m-93 0h0m98 1h0m-106-3h0m89-1h0m-72 0h0m-6 0h0m55 0h0m56-1h0m-37 1h0m-37-1h0m65 1h0m-60-6h0m-53 3h0m61 0h0m59-2h0m-28 2h0m16-3h0m-103 4h0m52-3h0m-42 0h0m85 2h0m-85-6h0m75 0h0m-84 1h0m-9-1h0m60 1h0m-59 1h0m45-2h0m23 1h0m22-2h0m-4 1h0m-94-2h0m49-2h0m-28 0h0m-8 1h0m-1-1h0m112 2h0m-2-1h0m8-1h0m-36-1h0m-91 0h0m123 0h0m-110-2h0m-18-1h0m132 0h0m-7 2h0m4-2h0m3-1h0m-95 0h0m7 0h0m-51 2h0m25-3h0m99-1h0m-99 2h0m109-4h0m8 3h0m-3-3h0m-80 2h0m51 0h0m-53 1h0m15-5h0m-14-2h0m-42 0h0m104 3h0m-10-1h0m-7-1h0m-71-1h0m-25 0h0m78 2h0m-27-4h0m77-2h0m-11 2h0m-41 0h0m-23-2h0m-23 0h0m25 2h0m71 0h0m-120 1h0m57-6h0m51 0h0m-17 0h0m-90 0h0m67 2h0m-28-3h0m-37 4h0m30-3h0m90-5h0m-116 1h0m0 1h0m116-2h0m-32 2h0m-86-1h0m-7 1h0m61 0h0m10-3h0m-55-1h0m34 1h0m-9-1h0m56-1h0m-80 1h0m82-1h0m27 0h0m-99-3h0m-17-1h0m38 2h0m66-2h0m7-1h0m-105 2h0m80-1h0m-84-3h0m39-1h0m-36 2h0m102-1h0m9 1h0m-84-2h0m90 1h0m-18-6h0m-24 2h0m-44-2h0m47 3h0m18 0h0m-114-8h0m116 1h0m-80 3h0m98 0h0m-83-3h0m27-5h0m-59 2h0m69-1h0m-81 1h0m80-1h0m-7-3h0m-70-1h0m17 3h0m42-1h0m-12-1h0m-24-2h0m4 0h0m5 0h0m81 0h0m-52-6h0m19-1h0m-22 0h0m-60 1h0m78-4h0m-41 0h0m74-1h0m-110 0h0m-14-4h0m82 2h0m-84 0h0m23 1h0m22-6h0m-4-2h0m51 3h0m43-7h0m-127 3h0m18-1h0m31-1h0m27-1h0m-42-3h0m94 0h0m-102 0h0m7-4h0m2 2h0m-4-2h0m20-1h0m-46-4h0m46 4h0m67-4h0m-89-3h0m71 3h0m-62 0h0m16-7h0m-58-1h0m128 3h0m-99 1h0m63-5h0m13-2h0m-95 3h0m65-6h0m-46-2h0m69 1h0m-98-4h0m10 0h0m10 2h0m69-3h0m-48-4h0m46 4h0m-75-6h0m61-1h0m-36 1h0m9-3h0m41-1h0m41 0h0m-90 0h0m51-4h0m40 1h0m-107-1h0m-11-4h0m65 0h0m-39-1h0m21-2h0m-57-2h0m1 0h0m74 3h0m-2-8h0m-64 3h0m28-3h0m31-1h0m-28-3h0m49 1h0m-77 1h0m28-3h0m-1-3h0m-19 1h0m15-4h0m53 2h0m-48-2h0m0-4h0m-45-1h0m35 0h0m8 1h0m23-3h0m-12 0h0m-7 1h0m-12-3h0m97-1h0m-86-3h0m71 2h0m-99 0h0m-1-3h0m-1-1h0m66 1h0m-48-3h0m75-4h0m-42 0h0m68 2h0m-23 1h0m-97-7h0m26 3h0m9-1h0m84-2h0m-101-1h0m34-3h0m-25 1h0m-5-4h0m15 0h0m-9 0h0m-15 1h0m66-4h0m-47-2h0m44 0h0m-42-4h0m-33 2h0m41 1h0m77-7h0m-62 2h0m-30 1h0m38-6h0m-76 0h0m89-1h0m33 0h0m-61-2h0m14 0h0m-74-1h0m10-1h0m10-4h0m-22 0h0m42 0h0m-31-3h0m1-1h0m48 2h0m35-6h0m-52 1h0m-23-1h0m12-3h0m55-1h0m-11-2h0m-45-2h0m-25-1h0m31-2h0m37-5h0m59-1h0m-92-3h0m-40 0h0m35-2h0m74 1h0m-71-6h0m-7 2h0m27-8h0m73-2h0m-88 2h0m-5-8h0m1 3h0m14-6h0m36 2h0m-28-7h0m-5-1h0m18-2h0m29-4h0m-86-2h0m57-4h0m-53-3h0m21-2h0m-31-1h0m84-3h0m-34-2h0m-14-3h0m1-1h0m27-1h0m-34-2h0m-18-2h0m24-6h0m14 2h0m-48-7h0m38 3h0m-9-4h0m-11-2h0m9-3h0m0 0h0m3-4h0m-3-6h0m-12-2h0m30-4h0m-21-3h0m28-5h0m-52-7h0m38-2h0m-15-2h0m3-5h0m17-3h0m-24-7h0m32-7h0m-23-3h0m32-7h0m-11-4h0m27-2h0m-64-3h0m40-7h0m9-3h0m-22-2h0m8-6h0m-9-4h0m-38-4h0m74-8h0m-35 394h0m3 112h0m-2-298h0m-2-136h0m4 163h0m5-31h0m0 361h0m-5-52h0m3-429h0m-8 222h0m2 196h0m0-202h0m6 195h0m-5-316h0m-1 231h0m4-383h0m3 527h0m-9-172h0m2-110h0m7-94h0m-3 226h0m-1-6h0m-4-366h0m5 14h0m2 89h0m0 106h0m-2 282h0m3-484h0m-2 339h0m2-202h0m-2 25h0m1-31h0m-2 306h0m-1-451h0m55 7h0m0 55h0m2-102h0m-2 316h0m8-218h0m-8 1h0m-2 12h0m1 109h0m6-110h0m2 1h0m-6 330h0m6-39h0m-8-378h0m4 208h0m2 287h0m0-447h0m302 529h0m-74-1h0m79 1h0m-32 0h0m-15-3h0m-5 2h0m52 1h0m-23-1h0m11 1h0m-44-7h0m31 3h0m5 0h0m16 0h0m-68-1h0m23 2h0m-30-2h0m78 0h0m-34-5h0m19 2h0m13-1h0m-4 0h0m-42 0h0m36-2h0m-19 2h0m29 0h0m-5-3h0m-1-2h0m10-1h0m-35 3h0m-24 0h0m12 0h0m-5 1h0m18-2h0m44 0h0m-23-3h0m-39 0h0m61-2h0m-74 0h0m70 2h0m-70 1h0m74-1h0m-20-2h0m-32-1h0m8 0h0m30-4h0m-24 3h0m28-2h0m6 1h0m-43-1h0m48 0h0m-53 2h0m-2-4h0m23-1h0m-3 0h0m12 1h0m-24-1h0m1 1h0m46 0h0m-77 1h0m4-8h0m15 3h0m-26-3h0m39 4h0m-4-1h0m-17-3h0m4 0h0m58 2h0m-5-6h0m-29 3h0m-39-1h0m44-1h0m-29 1h0m1 1h0m36 0h0m11-1h0m-13-4h0m-15-2h0m13 0h0m-32 1h0m-2 1h0m33 1h0m31 0h0m-63-1h0m23-2h0m-37-4h0m23 1h0m19 0h0m-28 1h0m37 1h0m-36-2h0m3-1h0m-2 1h0m49-1h0m-62-2h0m23-1h0m12 0h0m19 2h0m20-2h0m-25 0h0m18 3h0m-72-3h0m-6-1h0m62-3h0m-55 1h0m15-2h0m4 1h0m38 1h0m-21 1h0m25-2h0m0 0h0m16 2h0m-30-3h0m-50-1h0m18 0h0m37-1h0m-34 2h0m18-2h0m-41-1h0m60 2h0m20-5h0m-44 2h0m24-3h0m17 2h0m-44-3h0m34 2h0m-48 0h0m-24 1h0m3-7h0m7 3h0m48-3h0m-57 1h0m85 1h0m-73-2h0m13 0h0m3 0h0m27 2h0m3-3h0m-32 0h0m31-1h0m-10-1h0m35 2h0m-11 0h0m-50-1h0m-11 0h0m31-6h0m-5 0h0m36 0h0m-53 1h0m23 0h0m-46 1h0m91-1h0m-17 2h0m-67-3h0m84-2h0m-40 1h0m34 0h0m-73 0h0m65-2h0m-6 0h0m7 0h0m-73-1h0m39 0h0m-3-4h0m-40 1h0m88 0h0m-26 1h0m-64 0h0m32-2h0m12 1h0m36-1h0m-32-1h0m26 0h0m-56-1h0m75-1h0m0 0h0m-64-1h0m15 0h0m9 0h0m1 1h0m-35-4h0m40-1h0m-1 2h0m-20 1h0m-13-1h0m39-1h0m2-1h0m-48 1h0m6-4h0m54 2h0m-65-1h0m1-1h0m25 0h0m32-1h0m-12 0h0m12 2h0m-40-6h0m36 1h0m-21 1h0m10-2h0m11 0h0m-42 2h0m22-2h0m23 3h0m-45-3h0m24-3h0m21 1h0m21 0h0m-4 0h0m-14-1h0m-26 0h0m-6 0h0m7 0h0m-37-2h0m74 0h0m-39-3h0m-27-1h0m64 2h0m-53 1h0m17 0h0m-3 1h0m49-7h0m-69 0h0m54 2h0m-27 0h0m-30-2h0m28-1h0m6 1h0m17 1h0m-41 1h0m-28-6h0m87 0h0m-63 0h0m52 2h0m-66 1h0m16-3h0m16 0h0m33 3h0m-15-7h0m9 0h0m-50 2h0m45 0h0m-36-2h0m-15 0h0m-12 0h0m43 1h0m43-2h0m-90-4h0m34 0h0m-5 3h0m-14 1h0m26-3h0m6 1h0m-1 1h0m-14 1h0m52-3h0m-53-2h0m47-1h0m-51 0h0m3 2h0m-3 0h0m-27-3h0m92-4h0m-65 0h0m7 2h0m59-1h0m-65 1h0m61-1h0m-45-4h0m-26 0h0m64-1h0m-27 3h0m-18-4h0m-9 2h0m65-4h0m-25 1h0m-59 1h0m19-3h0m-14 1h0m0-1h0m45-5h0m32 2h0m-61 1h0m-1 0h0m21-1h0m32-5h0m-67 3h0m31-2h0m-29 1h0m20 0h0m39 0h0m-15-5h0m-7 0h0m22-2h0m-66 3h0m68-2h0m-45 1h0m-32-6h0m27 1h0m29 2h0m35 1h0m-25-1h0m-23-1h0m30-5h0m-14-1h0m5 2h0m-61-1h0m53-1h0m-53 1h0m23-2h0m-12-3h0m-1 3h0m30-2h0m-30 2h0m41-1h0m10-3h0m-10-1h0m-20 1h0m41-2h0m-10 2h0m16 1h0m-34-6h0m23 0h0m-18-2h0m16 2h0m-2 1h0m13-2h0m-44-5h0m43 3h0m-48-1h0m-11 0h0m34 0h0m-51 1h0m74-4h0m2-1h0m-33 2h0m43-2h0m-65-1h0m30 2h0m23-7h0m14 4h0m-33 0h0m-26-1h0m61-3h0m-66 0h0m-14-2h0m70 1h0m-37 0h0m-1 0h0m48-2h0m-62-1h0m35-4h0m-19 2h0m31-2h0m10 0h0m-21 3h0m-2-1h0m3-4h0m-1 1h0m-35-3h0m3 4h0m16-1h0m27 1h0m-30-6h0m-3 1h0m1-3h0m-28 0h0m30 3h0m-5-1h0m26-3h0m-69-1h0m46-1h0m0 1h0m24 0h0m-52-1h0m12-3h0m14-2h0m47 0h0m-60 2h0m37-1h0m-24-3h0m37-1h0m-58-1h0m-8 1h0m78-2h0m-65-1h0m23-1h0m38-1h0m-50 3h0m-8-8h0m14 3h0m8-1h0m-22 1h0m-17-3h0m-6-3h0m38 3h0m-31-3h0m-2-2h0m43-1h0m22-1h0m3 1h0m-33-3h0m-16-1h0m0 1h0m32-1h0m-32-2h0m32-1h0m-26-3h0m29 3h0m-51-2h0m21-4h0m54-1h0m-74 2h0m-11-1h0m26 1h0m43-4h0m-44 0h0m23-2h0m15 0h0m-12-3h0m-16 2h0m31-2h0m13 1h0m-81-3h0m-3-3h0m47 4h0m-24 0h0m67-7h0m-84 0h0m38 0h0m5-1h0m-22-2h0m19 0h0m27 2h0m-62-3h0m-10-5h0m37 2h0m27 0h0m3-1h0m-51 3h0m42-4h0m-53-2h0m1 0h0m38-1h0m-18-1h0m25-3h0m-37 1h0m27 0h0m5-4h0m34 0h0m-4 2h0m-32-2h0m-14-2h0m17-1h0m37 0h0m-22-3h0m-42-3h0m55 1h0m-9 1h0m-58-7h0m19 2h0m59 0h0m-64-3h0m39-2h0m18 0h0m-60-1h0m-21 0h0m77-3h0m-44-5h0m21 1h0m-29 2h0m59-5h0m-75 1h0m34-2h0m-2-2h0m-27-1h0m51-1h0m14-2h0m-4 1h0m-15-3h0m-47-2h0m3-3h0m-8-4h0m34 3h0m36-5h0m-13 1h0m15-6h0m1 1h0m-63-6h0m-2 3h0m1-3h0m62-1h0m-63-1h0m59 0h0m-75-4h0m10 1h0m68-6h0m-65 2h0m67-6h0m-14 0h0m-25 1h0m36-6h0m-11 0h0m-55 3h0m24-7h0m13 2h0m30-2h0m-37-2h0m-24 0h0m-17 1h0m76-6h0m-59-2h0m49 3h0m27-6h0m-17 1h0m-68-5h0m86 0h0m-76 0h0m-4-2h0m78-2h0m-19 2h0m-55-5h0m25-1h0m-4 1h0m38-4h0m-64-2h0m5 4h0m9-6h0m48 1h0m-9-6h0m-25 1h0m46 0h0m-51-3h0m-11 0h0m52 0h0m-2-6h0m-53 2h0m50-1h0m-61-4h0m-3 0h0m34-4h0m51 0h0m-79-5h0m-8 0h0m12-1h0m2 0h0m47-8h0m-4 1h0m8-3h0m6 1h0m-53-3h0m44-4h0m-52-3h0m-6-4h0m3 2h0m-13-5h0m92 1h0m-35-6h0m-34 2h0m-4-5h0m21-3h0m48-2h0m-10-4h0m-61-4h0m-6 0h0m66-3h0m-11-2h0m9-1h0m-57-4h0m60-7h0m-71-2h0m10-1h0m59-2h0m-64-7h0m66 0h0m-77-4h0m77 3h0m-52-6h0m-26-6h0m24-2h0m29-2h0m-10-6h0m30-5h0m-6-1h0m-52-5h0m10-14h0m52-3h0m-10-7h0m-52-14h0m67-3h0m-40-14h0m23-4h0m6-5h0m-31-6h0m2-4h0m35-2h0m-73 285h0m-2-40h0m-5 296h0m6-343h0m-2-38h0m4 238h0m-8 179h0m11-31h0m1-383h0m-2 371h0m0-143h0m-4 188h0m1-72h0m-1-44h0m-2-301h0m3 247h0m0 98h0m-2 45h0m4-168h0m-6 131h0m5-435h0m-7 170h0m7 78h0m-3-248h0m0 325h0m7-74h0m-1 47h0m-7-56h0m-3 263h0m8-424h0m-8 262h0m8 5h0m-7-263h0m-1 209h0m1 15h0m2-171h0m5 139h0m-1 120h0m2-101h0m-8-19h0m2-256h0m4-21h0m0 71h0m-3 442h0m1-237h0m-5-186h0m3 186h0m3-111h0m-4 298h0m7-280h0m-4-73h0m-4 240h0m-1 159h0m0-413h0m10 18h0m-9 129h0m6 252h0m3 7h0m-4-376h0m3 51h0m-3 6h0m-1 241h0m-5-227h0m7 290h0m260 28h0m7 1h0m-7-1h0m-3 0h0m22-4h0m-5-2h0m4 1h0m1 0h0m-20-3h0m16 1h0m-10 0h0m25-2h0m-29-5h0m2 3h0m13-2h0m-1 3h0m3-6h0m-10 1h0m7-2h0m-15-3h0m18 0h0m-3 1h0m19-7h0m-20 0h0m6 1h0m-5-2h0m-5 1h0m4-3h0m15-1h0m2-1h0m-17-2h0m0 0h0m-6 2h0m18-3h0m-9-3h0m-14 3h0m6-2h0m25-6h0m-8 3h0m-8 0h0m2-7h0m1 0h0m10 3h0m-16-6h0m-10 1h0m10-1h0m0 0h0m10-2h0m2 0h0m-29-1h0m37-1h0m-2-2h0m-33 0h0m11-1h0m12-3h0m6 0h0m4-1h0m-16 0h0m-21-5h0m26-1h0m-14 2h0m8 1h0m15-7h0m-13 3h0m2-1h0m-6-5h0m14-1h0m7 2h0m-8-3h0m-8 0h0m-22 0h0m32-4h0m-13-3h0m0 1h0m0-3h0m-3 1h0m18-3h0m-34 3h0m30-8h0m-19 4h0m24-2h0m-1-4h0m-12 0h0m-10-1h0m10-2h0m14-2h0m-33-1h0m30-2h0m-8 2h0m4-1h0m-3 0h0m11-6h0m-2 2h0m-27-1h0m25-2h0m-23 0h0m8-1h0m-4-4h0m5-2h0m-12 0h0m16 0h0m6-2h0m3 0h0m2 0h0m-11-6h0m12 0h0m-14 1h0m-2-5h0m1 3h0m16-6h0m-12-1h0m-4-1h0m14-3h0m-18 0h0m-14-1h0m27-2h0m-13-6h0m17 0h0m4 0h0m-9-1h0m6 0h0m-8-4h0m-14 0h0m24-2h0m-4-3h0m-15-2h0m20 2h0m-15-3h0m11-2h0m-18-5h0m15 3h0m-9-1h0m9-4h0m3-1h0m-13 2h0m7-7h0m9 1h0m-16-2h0m-21-3h0m30 3h0m-12-5h0m1-1h0m5-5h0m-8 0h0m18-3h0m-13 1h0m9-5h0m2-1h0m-28 0h0m17-3h0m10-5h0m-14 3h0m12-5h0m6-5h0m-2-2h0m-25-7h0m8-5h0m-7-2h0m25-5h0m2-4h0m-2-5h0m-24 0h0m-3-5h0m2-4h0m24-2h0m-24-2h0m1-3h0m0-5h0m-4-4h0m10-5h0m5-4h0m10-6h0m6-4h0m2-2h0m-29-6h0m-5-4h0m-1-4h0m4-1h0m1-5h0m7-5h0m-10-2h0m29-4h0m-29-7h0m4-2h0m1-5h0m18-4h0m1-2h0m-17-8h0m-11-2h0m30-3h0m-23-4h0m-3-3h0m-3-5h0m8-6h0m-2-3h0m22-3h0m4-4h0m-26-5h0m-2-4h0m2-5h0m-6-1h0m8-6h0m2-3h0m16-5h0m-24-2h0m0-6h0m3-7h0m21-3h0m2-5h0m-28-4h0m-2-11h0m8-8h0m-4-6h0m-5-4h0m27-7h0m-13-7h0m-4-3h0m0-3h0m-9-3h0m9-11h0m-1-3h0m0-7h0m-1-11h0m20 0h0m-19-9h0m21-5h0m-20-5h0m-5-5h0m4-9h0m-7-10h0m7-3h0m11-5h0m16-4h0m-4-9h0m-22-13h0m-6-11h0m98 602h0m-10-2h0m-36 2h0m-4-1h0m7 0h0m17-4h0m-21 2h0m37-1h0m-9 1h0m-18-3h0m12 3h0m-6-6h0m33 1h0m-51 0h0m46 2h0m-46-3h0m17-3h0m25 0h0m8 1h0m-1 0h0m-49-1h0m44-6h0m-18 2h0m1 2h0m-12-1h0m18-1h0m2-1h0m-11-3h0m-9 1h0m-12-3h0m40 0h0m-38 3h0m43-4h0m-35-1h0m20 1h0m0-2h0m-16 3h0m13-6h0m17 1h0m-34-3h0m37 2h0m-23-2h0m-9-4h0m13 0h0m16 1h0m-17 1h0m-18 0h0m7-5h0m-2 2h0m-12 0h0m4-2h0m36-1h0m-16-1h0m20-2h0m-5-1h0m-35 1h0m0-1h0m-8-4h0m31 1h0m8-1h0m-7 3h0m14-2h0m-18-5h0m15 0h0m-50 1h0m52-1h0m-45 1h0m48-4h0m-7-1h0m-38 3h0m14 0h0m26-3h0m-2-2h0m8 0h0m-32 0h0m0-1h0m0 0h0m33-3h0m-43 1h0m11-1h0m27 1h0m-40-1h0m8-3h0m-11-1h0m19-2h0m11 2h0m-31-2h0m44-3h0m-29 0h0m10 0h0m-6-1h0m24 1h0m-12-2h0m15-3h0m-9 3h0m-13-3h0m-8 1h0m24-3h0m4-2h0m2 2h0m-2-3h0m-34 1h0m11-4h0m22 3h0m-13-3h0m13 3h0m-41-3h0m3-1h0m39-1h0m-9 0h0m-14-1h0m-7-1h0m15 2h0m-25-5h0m25 1h0m15-1h0m-14-2h0m3 1h0m-24-3h0m6 1h0m-1-3h0m-9 1h0m16 1h0m26-3h0m-1 0h0m-2 0h0m-27 0h0m-13-1h0m27-2h0m-2 0h0m8-2h0m-8 0h0m4-1h0m-12-2h0m-24 1h0m16-2h0m35-1h0m-7-1h0m6 1h0m-1-1h0m3-1h0m-1-2h0m-41 1h0m17 2h0m-10-2h0m-10-4h0m28 1h0m7 0h0m-40-2h0m20 3h0m-8 0h0m33-4h0m-32-3h0m17 3h0m14 0h0m-28-4h0m-8-4h0m40 2h0m-18-1h0m19 2h0m-25-5h0m-23-1h0m3 1h0m29 0h0m9-2h0m-11-3h0m-17 0h0m17-3h0m-17 2h0m18 0h0m17 0h0m-24-5h0m-7-3h0m9 3h0m-11 1h0m-7-8h0m32 1h0m-17 2h0m-8-3h0m-17-4h0m50 0h0m-20 3h0m-33-3h0m34 0h0m-16-1h0m29-3h0m-3 1h0m-30-5h0m4 4h0m-2-1h0m32-2h0m6-2h0m-12 0h0m-36-1h0m17-2h0m-12-1h0m4-2h0m16-1h0m3-1h0m-16 0h0m16-2h0m6 1h0m-17-4h0m21 1h0m2-2h0m-12 0h0m0-3h0m-37 1h0m39-1h0m-19-4h0m11 1h0m-21 0h0m26-1h0m-5-6h0m23 2h0m1 0h0m-54-1h0m29-4h0m-2-1h0m-15 1h0m-2-3h0m3 1h0m35-1h0m-34-2h0m21-3h0m-22 0h0m-13-1h0m21-1h0m30 0h0m-46-3h0m42-3h0m-36 0h0m-5-3h0m-1-2h0m15-2h0m24-2h0m-43-3h0m3-1h0m-1-4h0m21 3h0m-18-4h0m-4-3h0m31-1h0m-22-1h0m-7-3h0m35-2h0m-38-4h0m17-1h0m24-2h0m-24-1h0m34-4h0m-51 1h0m1-4h0m1-6h0m15-1h0m6-6h0m-21 0h0m-1-2h0m1-6h0m44-5h0m-48-1h0m28-3h0m-23 2h0m7-5h0m-7 1h0m14-4h0m-10-6h0m-9-1h0m5-1h0m14-4h0m-17-4h0m41 0h0m-23-4h0m7-4h0m-24-2h0m17-3h0m5-3h0m-22-2h0m20-2h0m0-1h0m-3-5h0m24 3h0m2-6h0m-26 1h0m-16-6h0m-1 0h0m0-4h0m17 1h0m8-4h0m-22-3h0m19-1h0m-14-3h0m-7-2h0m22-5h0m-1-3h0m4 2h0m27-7h0m-39-4h0m-6-4h0m-6 1h0m20-4h0m1-2h0m28-2h0m-41 1h0m9-4h0m-5-1h0m-6-3h0m8-6h0m28 0h0m-33-3h0m10-2h0m2-3h0m-24 0h0m1-4h0m19 0h0m22-2h0m-39 1h0m16-6h0m0 2h0m-16-7h0m18 1h0m1-5h0m-18 0h0m12-4h0m-14-3h0m36-6h0m-20 3h0m35-5h0m-42-1h0m-2-4h0m7-2h0m27-6h0m-41-2h0m44-6h0m4-5h0m-39-2h0m-10-10h0m24-3h0m-24-2h0m10-4h0m32-6h0m-21-4h0m-5-10h0m-16-4h0m51-5h0m-53-4h0m1-3h0m17-4h0m6-5h0m-18-7h0m19-4h0m1-4h0m11-2h0m-25-3h0m-11-6h0m21-5h0m-19-2h0m21-4h0m2-6h0m-23-4h0m17-2h0m-17-4h0m14-6h0m5-1h0m0-5h0m-21-9h0m3-3h0m259 601h0m-38-2h0m28 3h0m-36 0h0m-13-2h0m13-1h0m56 2h0m-45-1h0m-15-2h0m18-1h0m8 0h0m-32-1h0m39-1h0m-45 1h0m55-2h0m-5-3h0m-31 0h0m33 1h0m-42 0h0m-8 2h0m60-3h0m-17-1h0m24 4h0m-65-5h0m44 0h0m-12-2h0m18 0h0m5 1h0m15-2h0m-57 3h0m-17-2h0m49-3h0m23 1h0m-29-3h0m-47 1h0m59 2h0m-3-1h0m-27-1h0m0-1h0m35-2h0m0 1h0m-65 0h0m16-2h0m39 1h0m-15-2h0m17 2h0m-49-1h0m13-2h0m16-3h0m-22 1h0m-7 0h0m42-1h0m-29 4h0m35-1h0m-15 1h0m1-7h0m38 1h0m-66 0h0m64 1h0m-21 0h0m11-2h0m-38 1h0m26-2h0m13-4h0m-69 0h0m6 2h0m67 0h0m-65 0h0m49-1h0m19 2h0m2-1h0m-69-5h0m31 0h0m-12 2h0m-24-1h0m11 2h0m-14-2h0m64 1h0m-23-5h0m-35 0h0m71 0h0m-64-2h0m64 1h0m-72 0h0m0 2h0m50-2h0m-23-4h0m7-1h0m-4 3h0m3 0h0m-13 0h0m51 0h0m-71-1h0m26-4h0m7-2h0m16 2h0m2 2h0m-58-1h0m-1 0h0m54-2h0m-26-3h0m14 0h0m18 0h0m-1 1h0m-16-1h0m-23-1h0m4 2h0m-24-3h0m58-3h0m-13 0h0m-33 0h0m-5-1h0m1 3h0m53 0h0m-15 0h0m24-4h0m-60 0h0m20-3h0m21 3h0m-39 0h0m15-2h0m17 1h0m11-1h0m7-2h0m-2 0h0m9-2h0m-51 2h0m63-2h0m-8-1h0m-35 2h0m-22-6h0m-4 3h0m58-2h0m5 2h0m-18-2h0m-5-1h0m-48 0h0m52 2h0m-32-4h0m1 0h0m-21 0h0m65 0h0m-61 0h0m18-2h0m12 1h0m39 0h0m-8-3h0m-11 1h0m15-2h0m5-1h0m-2 0h0m-30 0h0m-33 0h0m34 1h0m-20-2h0m53-1h0m-69-2h0m48 1h0m-43 0h0m8 1h0m52-2h0m-41-4h0m-27 2h0m-6-1h0m35-1h0m5 3h0m-35-2h0m-6 2h0m75-3h0m-5-3h0m-13 1h0m1-2h0m-50 1h0m68 1h0m-53-3h0m-21 1h0m53 0h0m3-4h0m-52 1h0m73 2h0m-34-1h0m-16-3h0m-7 2h0m23 0h0m36-2h0m-52-4h0m46 1h0m-66 0h0m59 2h0m-46-3h0m-19 1h0m12 0h0m56 1h0m-62-5h0m-2 3h0m22 0h0m39-2h0m-29 1h0m32-2h0m-29 2h0m14-1h0m16-2h0m4-3h0m-4 0h0m-5 3h0m-26-1h0m-17-2h0m43-1h0m-62 0h0m43-4h0m-32 2h0m21 0h0m-30 1h0m30-2h0m42 1h0m-12 1h0m-1-2h0m-51-4h0m58 3h0m-47-1h0m-24-2h0m20 0h0m29 0h0m-48 0h0m4 2h0m3-6h0m1-1h0m39 2h0m-46 2h0m37-4h0m-21 4h0m39-1h0m-58 0h0m72-5h0m-43-2h0m45 1h0m-69 2h0m42-1h0m22 0h0m-18-3h0m12-2h0m0 2h0m-33-2h0m12 2h0m33-5h0m-27-2h0m19 0h0m-59 1h0m64 1h0m-68-4h0m71-1h0m-24 3h0m-42 0h0m10-3h0m29 2h0m1-7h0m-32 3h0m59 1h0m-65 0h0m1 0h0m64-2h0m-12-6h0m-10 2h0m19 1h0m-38-1h0m42-2h0m-17-4h0m-9 1h0m6 1h0m-54 0h0m8-2h0m0-1h0m12-1h0m33-1h0m-21-1h0m38 2h0m-3-3h0m-22 0h0m13 0h0m-45-2h0m0 2h0m51-7h0m-62 2h0m29 1h0m43-1h0m-5-1h0m-38 2h0m36-7h0m-12 2h0m-20 1h0m-19-2h0m29 1h0m-7-2h0m-40-2h0m28 2h0m36-4h0m-17 1h0m8 1h0m-8-3h0m18-2h0m-52-1h0m34 0h0m9 3h0m16-7h0m-27 2h0m-39 0h0m63-2h0m-1 0h0m-30 3h0m8-4h0m-43-3h0m51 0h0m-18 2h0m20-2h0m16-3h0m-18-1h0m20 0h0m-6 0h0m-43 3h0m31-6h0m16-1h0m-2 2h0m-12-1h0m-19 1h0m38-5h0m-12 0h0m-25 2h0m-34-1h0m51-1h0m13-2h0m1-1h0m-65 1h0m3 0h0m29-5h0m-2-1h0m21 2h0m-19-2h0m-10-5h0m-9 0h0m15 1h0m42-5h0m-5 2h0m-63-1h0m44-3h0m22-1h0m-10-4h0m-60 2h0m37-2h0m-36-3h0m5-2h0m31 3h0m-32-4h0m66-4h0m-65-2h0m3-3h0m26 0h0m-12-4h0m-11-1h0m-13-3h0m13-1h0m59-2h0m-44-7h0m-6-3h0m28-2h0m0-1h0m-56-2h0m59-4h0m-28-3h0m46 1h0m-70-5h0m1-3h0m18-1h0m-6-5h0m41-5h0m4-3h0m17 1h0m-38-4h0m-32 0h0m17-5h0m0-2h0m13-4h0m39-3h0m-60-3h0m-11-2h0m70-7h0m-64-4h0m8-1h0m-16-6h0m60-1h0m-12-7h0m2-2h0m-28-7h0m-17-1h0m14-7h0m-13-4h0m-7-11h0m16-2h0m35-5h0m6-6h0m-52-2h0m1-6h0m61-2h0m-32-4h0m-18-5h0m17-2h0m-30-8h0m12-3h0m34-1h0m-32-5h0m15-7h0m14-1h0m-40-6h0m21-5h0m-34-2h0m30-5h0m-15-4h0m41-2h0m-1-6h0m2-2h0m-47-4h0m15-6h0m4-2h0m-21-6h0m2-3h0m22-6h0m22-6h0m3-11h0m-37-12h0m32-16h0m-7-10h0m-23-2h0m-23-7h0m21-15h0m-1-4h0m7-3h0m-3-7h0m21-11h0m204 584h0m-23 1h0m-3-1h0m-13 2h0m14-1h0m14 2h0m13-2h0m6-4h0m-11-2h0m9 3h0m-49-3h0m7 1h0m55 1h0m-38 0h0m18-3h0m-31-2h0m6 0h0m-14 2h0m1-2h0m0 1h0m2 2h0m2-7h0m21 1h0m8-2h0m23 1h0m-24 3h0m0-3h0m11 2h0m-37-4h0m50 0h0m-9-1h0m-8-1h0m-15-1h0m10 1h0m-5 2h0m-22-6h0m36 1h0m-37 0h0m23 1h0m-21 1h0m-2-4h0m47 1h0m-47-5h0m48 3h0m-30 0h0m29 0h0m-47 0h0m10 0h0m37-2h0m-56-3h0m52-1h0m-40-1h0m-3 3h0m-3-1h0m16 0h0m-3 1h0m16-6h0m-4 3h0m-28-2h0m33-1h0m-9 0h0m-17-1h0m-1 2h0m37-6h0m-44 3h0m58-2h0m-53 0h0m11 0h0m15 1h0m-4 0h0m-20-5h0m19-1h0m5 2h0m3 0h0m-28-1h0m11 1h0m1-5h0m29-1h0m-1 4h0m-28-3h0m21-1h0m7 3h0m-10-2h0m-28-2h0m21-2h0m-23 0h0m-10-1h0m53 2h0m-49 0h0m23-5h0m1 1h0m16-2h0m-22 1h0m26 0h0m-26 2h0m40-1h0m-3-4h0m-29 0h0m3 1h0m-23-3h0m18 2h0m1-2h0m-18 2h0m11-6h0m13 2h0m17 1h0m-49-1h0m55 0h0m-15-2h0m-44 0h0m13-4h0m2 1h0m1 2h0m21-1h0m-25 1h0m18-2h0m14 0h0m8-4h0m-51 0h0m0-1h0m14 3h0m24-1h0m-17 1h0m-2-2h0m17-3h0m21 1h0m-15-3h0m-19 3h0m6-3h0m36 1h0m-62-1h0m23-2h0m7-2h0m9 3h0m-18-3h0m-12 2h0m49 0h0m-51-2h0m41-4h0m16 1h0m-50-1h0m-5 3h0m21-3h0m-22 2h0m41-2h0m-10-2h0m-31-2h0m22 2h0m-33-2h0m53 1h0m-35-1h0m23 0h0m21-1h0m-46-2h0m-14 0h0m44 2h0m-15-2h0m30-1h0m-61 3h0m39-7h0m-26 0h0m-1 3h0m40-3h0m-48 0h0m50 0h0m-52 0h0m46-2h0m-28 0h0m-13 0h0m3 1h0m26 0h0m-5-4h0m25 4h0m10-4h0m-20-2h0m-14 2h0m-12 0h0m37 0h0m-6-1h0m6 0h0m-17-5h0m22 2h0m3-3h0m-36 2h0m38 0h0m-35 0h0m8 0h0m-19-4h0m-17-1h0m54 1h0m-10-1h0m-19 1h0m-27-1h0m-2 0h0m47-6h0m-37 2h0m33 0h0m13 1h0m-37 1h0m-7-2h0m-13 0h0m64-5h0m-7-1h0m-29 2h0m-26 0h0m11 1h0m-1-2h0m23 0h0m12-5h0m6 0h0m2 2h0m-33-2h0m18 1h0m-31-4h0m25 2h0m4-3h0m-5 2h0m-30 0h0m32-5h0m27 1h0m-55 1h0m5-3h0m41 3h0m-15-6h0m-18-1h0m-20 2h0m3 0h0m9 1h0m-3-6h0m27 1h0m-6-1h0m5-1h0m-32 3h0m10-7h0m42 0h0m-15 4h0m23-1h0m-9-2h0m-32-4h0m42-1h0m-5 2h0m-23 0h0m-23-1h0m16-3h0m25 0h0m13-2h0m-13 0h0m-24 3h0m11-6h0m16-1h0m-2 3h0m-42-2h0m0-4h0m23 1h0m-4 1h0m-8-3h0m15 0h0m5-4h0m-5 3h0m-36 0h0m40-1h0m-8 1h0m23-5h0m-37-1h0m17-1h0m-6 3h0m-21 1h0m10-7h0m15 2h0m-8-3h0m7 1h0m-5 2h0m24-4h0m-43-1h0m32-2h0m17 0h0m-31 4h0m35-5h0m-2-3h0m4 3h0m2-1h0m-30 1h0m1-3h0m-38-3h0m9 0h0m0-1h0m24 3h0m-25-6h0m37-1h0m4 3h0m-37-2h0m2 1h0m9-4h0m42-2h0m-53 0h0m-5 1h0m55 0h0m-7-2h0m-4-3h0m-28 2h0m34 1h0m-22-1h0m-7-4h0m14-2h0m-29 0h0m31 1h0m-1 0h0m-38-2h0m11-2h0m-11 1h0m44-2h0m5-1h0m-16-2h0m-36-1h0m53-4h0m-3 2h0m-16-1h0m17-2h0m-25 0h0m-12 0h0m-9-7h0m3 3h0m3-1h0m7-6h0m10 2h0m11 1h0m-36-7h0m29 3h0m16 0h0m-20-6h0m-24 0h0m43 1h0m-16-3h0m6-1h0m-4-6h0m-16 0h0m40 2h0m-49-7h0m2 3h0m-2-4h0m28-2h0m21 1h0m-20-5h0m-30 2h0m28-2h0m1-1h0m-1-3h0m4-3h0m14-1h0m-1-4h0m-28 0h0m30-2h0m9-1h0m-62-2h0m17-1h0m17-5h0m11 2h0m-8-6h0m-31-1h0m47-4h0m7 1h0m-21-6h0m25 3h0m-53-5h0m43 1h0m9-6h0m-28-3h0m18 0h0m-19-5h0m14-1h0m5-1h0m-13-2h0m-43-1h0m0-1h0m2-7h0m5 2h0m25-4h0m23-5h0m-50 2h0m50-6h0m-44 2h0m3-6h0m9 3h0m18-5h0m-1-1h0m1-6h0m-39 1h0m50-3h0m-28 0h0m14-5h0m1 1h0m20-3h0m-4-3h0m-17-1h0m14-3h0m-13-5h0m0-3h0m-2 0h0m14-3h0m-24-2h0m-14-6h0m37-5h0m-37-3h0m15-3h0m29-4h0m-17-4h0m-3-7h0m-17-3h0m-14-2h0m6-6h0m13-5h0m31-1h0m-44-4h0m-10-5h0m50-3h0m-39-4h0m39-8h0m-21-7h0m9-3h0m-4-3h0m4-3h0m3-5h0m-31-3h0m27-11h0m-36-4h0m0-2h0m41-3h0m-5-7h0m5-2h0m-12-10h0m9-6h0m-11-4h0m11-8h0m-14-3h0m31-7h0m-23-5h0m11-29h0m13-6h0m-15-3h0m13-16h0m-54-8h0m216 599h0m14 1h0m-20-2h0m-18 2h0m12-1h0m-14-2h0m21-2h0m-1 1h0m13 0h0m7-1h0m-21-2h0m11 1h0m-5-1h0m8 0h0m0-2h0m-31-4h0m15 2h0m10 0h0m-9 0h0m2-2h0m9-2h0m9-1h0m-13-2h0m8 3h0m-34-2h0m0-2h0m3-1h0m1 1h0m0 0h0m6-1h0m19-2h0m-3 0h0m5-4h0m-28 2h0m19 1h0m-6-4h0m-12 0h0m-4 0h0m33-3h0m-24 2h0m7-6h0m25 1h0m-32 2h0m12-1h0m-18-1h0m-1-2h0m1-1h0m22-2h0m-22 3h0m20-1h0m9-3h0m3-2h0m-35 2h0m36-2h0m-19 1h0m-1-3h0m12 0h0m8-3h0m4 3h0m0-3h0m-37-3h0m22 0h0m-23 0h0m2 0h0m10 0h0m8-3h0m-6-2h0m21 1h0m-34 1h0m0-1h0m-1-5h0m13 1h0m-12 2h0m13 0h0m20-5h0m-29-1h0m8-1h0m-3 2h0m-9 1h0m0-5h0m-1 0h0m3 1h0m-3 0h0m1-1h0m29-3h0m-12 0h0m19 0h0m-9-2h0m-27-4h0m36 0h0m0 0h0m-26 0h0m18 2h0m-8-6h0m-20 0h0m2-1h0m-2 0h0m21 2h0m5-5h0m-7-1h0m-19 0h0m17 1h0m7 0h0m-26-2h0m1-3h0m0 2h0m20-1h0m12-3h0m-3-2h0m-10 0h0m18 1h0m-37-3h0m30-2h0m-1 1h0m-8 2h0m-2-6h0m17 1h0m-3-1h0m-22 2h0m22-4h0m-33-2h0m2-1h0m32 1h0m-7 0h0m-29-5h0m33 2h0m-9 0h0m-5 1h0m3-4h0m-19-2h0m5 0h0m18 0h0m-22 1h0m22-6h0m-9 0h0m-17 3h0m4-3h0m0 1h0m28-3h0m-27 0h0m10 0h0m13 0h0m-17-1h0m13-4h0m-20 1h0m35-2h0m-36-2h0m38-2h0m-40 2h0m29-1h0m-27-5h0m30 3h0m-28-1h0m26-7h0m0 2h0m2-2h0m-7-1h0m9-2h0m-5 2h0m-28-4h0m36-3h0m-36 1h0m38-1h0m-10-4h0m-23 4h0m22-1h0m11-5h0m-35-1h0m28 0h0m-21-1h0m-11-4h0m9 0h0m13 3h0m-18-3h0m24-4h0m-26 2h0m30-5h0m-24 2h0m-2 0h0m27-1h0m-7-3h0m-23 0h0m20-1h0m-6-6h0m-7 0h0m-2 4h0m13-3h0m4-2h0m13-2h0m-12 1h0m12-3h0m-6-1h0m-1 1h0m-1-5h0m-9 1h0m-21-1h0m38 0h0m-22-5h0m4 1h0m-4-2h0m-13 3h0m32-5h0m-28-1h0m-5 0h0m0-5h0m29 1h0m-12 1h0m-10-5h0m-7 0h0m20 1h0m15-1h0m-34-5h0m36 2h0m-34-1h0m-2-3h0m-2 0h0m35-7h0m-34 3h0m-1-6h0m3 2h0m18-1h0m-21-4h0m33 1h0m-2 1h0m-32-7h0m4 1h0m-2-2h0m0 0h0m2-3h0m10-4h0m18 3h0m-28-4h0m-2-1h0m37-2h0m-36 0h0m-1-5h0m-1 3h0m1-5h0m-1 2h0m32-2h0m-25-6h0m22 0h0m-27-3h0m30 2h0m-11 0h0m18-4h0m-20-1h0m-21-3h0m21-1h0m-2-3h0m-16-1h0m1 0h0m-2-4h0m12-1h0m-11-1h0m32-2h0m-31 1h0m-3 0h0m2-5h0m19-1h0m-8 1h0m-3-6h0m21 3h0m-3-6h0m-26 2h0m10-6h0m20-1h0m-31-1h0m0 0h0m23-5h0m-25 0h0m32-2h0m-27-4h0m32 3h0m2-2h0m-34-2h0m-3 0h0m3-7h0m4 0h0m13 0h0m19-1h0m-12-1h0m-25-6h0m32 0h0m-36 1h0m1-5h0m0 3h0m4-7h0m26 3h0m-28 0h0m19-6h0m17 2h0m-25 0h0m-12-4h0m31-1h0m-1 0h0m-17-3h0m13 0h0m-26-5h0m28-1h0m3 2h0m-30-6h0m0 1h0m14-5h0m3 0h0m-18-5h0m20 2h0m-19-1h0m0-4h0m19 1h0m-20-5h0m4 0h0m16 0h0m-19-2h0m24-2h0m3 1h0m-15-4h0m19-2h0m-3 1h0m-1-3h0m-9-1h0m18 1h0m-10-7h0m2 3h0m3-5h0m-3 0h0m-28 0h0m10-2h0m20-1h0m1-1h0m-1-4h0m-20 1h0m-8-2h0m12-5h0m-17 2h0m39 2h0m-3-7h0m-34 0h0m-1-4h0m18 0h0m-7-3h0m16 1h0m6-5h0m-9 1h0m-13 0h0m13-6h0m-23 0h0m16 0h0m-16-4h0m1 3h0m1-6h0m6-1h0m31 0h0m-32-2h0m-7-3h0m1-1h0m2-3h0m3-3h0m-2 0h0m4-5h0m20 3h0m-16-6h0m3 1h0m13-6h0m1 4h0m-15-3h0m-14-3h0m4 0h0m-3-3h0m7-2h0m-2-5h0m-5 1h0m0-1h0m4-2h0m-3-4h0m23 0h0m1-5h0m-12-2h0m-6-2h0m24-5h0m-16-3h0m6-3h0m-9-4h0m-5-5h0m19-5h0m-21-5h0m29-2h0m-32-4h0m11-1h0m2-3h0m-2-5h0m-1-2h0m0-6h0m-6-2h0m10 0h0m-1-3h0m-10-1h0m15-3h0m-7-3h0m0-2h0m-15-7h0m14-4h0m18-4h0m-17-1h0m-1-7h0m-12-3h0m15-2h0m-4-6h0m15-3h0m-16-6h0m-6-4h0m4-1h0m5-5h0"/><path stroke="#87ceeb" d="M381.3 440.9h0M340.1 465.3h0M340.1 475.7h0M381.3 542.4h0M340.1 570.3h0M318.1 690.3h0M381.3 697.9h0M381.3 711.2h0M259 761.1h0M259 805.2h0M318.1 788.3h0M381.3 780.2h0M381.3 790.7h0M381.3 803.4h0M259 856.8h0M235.2 875.9h0M259 891h0M260.7 901.5h0M260.7 909.6h0M318.1 878.8h0M340.1 882.9h0M318.1 904.9h0M381.3 851h0M381.3 876.5h0M381.3 884.6h0M381.3 898h0M340.1 954.8h0M249.1 978.6h0M318.1 1006.5h0M340.1 1018.6h0M340.1 1036.6h0M381.3 1017.7h0M397 1045.9h0M441 1044.7h0M480.4 1043.6h0M265.4 1084.2h0M249.1 1102.7h0M241 1114.3h0M249.1 1115.5h0M241 1124.2h0M265.4 1108.5h0M265.4 1117.2h0M340.1 1087.1h0M340.1 1117.8h0M441 1101h0M480.4 1087.1h0M480.4 1120.1h0M397 1131.2h0M413.2 1117.2h0M413.2 1129.9h0M249.1 1153.8h0M265.4 1146.2h0M385.4 1161.9h0M402.2 1160.2h0M413.2 1160.2h0M239.7 1203.2h0M248.1 1199.5h0M261.1 1206.4h0M322.4 1202.9h0M388.3 1190.3h0M385.1 1205.5h0M415.5 1196.3h0M215.4 1224.3h0M244 1214h0M244 1218.3h0M244 1227.9h0M244 1234.3h0M261.1 1239.2h0M321.3 1229.4h0M381.3 1224.3h0M383.4 1243.3h0M381.3 1246.1h0M240.2 1244.4h0M244.4 1251.4h0M243.4 1255.7h0M244.4 1263.2h0M380.2 1259.3h0M402.2 1260.4h0M413.3 1252.3h0M265.2 1275.3h0M259.4 1283.4h0M215.4 1285.1h0M380.2 1287.7h0M380.2 1290.9h0M443 1276.4h0M449.4 1274.3h0M226.3 1306.5h0M233.8 1303.3h0M240.2 1310.1h0M245.1 1309.1h0M259 1300.5h0M258.3 1304.8h0M318.1 1303.3h0M385.1 1309.1h0M413.3 1305.2h0M443.4 1304.8h0M258.3 1319.7h0M877 979.2h0M924 1012.8h0M857.8 1038.4h0M857.8 1061h0M957.6 1056.9h0M948.9 1074.3h0M1013.9 1068.5h0M856.1 1084.2h0M856.1 1106.8h0M982 1110.8h0M982 1115.5h0M849.1 1127.1h0M1007 1130h0M886.3 1145.1h0M924 1145.1h0M1007 1148h0M1019.7 1155h0M857.8 1155h0M848.6 1160.2h0M856.4 1179.5h0M848.5 1228.6h0M858.1 1219.4h0M882.2 1214.5h0M848.5 1264.4h0M856.4 1279.4h0M951.4 1259.3h0M949.3 1276.4h0M924.3 1288.3h0M1007.1 1268.1h0M1007.1 1274.3h0M1012.9 1279.2h0M1019.3 1284.5h0M1012.9 1287.7h0M990.2 1293h0M881.4 1298h0M882.2 1311.2h0M848.5 1311.2h0M951.4 1315h0M1018.2 1311.6h0M1018.2 1320.2h0M1328.2 686.3h0M1383.9 928.7h0M1383.9 993.7h0M1451.2 1004.1h0M1376.4 1055.2h0M1371.1 1059.8h0M1371.1 1073.7h0M1450 1056.9h0M1383.9 1113.2h0M1389.1 1117.8h0M1443.7 1112h0M1454.1 1121.5h0M1441.9 1134.6h0M1328.2 1159h0M1375.8 1156.1h0M1419.3 1159h0M1326.4 1228.4h0M1424.4 1215.1h0M1440.2 1230.5h0M1424.4 1239.2h0M1447.2 1255.3h0M1481.4 1259.3h0M1321.2 1265.3h0M1326.6 1261h0M1444 1277.2h0M1453.2 1273.4h0M1448.3 1285.6h0M1304.2 1293h0M1340.5 1288.3h0M1481.4 1298.4h0M1409.8 1298.8h0M1404.5 1308h0M1398.1 1312.3h0M1418.2 1310.1h0M1335.1 1320.8h0M1346.2 1320.8h0M1357.1 1319.1h0M1366.5 1317.2h0M1437.2 1314h0M1449.3 1316.5h0M1838.7 960h0M1834.1 1038.4h0M1834.1 1051.7h0M1834.1 1058.6h0M1834.1 1108h0M1834.1 1159h0M1878.7 1168h0M1878.3 1176.3h0M1826 1212.3h0M1834.3 1220.5h0M1856.1 1216.2h0M1867.2 1207.2h0M1863.4 1261.2h0M1834.3 1286.6h0M1845.2 1293h0M1834.3 1298.8h0M1826 1311.2h0M1863.4 1317.2h0M1887.9 1311.2h0M1895.4 1308h0M1895.4 1316.5h0M1742.2 1211.3h0M1751.4 1243.3h0M1731.2 1263.2h0M1762.1 1268.5h0M1774.3 1311.2h0M2129.2 919.4h0M2212.1 924.1h0M2217.9 1120.1h0M2251 1128.8h0M2251 1148h0M2220.8 1163.1h0M2114.2 1198.5h0M2191.3 1214h0M2191.3 1216.2h0M2263.2 1212.3h0M2247.2 1227.9h0M2247.2 1233.3h0M2251.1 1240.7h0M2263.2 1246.1h0M2219.3 1257.2h0M2221.2 1272.1h0M2216.7 1269.6h0M2244.7 1270.6h0M2243.2 1277.5h0M2262.6 1265.3h0M2263.2 1271.7h0M2192.2 1294.3h0M2249.2 1305.2h0M2263.2 1316.5h0M2263.2 1321.9h0M2597.2 640.4h0M2532.8 903.2h0M2532.8 939.2h0M2532.8 958.3h0M2597.2 938h0M2597.2 958.3h0M2596.1 983.2h0M2596.1 992.5h0M2542.1 1021h0M2492.8 1052.3h0M2593.2 1059.8h0M2596.1 1070.2h0M2596.1 1095.2h0M2487 1110.3h0M2565.9 1128.3h0M2564.7 1130h0M2492.8 1148h0M2532.8 1160.2h0M2532.8 1166h0M2596.1 1146.2h0M2473 1168h0M2487 1167h0M2501 1168h0M2600 1168h0M2473.2 1173.1h0M2487.3 1169.2h0M2501.4 1170.3h0M2600.4 1172.2h0M2469.1 1188.4h0M2501.4 1192.1h0M2532.1 1192.7h0M2533.2 1203.4h0M2593.4 1200.6h0M2599.4 1199.5h0M2469.1 1218.3h0M2473.8 1217.3h0M2493 1223.2h0M2501.4 1217.3h0M2535.3 1218.7h0M2531.5 1229h0M2596.2 1219.4h0M2608.3 1234.3h0M2517.2 1247.1h0M2531.5 1245h0M2543.2 1242.2h0M2542.1 1257.4h0M2535.3 1271.3h0M2532.1 1277.7h0M2517.2 1287.3h0M2469.1 1308.4h0M2530 1314.8h0M2842.4 924.1h0M2856.3 1034.3h0M2856.3 1085.3h0M2936.3 1082.4h0M2856.3 1117.2h0M2915.5 1122.5h0M2842.4 1143.3h0M2851.1 1141h0M2850.6 1211.9h0M2856 1210.8h0M2850.6 1219.4h0M2851.3 1225.1h0M2839.3 1314.4h0M2912.4 1186.3h0M2919.5 1301.2h0M3145.2 845.2h0M3203.2 1047.1h0M3203.2 1093.5h0M3204.4 1103.3h0M3204.4 1119h0M3204.4 1150.9h0M3189.3 1219.4h0M3145.3 1253.3h0M3204.3 1283.4h0M3207 1302.2h0M3201.3 1307.6h0M3147.3 1313.3h0M3388 696.1h0M3388 733.2h0M3445.5 661.3h0M3445.5 758.2h0M3462.3 831.9h0M3388 1132.3h0M3397.3 1127.1h0M3406 1124.2h0M3397.3 1154.4h0M3397.3 1161.9h0M3430.1 1205.5h0M3417.3 1216.2h0M3392.8 1246.1h0M3397.3 1248.2h0M3420.1 1257.8h0M3420.1 1264.2h0M3420.1 1272.3h0M3420.1 1284.5h0M3420.1 1288.8h0M3430.1 1297.3h0M3378.9 1302.2h0M3420.1 1308h0M3415.2 1308h0M3420.1 1312.3h0M3466.3 1208.1h0M3466.3 1216.2h0M3444.5 1264.2h0M3624.2 532h0M3607.3 550h0M3624.2 584.2h0M3607.3 634.1h0M3624.2 676.4h0M3624.2 708.3h0M3607.3 724h0M3661.3 789.5h0M3661.3 822h0M3652 866.1h0M3652 871.3h0M3607.3 888.7h0M3614.3 896.8h0M3607.3 908.4h0M3607.3 916.5h0M3652 925.8h0M3624.2 969.3h0M3652 975.1h0M3660.1 969.3h0M3660.1 993.1h0M3607.3 994.8h0M3607.3 1004.7h0M3620.1 1019.2h0M3652 1025h0M3620.1 1035.5h0M3625.9 1046.5h0M3620.1 1061.6h0M3625.9 1060.5h0M3650.8 1076.6h0M3660.7 1071.4h0M3660.7 1078.4h0M3620.1 1087.1h0M3614.3 1101h0M3614.3 1110.9h0M3620.1 1121.3h0M3612 1144.5h0M3618.4 1148.6h0M3620.1 1141h0M3660.1 1137h0M3660.1 1144.5h0M3650.8 1152.6h0M3607.3 1163.6h0M3610.4 1199.1h0M3615.7 1206.6h0M3617.4 1219.4h0M3610.4 1204.4h0M3645.2 1205.1h0M3607.2 1232.2h0M3610.4 1248.2h0M3626 1245h0M3645.2 1239.2h0M3654.2 1243.9h0M3660.1 1243.9h0M3660.1 1250.3h0M3651 1258.5h0M3660.1 1263.2h0M3660.1 1274.3h0M3620 1278.1h0M3607.2 1297.3h0M3607.2 1308h0M3607.2 1314.4h0M3626 1296.9h0M3620 1320.8h0M3626 1320.2h0M3651 1296.9h0M3656.3 1305.9h0M3660.1 1314.4h0M3617.2 1152h0M3651.4 1153.2h0M3827.4 696.1h0M3830.3 884.1h0M3829 1086.5h0M3829 1090.5h0M3829 1117.2h0M3829 1167.7h0M3829.2 1169.2h0M3829.2 1179.5h0M3843.3 1192.3h0M3829.2 1207.6h0M3829.2 1213h0M3837.3 1222.6h0M3837.3 1227.9h0M3829.2 1251.4h0M3838.2 1276.4h0M3829.2 1295.2h0M3843.3 1292.6h0M3837.3 1304.8h0"/><path stroke="#bfbfbf" d="M765 722.2h0M591 781.4h0M776 819.1h0M776 825.5h0M591 877.1h0M591 892.2h0M658.3 914.2h0M658.3 945h0M589.2 1004.1h0M591.5 1008.8h0M521.9 1074.3h0M535.3 1073.3h0M545.1 1066.4h0M535.3 1112h0M634.5 1105.1h0M606 1127.1h0M646.1 1132.9h0M634.5 1186.3h0M535.4 1210.4h0M591.4 1212.3h0M609.3 1217.5h0M712.4 1235.4h0M734 1235.4h0M518.3 1264.4h0M712.4 1262.5h0M591.4 1275.3h0M693.2 1275.3h0M541.2 1277.5h0M555.3 1284.5h0M568.5 1287.3h0M721.4 1287.3h0M734 1284.5h0M566.2 1307.3h0M562.1 1319.3h0M606.3 1314.2h0M623.2 1311.2h0M722.2 1307.3h0M732.3 1307.3h0M733.3 1312.3h0M777.4 1239.2h0M753.5 1271.3h0M770.6 1270.6h0M770.6 1276h0M770.6 1300.5h0M770.6 1308.4h0M770.6 1316.5h0M1095.6 461.2h0M1251 826.1h0M1251 1019.2h0M1251 1050h0M1219.1 1065h0M1147.2 1131.2h0M1250.5 1168h0M1250.5 1174.6h0M1209.3 1221.5h0M1147.4 1231.3h0M1205.5 1248.4h0M1066.3 1271.3h0M1133.1 1284.5h0M1072.2 1298.4h0M1191.1 1293.5h0M1076.3 1314.4h0M1218.3 1315.5h0M1568.3 819.1h0M1550.3 918.3h0M1597.9 929.9h0M1658.3 951.4h0M1680.3 950.2h0M1550.3 1096.4h0M1686.1 1097.5h0M1658.3 1142.2h0M1680.3 1131.7h0M1680.3 1135.2h0M1547.4 1156.1h0M1550.3 1176.5h0M1638.3 1180.3h0M1568.3 1205.3h0M1680.3 1232.4h0M1580.2 1252.5h0M1644.3 1256.3h0M1655.4 1259.3h0M1553.3 1269.1h0M1618 1282.4h0M1627.2 1292.4h0M1655.4 1293h0M1675.2 1288.1h0M1547.1 1297.3h0M1568.3 1294.1h0M1561.2 1306.3h0M2054.3 562.1h0M1948.9 856.2h0M2056.1 914.2h0M1948.9 933.9h0M1927.5 1030.8h0M1927.5 1055.7h0M2008.1 1050h0M1987.2 1083h0M1987.2 1093.5h0M1980.3 1103.9h0M1987.2 1105.1h0M1987.2 1118.4h0M1927.5 1109.7h0M1948.9 1134.6h0M1979.1 1142.8h0M2033.6 1126.5h0M1978.7 1192.3h0M1987.2 1209.4h0M1984.4 1215.1h0M2030.3 1209.4h0M2056.6 1187.4h0M2079.4 1185.4h0M1959.4 1235.4h0M1978.7 1241.4h0M2030.3 1241.4h0M2039.5 1230.5h0M1945.6 1257.2h0M2030.3 1292.4h0M1949.4 1302.2h0M1978.7 1306.5h0M2081.6 1300.5h0M2360.5 693.8h0M2319.3 754.1h0M2325.1 1134.1h0M2374.4 1124.8h0M2374.4 1139.9h0M2374.4 1168h0M2318.3 1220.5h0M2310.6 1234.3h0M2322.4 1231.6h0M2305.3 1261.2h0M2310.6 1274.3h0M2318.3 1284.5h0M2349.5 1296.5h0M2371.3 1176.3h0M2376.7 1176.3h0M2396.3 1197.2h0M2395.5 1213.4h0M2371.3 1252.5h0M2374.6 1271.3h0M2430.3 1270.2h0M2371.3 1292h0M2374.6 1296.5h0M2375 1317.6h0M2399.5 1321.2h0M2655.2 654.9h0M2695.3 696.1h0M2695.3 714.1h0M2763.2 713h0M2695.3 810.4h0M2695.3 846.4h0M2762 879.4h0M2655.2 972.2h0M2695.3 970.5h0M2779.4 1004.1h0M2762 1016.3h0M2763.2 1022h0M2763.2 1070.8h0M2787 1079h0M2763.2 1092.3h0M2655.2 1099.3h0M2699.9 1096.4h0M2763.2 1115.5h0M2779.4 1118.9h0M2763.2 1130h0M2704 1143.3h0M2763.2 1141.6h0M2763.2 1151.5h0M2649 1168h0M2649.5 1171.3h0M2653.2 1210.4h0M2695.2 1220.5h0M2733.2 1211.5h0M2763.1 1200.6h0M2767.4 1200.6h0M2763.1 1238h0M2771.7 1234.3h0M2779.1 1232.2h0M2700.3 1246.5h0M2763.1 1255.3h0M2649.5 1269.1h0M2705.3 1266.4h0M2729.2 1265.3h0M2771.2 1273.4h0M2705.3 1288.3h0M2763.1 1289.4h0M2705.3 1303.7h0M2700.1 1313.3h0M2705.3 1320.8h0M2767.4 1311.2h0M3018.1 1081.3h0M3018.1 1121.3h0M3018.1 1128.3h0M3018.1 1166.5h0M3008.5 1196.3h0M2995.5 1232.2h0M2995.5 1247.4h0M2995.5 1296.2h0M3083.2 1271.3h0M3086 1270h0M3062.5 1291.3h0M3330.3 708.3h0M3330.3 754.1h0M3330.3 757h0M3255.4 928.7h0M3255.4 958.3h0M3312.3 943.2h0M3330.3 943.8h0M3330.3 998.9h0M3255.4 1048.2h0M3263 1047.1h0M3262.4 1069.7h0M3275.2 1075.5h0M3330.3 1054h0M3255.4 1092.9h0M3346.5 1104.5h0M3346.5 1117.8h0M3330.3 1134.6h0M3339.6 1132.3h0M3339.6 1142.2h0M3349.1 1134.6h0M3261.2 1161.3h0M3312.3 1160.2h0M3330.3 1167.1h0M3330.2 1168.1h0M3330.2 1173.5h0M3313.8 1186.3h0M3317 1189.5h0M3340.1 1189.5h0M3349 1193.3h0M3349 1209.8h0M3348.6 1211.9h0M3275.4 1206.6h0M3330.2 1235.4h0M3261.5 1247.4h0M3283.5 1278.5h0M3284.5 1290.9h0M3283.5 1297.3h0M3283.5 1306.5h0M3517.4 931h0M3572.5 957.1h0M3504.1 982.1h0M3506.4 1062.7h0M3525.5 1054.6h0M3545.2 1052.8h0M3504.1 1103.3h0M3545.2 1114.3h0M3502.9 1145.1h0M3525.5 1139.9h0M3554.5 1138.1h0M3572.5 1138.7h0M3574.3 1163.1h0M3542.5 1180.3h0M3506.2 1191.2h0M3494.5 1218.3h0M3572.4 1218.3h0M3494.5 1241.4h0M3514.3 1237.5h0M3514.3 1243.5h0M3514.3 1262.5h0M3542.5 1267.4h0M3546.4 1282.4h0M3493.4 1305.2h0M3504.3 1316.3h0M3710.3 1190.6h0M3745.3 1202.3h0M3753.4 1212.6h0M3745.3 1228.4h0M3699.4 1285.4h0M3746.4 1288.8h0M3745.3 1297.3h0M3721.4 1308.4h0M3766.3 1311.2h0M3922.1 972.8h0M3925 1047.1h0M3925 1094h0M3918.9 1235.4h0M3918.9 1248.2h0M3918.9 1258.5h0M3928.9 1303.3h0M3920.4 1309.1h0"/></g><g fill="#000"><rect x="185" y="36" width="4" height="1891"/><rect x="170" y="1923.0" width="17" height="4"/><rect x="170" y="1520.0" width="17" height="4"/><rect x="170" y="1117.0" width="17" height="4"/><rect x="170" y="714.0" width="17" height="4"/><rect x="170" y="311.0" width="17" height="4"/></g><g font-size="58.33" fill="#000" text-anchor="end"><text x="153" y="1947.5">0</text><text x="153" y="1544.5">1</text><text x="153" y="1141.5">2</text><text x="153" y="738.5">3</text><text x="153" y="335.5">4</text></g><g font-size="58.33" fill="#000" text-anchor="middle"><text x="350.5" y="2004">1</text><text x="646.5" y="2004">2</text><text x="914.5" y="2004">3</text><text x="1154.5" y="2004">4</text><text x="1385.0" y="2004">5</text><text x="1604.5" y="2004">6</text><text x="1811.5" y="2004">7</text><text x="2005.0" y="2004">8</text><text x="2189.0" y="2004">9</text><text x="2367.0" y="2004">10</text><text x="2541.5" y="2004">11</text><text x="2715.5" y="2004">12</text><text x="2879.0" y="2004">13</text><text x="3027.5" y="2004">14</text><text x="3169.0" y="2004">15</text><text x="3301.5" y="2004">16</text><text x="3422.5" y="2004">17</text><text x="3536.5" y="2004">18</text><text x="3638.5" y="2004">19</text><text x="3732.5" y="2004">20</text><text x="3820.5" y="2004">21</text><text x="3902.0" y="2004">22</text></g><text x="2084.7" y="2080" font-size="58.33" text-anchor="middle">Chromosome</text><text style="filter:grayscale(1)" transform="translate(81,982) rotate(-90)" font-size="58.33" text-anchor="middle">−log<tspan font-size="41" dy="9.3">10</tspan><tspan dy="-9.3"> (p value)</tspan></text></svg></body></html>
